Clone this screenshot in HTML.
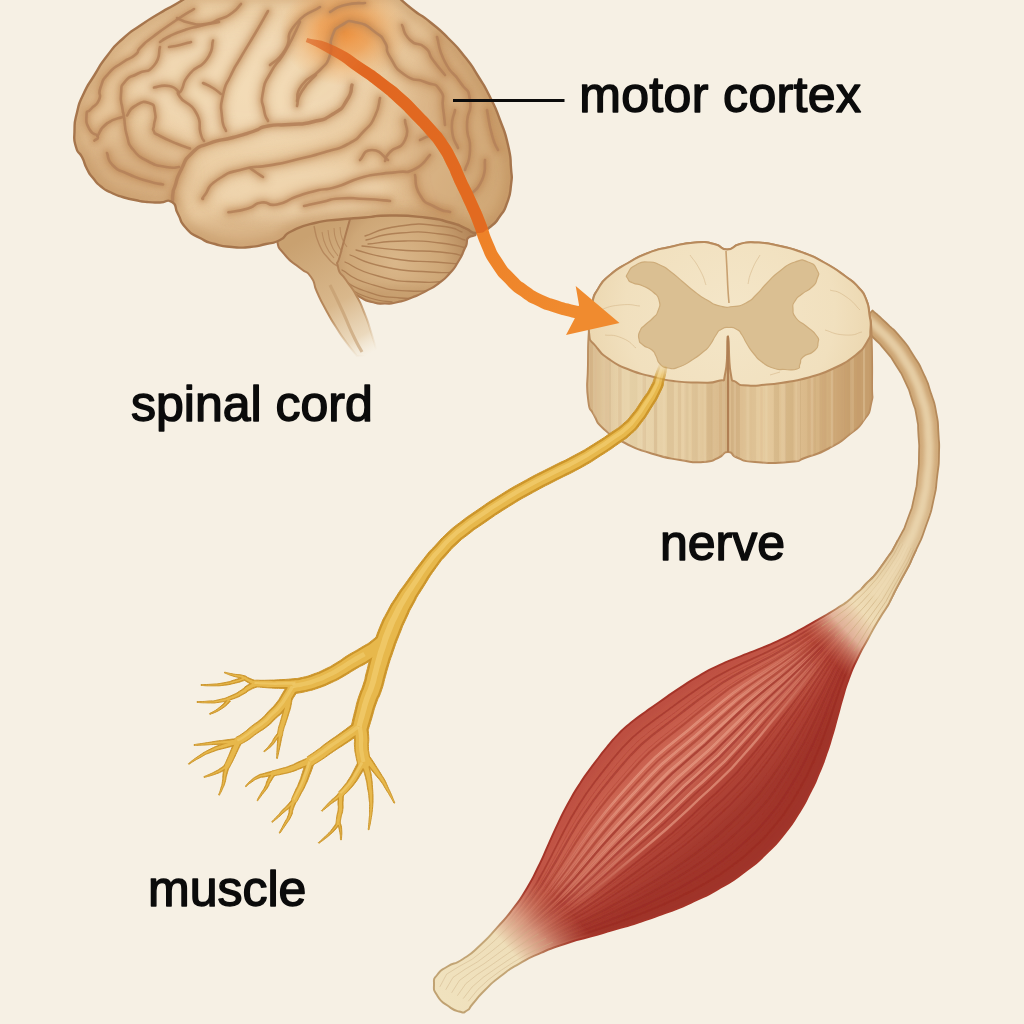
<!DOCTYPE html>
<html><head><meta charset="utf-8"><title>Motor pathway</title>
<style>html,body{margin:0;padding:0;background:#f6f0e4;}svg{display:block;}</style></head>
<body>
<svg width="1024" height="1024" viewBox="0 0 1024 1024">

<defs>
<filter id="b05" filterUnits="userSpaceOnUse" x="0" y="0" width="1024" height="1024"><feGaussianBlur stdDeviation="0.45"/></filter>
<filter id="b1" filterUnits="userSpaceOnUse" x="0" y="0" width="1024" height="1024"><feGaussianBlur stdDeviation="0.7"/></filter>
<filter id="b2" filterUnits="userSpaceOnUse" x="0" y="0" width="1024" height="1024"><feGaussianBlur stdDeviation="2"/></filter>
<filter id="b4" filterUnits="userSpaceOnUse" x="0" y="0" width="1024" height="1024"><feGaussianBlur stdDeviation="4"/></filter>
<filter id="b8" filterUnits="userSpaceOnUse" x="0" y="0" width="1024" height="1024"><feGaussianBlur stdDeviation="8"/></filter>
<filter id="b12" filterUnits="userSpaceOnUse" x="0" y="0" width="1024" height="1024"><feGaussianBlur stdDeviation="12"/></filter>
<radialGradient id="gBrain" gradientUnits="userSpaceOnUse" cx="250" cy="90" r="300">
 <stop offset="0" stop-color="#f0d6ae"/><stop offset=".55" stop-color="#e7c69a"/><stop offset="1" stop-color="#d2a874"/>
</radialGradient>
<radialGradient id="gGlow" cx=".5" cy=".5" r=".5">
 <stop offset="0" stop-color="#ee8c36" stop-opacity=".92"/><stop offset=".4" stop-color="#ef9440" stop-opacity=".68"/><stop offset=".75" stop-color="#f0a050" stop-opacity=".26"/><stop offset="1" stop-color="#f0a050" stop-opacity="0"/>
</radialGradient>
<radialGradient id="gCb" gradientUnits="userSpaceOnUse" cx="395" cy="262" r="80">
 <stop offset="0" stop-color="#dab78a"/><stop offset=".6" stop-color="#cea777"/><stop offset="1" stop-color="#b4875a"/>
</radialGradient>
<linearGradient id="gStem" gradientUnits="userSpaceOnUse" x1="300" y1="240" x2="366" y2="356">
 <stop offset="0" stop-color="#c9a170"/><stop offset=".55" stop-color="#d9b88c"/><stop offset=".85" stop-color="#e6cfac" stop-opacity=".7"/><stop offset="1" stop-color="#f0e2c8" stop-opacity="0"/>
</linearGradient>
<linearGradient id="gStemS" gradientUnits="userSpaceOnUse" x1="300" y1="240" x2="366" y2="356">
 <stop offset="0" stop-color="#a9774f"/><stop offset=".6" stop-color="#b88a5c"/><stop offset="1" stop-color="#d8b88c" stop-opacity="0"/>
</linearGradient>
<linearGradient id="gArrow" gradientUnits="userSpaceOnUse" x1="307" y1="41" x2="575" y2="311">
 <stop offset="0" stop-color="#ee8a3a" stop-opacity=".05"/><stop offset=".1" stop-color="#ec8030" stop-opacity=".8"/><stop offset=".16" stop-color="#ea7a2a"/><stop offset=".7" stop-color="#ee8228"/><stop offset="1" stop-color="#f08b2f"/>
</linearGradient>
<linearGradient id="gWall" gradientUnits="userSpaceOnUse" x1="588" y1="0" x2="872" y2="0">
 <stop offset="0" stop-color="#dfc59a"/><stop offset=".15" stop-color="#e9d5ad"/><stop offset=".45" stop-color="#e3c99d"/><stop offset=".6" stop-color="#e6cca0"/><stop offset=".85" stop-color="#d4b07f"/><stop offset="1" stop-color="#c9a270"/>
</linearGradient>
<radialGradient id="gTop" gradientUnits="userSpaceOnUse" cx="730" cy="312" r="150">
 <stop offset="0" stop-color="#f4e6c8"/><stop offset=".7" stop-color="#f1e0be"/><stop offset="1" stop-color="#ebd6ae"/>
</radialGradient>
<linearGradient id="gNerveR" gradientUnits="userSpaceOnUse" x1="866" y1="316" x2="845" y2="632">
 <stop offset="0" stop-color="#c9a06e"/><stop offset=".45" stop-color="#d0aa7a"/><stop offset=".72" stop-color="#dcc095"/><stop offset="1" stop-color="#e6cfa4"/>
</linearGradient>
<linearGradient id="gMusX" gradientUnits="userSpaceOnUse" x1="600" y1="740" x2="700" y2="850">
 <stop offset="0" stop-color="#c25646"/><stop offset=".35" stop-color="#c95f4d"/><stop offset=".7" stop-color="#b6483a"/><stop offset="1" stop-color="#a3392e"/>
</linearGradient>
<linearGradient id="gTend" gradientUnits="userSpaceOnUse" x1="918" y1="540" x2="436" y2="996">
 <stop offset="0" stop-color="#dcc095"/><stop offset=".08" stop-color="#e8d3a9"/><stop offset=".135" stop-color="#efdcb6"/><stop offset=".172" stop-color="#f0d2b6" stop-opacity=".78"/><stop offset=".22" stop-color="#d98a6e" stop-opacity="0"/>
 <stop offset=".765" stop-color="#d98a6e" stop-opacity="0"/><stop offset=".825" stop-color="#e9bfa0" stop-opacity=".65"/><stop offset=".872" stop-color="#efdfba"/><stop offset="1" stop-color="#f0e2be"/>
</linearGradient>
<linearGradient id="gMusS" gradientUnits="userSpaceOnUse" x1="918" y1="540" x2="436" y2="996">
 <stop offset="0" stop-color="#b58a5b"/><stop offset=".15" stop-color="#c4a070"/><stop offset=".2" stop-color="#a53428"/><stop offset=".788" stop-color="#a53428"/><stop offset=".876" stop-color="#c4a677"/><stop offset="1" stop-color="#c0a272"/>
</linearGradient>
<linearGradient id="gHi" gradientUnits="userSpaceOnUse" x1="918" y1="540" x2="436" y2="996">
 <stop offset=".24" stop-color="#efa78f" stop-opacity="0"/><stop offset=".38" stop-color="#efa78f" stop-opacity=".6"/><stop offset=".6" stop-color="#efa78f" stop-opacity=".6"/><stop offset=".752" stop-color="#efa78f" stop-opacity="0"/>
</linearGradient>
<linearGradient id="gYM" gradientUnits="userSpaceOnUse" x1="0" y1="363" x2="0" y2="384">
 <stop offset="0" stop-color="#000"/><stop offset="1" stop-color="#fff"/>
</linearGradient>
<mask id="mY" maskUnits="userSpaceOnUse" x="0" y="0" width="1024" height="1024"><rect width="1024" height="1024" fill="url(#gYM)"/></mask>
<linearGradient id="gYFade" gradientUnits="userSpaceOnUse" x1="0" y1="358" x2="0" y2="392">
 <stop offset="0" stop-color="#d8bb8c" stop-opacity="1"/><stop offset="1" stop-color="#d8bb8c" stop-opacity="0"/>
</linearGradient>
</defs>

<rect width="1024" height="1024" fill="#f6f0e4"/>
<path d="M340 230C335.8 244 336.7 238.3 335.5 250C334.3 261.7 334.7 255.7 336.5 265C338.3 274.3 336.8 270 341 278C345.2 286 342.7 282.7 349 289C355.3 295.3 352.3 292.7 360 297C367.7 301.3 363.7 299.8 372 302C380.3 304.2 376.3 303.5 385 303.5C393.7 303.5 389 304 398 302C407 300 402.7 301.2 412 297.5C421.3 293.8 417 295.8 426 291C435 286.2 431 289 439 283C447 277 443.7 280 450 273C456.3 266 453.3 269.7 458 262C462.7 254.3 461 257.3 464 250C467 242.7 466.7 247.3 467 240C467.3 232.7 487.3 239.3 465 228C442.7 216.7 439 212.7 400 206C361 199.3 368 200 348 208C328 216 344.2 216 340 230Z" fill="url(#gCb)" stroke="#a9774f" stroke-width="2.2"/>
<clipPath id="cCb"><path d="M340 230C335.8 244 336.7 238.3 335.5 250C334.3 261.7 334.7 255.7 336.5 265C338.3 274.3 336.8 270 341 278C345.2 286 342.7 282.7 349 289C355.3 295.3 352.3 292.7 360 297C367.7 301.3 363.7 299.8 372 302C380.3 304.2 376.3 303.5 385 303.5C393.7 303.5 389 304 398 302C407 300 402.7 301.2 412 297.5C421.3 293.8 417 295.8 426 291C435 286.2 431 289 439 283C447 277 443.7 280 450 273C456.3 266 453.3 269.7 458 262C462.7 254.3 461 257.3 464 250C467 242.7 466.7 247.3 467 240C467.3 232.7 487.3 239.3 465 228C442.7 216.7 439 212.7 400 206C361 199.3 368 200 348 208C328 216 344.2 216 340 230Z"/></clipPath>
<g clip-path="url(#cCb)"><ellipse cx="400" cy="300" rx="70" ry="14" fill="#b58858" opacity=".35" filter="url(#b4)"/></g>
<g fill="none" stroke="#a8784e" stroke-width="1.3" opacity=".85" stroke-linecap="round" clip-path="url(#cCb)">
<path d="M365 236C376.7 232.7 375 229.3 400 226C425 222.7 419.3 224 440 226C460.7 228 454.7 230 462 232"/>
<path d="M366 240C377.3 237.7 375.3 235 400 233C424.7 231 418.3 231.7 440 234C461.7 236.3 456.7 238 465 240"/>
<path d="M368 244C380.3 243 381 241.3 405 241C429 240.7 419.7 240.7 440 243C460.3 245.3 457.3 246.3 466 248"/>
<path d="M362 246C374.7 247.3 374 248 400 250C426 252 418.7 250 440 252C461.3 254 456 254.7 464 256"/>
<path d="M356 250C369 253 368.7 255 395 259C421.3 263 413.3 260.3 435 262C456.7 263.7 451.7 263.3 460 264"/>
<path d="M350 255C361.7 259 358.3 261.3 385 267C411.7 272.7 406.7 270.3 430 272C453.3 273.7 446.7 272 455 272"/>
<path d="M345 262C356 266.7 353 269.3 378 276C403 282.7 396.7 280.7 420 282C443.3 283.3 438.7 280.7 448 280"/>
<path d="M342 270C351.3 274.7 347.3 277 370 284C392.7 291 387.3 289.7 410 291C432.7 292.3 428.7 289 438 288"/>
<path d="M343 279C350.3 283 346 284.7 365 291C384 297.3 380 296.3 400 298C420 299.7 416.7 296.7 425 296"/>
<path d="M350 289C356.7 292 356 293.7 370 298C384 302.3 384.7 300.7 392 302"/>
</g>
<path d="M292 212C287.7 216.7 284 216.7 279 226C274 235.3 275 230.3 277 240C279 249.7 277.3 245.7 285 255C292.7 264.3 291.3 260.7 300 268C308.7 275.3 305.3 269 311 277C316.7 285 312 281 317 292C322 303 319.7 298.3 326 310C332.3 321.7 329.3 316.3 336 327C342.7 337.7 339 332.3 346 342C353 351.7 353.3 351.3 357 356L378 356C375.7 348 375.7 346.7 371 332C366.3 317.3 369 324.3 364 312C359 299.7 362 305.7 356 295C350 284.3 352 289.3 346 280C340 270.7 339.7 276.3 338 267C336.3 257.7 336.3 270.3 341 252C345.7 233.7 348.3 225.3 352 212Z" fill="url(#gStem)" stroke="url(#gStemS)" stroke-width="2"/>
<g fill="none" stroke="#b08156" stroke-width="1.1" opacity=".7">
<path d="M322 232C323.3 236.7 322 237.3 326 246C330 254.7 331.3 254 334 258"/>
<path d="M328 230C329 234.7 327.7 235.3 331 244C334.3 252.7 335.7 252 338 256"/>
<path d="M334 228C334.7 232 333.3 232 336 240C338.7 248 340 248 342 252"/>
<path d="M340 227C340.7 230.7 339.7 231.3 342 238C344.3 244.7 345.3 244 347 247"/>
</g>
<path d="M314 226C315.7 232 314.3 233.3 319 244C323.7 254.7 322 250.7 328 258C334 265.3 334 263.3 337 266" fill="none" stroke="#b08156" stroke-width="1.4" opacity=".8"/>
<path d="M330 285C334 293.3 334.3 293.3 342 310C349.7 326.7 346.3 321 353 335C359.7 349 359 346.3 362 352" fill="none" stroke="#c29a6c" stroke-width="3" opacity=".6"/>
<path d="M192 -6C186.7 -2.7 186.7 -2.3 176 4C165.3 10.3 171.7 6 160 13C148.3 20 153.5 16.3 141 25C128.5 33.7 133.8 28.7 122.5 39C111.2 49.3 116.3 44 107 56C97.7 68 102.3 62.3 94.5 75C86.7 87.7 89.3 81.5 83.5 94C77.7 106.5 80 100.2 77 112.5C74 124.8 74.8 119.5 74.5 131C74.2 142.5 73.5 138.3 76 147C78.5 155.7 78.3 149.7 82 157C85.7 164.3 83.3 162 87 169C90.7 176 88.3 172.2 93 178C97.7 183.8 95 181.7 101 186.5C107 191.3 103.8 189 111 192.5C118.2 196 114.5 194.5 122.5 197C130.5 199.5 126.8 198.3 135 200C143.2 201.7 138.7 201.2 147 202C155.3 202.8 151.7 202.5 160 202.5C168.3 202.5 166 198.2 172 202C178 205.8 173.3 205.3 178 214C182.7 222.7 178.7 220 186 228C193.3 236 190.3 232.7 200 238C209.7 243.3 204.3 241 215 244C225.7 247 220.3 246 232 247C243.7 248 238.7 248 250 247C261.3 246 256 246.3 266 244C276 241.7 271.3 244.3 280 240C288.7 235.7 280.3 236.7 292 231C303.7 225.3 299 226.8 315 223C331 219.2 323.3 221.3 340 219.5C356.7 217.7 348.3 218.8 365 217.5C381.7 216.2 370 215.5 390 215.5C410 215.5 405 215.2 425 217.5C445 219.8 436.7 219 450 222.5C463.3 226 456 224.5 465 228C474 231.5 468.7 233.3 477 233C485.3 232.7 482.3 232.7 490 227C497.7 221.3 494.3 224 500 216C505.7 208 503.3 213.3 507 203C510.7 192.7 509.7 196.7 511 185C512.3 173.3 512 181.3 511 168C510 154.7 511.7 161 508 145C504.3 129 506 136 500 120C494 104 497.3 111.7 490 97C482.7 82.3 486.3 89.3 478 76C469.7 62.7 475 69.7 465 57C455 44.3 459.7 49.7 448 38C436.3 26.3 442 31.7 430 22C418 12.3 423.7 18.3 412 9C400.3 -0.3 400.7 -1 395 -6Z" fill="url(#gBrain)"/>
<clipPath id="cBrain"><path d="M192 -6C186.7 -2.7 186.7 -2.3 176 4C165.3 10.3 171.7 6 160 13C148.3 20 153.5 16.3 141 25C128.5 33.7 133.8 28.7 122.5 39C111.2 49.3 116.3 44 107 56C97.7 68 102.3 62.3 94.5 75C86.7 87.7 89.3 81.5 83.5 94C77.7 106.5 80 100.2 77 112.5C74 124.8 74.8 119.5 74.5 131C74.2 142.5 73.5 138.3 76 147C78.5 155.7 78.3 149.7 82 157C85.7 164.3 83.3 162 87 169C90.7 176 88.3 172.2 93 178C97.7 183.8 95 181.7 101 186.5C107 191.3 103.8 189 111 192.5C118.2 196 114.5 194.5 122.5 197C130.5 199.5 126.8 198.3 135 200C143.2 201.7 138.7 201.2 147 202C155.3 202.8 151.7 202.5 160 202.5C168.3 202.5 166 198.2 172 202C178 205.8 173.3 205.3 178 214C182.7 222.7 178.7 220 186 228C193.3 236 190.3 232.7 200 238C209.7 243.3 204.3 241 215 244C225.7 247 220.3 246 232 247C243.7 248 238.7 248 250 247C261.3 246 256 246.3 266 244C276 241.7 271.3 244.3 280 240C288.7 235.7 280.3 236.7 292 231C303.7 225.3 299 226.8 315 223C331 219.2 323.3 221.3 340 219.5C356.7 217.7 348.3 218.8 365 217.5C381.7 216.2 370 215.5 390 215.5C410 215.5 405 215.2 425 217.5C445 219.8 436.7 219 450 222.5C463.3 226 456 224.5 465 228C474 231.5 468.7 233.3 477 233C485.3 232.7 482.3 232.7 490 227C497.7 221.3 494.3 224 500 216C505.7 208 503.3 213.3 507 203C510.7 192.7 509.7 196.7 511 185C512.3 173.3 512 181.3 511 168C510 154.7 511.7 161 508 145C504.3 129 506 136 500 120C494 104 497.3 111.7 490 97C482.7 82.3 486.3 89.3 478 76C469.7 62.7 475 69.7 465 57C455 44.3 459.7 49.7 448 38C436.3 26.3 442 31.7 430 22C418 12.3 423.7 18.3 412 9C400.3 -0.3 400.7 -1 395 -6Z"/></clipPath>
<g clip-path="url(#cBrain)">
<ellipse cx="470" cy="150" rx="70" ry="120" fill="#c79a6a" opacity=".35" filter="url(#b12)"/>
<ellipse cx="125" cy="175" rx="62" ry="38" fill="#c39362" opacity=".42" filter="url(#b12)"/>
<ellipse cx="330" cy="235" rx="160" ry="22" fill="#b88859" opacity=".30" filter="url(#b8)"/>
<ellipse cx="250" cy="80" rx="120" ry="60" fill="#f6e2c2" opacity=".45" filter="url(#b12)"/>
<ellipse cx="300" cy="190" rx="90" ry="28" fill="#f3dcb8" opacity=".5" filter="url(#b8)"/>
<path d="M192 -6C186.7 -2.7 186.7 -2.3 176 4C165.3 10.3 171.7 6 160 13C148.3 20 153.5 16.3 141 25C128.5 33.7 133.8 28.7 122.5 39C111.2 49.3 116.3 44 107 56C97.7 68 102.3 62.3 94.5 75C86.7 87.7 89.3 81.5 83.5 94C77.7 106.5 80 100.2 77 112.5C74 124.8 74.8 119.5 74.5 131C74.2 142.5 73.5 138.3 76 147C78.5 155.7 78.3 149.7 82 157C85.7 164.3 83.3 162 87 169C90.7 176 88.3 172.2 93 178C97.7 183.8 95 181.7 101 186.5C107 191.3 103.8 189 111 192.5C118.2 196 114.5 194.5 122.5 197C130.5 199.5 126.8 198.3 135 200C143.2 201.7 138.7 201.2 147 202C155.3 202.8 151.7 202.5 160 202.5C168.3 202.5 166 198.2 172 202C178 205.8 173.3 205.3 178 214C182.7 222.7 178.7 220 186 228C193.3 236 190.3 232.7 200 238C209.7 243.3 204.3 241 215 244C225.7 247 220.3 246 232 247C243.7 248 238.7 248 250 247C261.3 246 256 246.3 266 244C276 241.7 271.3 244.3 280 240C288.7 235.7 280.3 236.7 292 231C303.7 225.3 299 226.8 315 223C331 219.2 323.3 221.3 340 219.5C356.7 217.7 348.3 218.8 365 217.5C381.7 216.2 370 215.5 390 215.5C410 215.5 405 215.2 425 217.5C445 219.8 436.7 219 450 222.5C463.3 226 456 224.5 465 228C474 231.5 468.7 233.3 477 233C485.3 232.7 482.3 232.7 490 227C497.7 221.3 494.3 224 500 216C505.7 208 503.3 213.3 507 203C510.7 192.7 509.7 196.7 511 185C512.3 173.3 512 181.3 511 168C510 154.7 511.7 161 508 145C504.3 129 506 136 500 120C494 104 497.3 111.7 490 97C482.7 82.3 486.3 89.3 478 76C469.7 62.7 475 69.7 465 57C455 44.3 459.7 49.7 448 38C436.3 26.3 442 31.7 430 22C418 12.3 423.7 18.3 412 9C400.3 -0.3 400.7 -1 395 -6Z" fill="none" stroke="#b58350" stroke-width="16" opacity=".33" filter="url(#b4)"/>
<ellipse cx="344" cy="32" rx="64" ry="54" fill="url(#gGlow)"/>
</g>
<g clip-path="url(#cBrain)" fill="none" stroke-linecap="round" stroke-linejoin="round">
<g filter="url(#b4)" opacity=".42" stroke="#c08a58" stroke-width="12">
<path d="M172.5 201C172.7 198.3 172.2 198 173 193C173.8 188 172.3 193.7 175 186C177.7 178.3 175.3 181 181 170C186.7 159 182.7 161.8 192 153C201.3 144.2 195.3 148.7 209 143.5C222.7 138.3 218.3 141.5 233 137.5C247.7 133.5 241.3 135.3 253 131.5C264.7 127.7 255.7 128.3 268 126C280.3 123.7 275.3 125.8 290 124.5C304.7 123.2 297.7 125.5 312 122C326.3 118.5 321.3 121.3 333 114C344.7 106.7 340.7 109.7 347 100C353.3 90.3 350.3 90 352 85"/>
<path d="M194 9C187.7 13 188.3 12 175 21C161.7 30 165.3 27.3 154 36C142.7 44.7 147.3 40.7 141 47C134.7 53.3 141.2 49.8 135 55C128.8 60.2 131.3 56.3 122.5 62.5C113.7 68.7 115.8 65.2 108.5 73.5C101.2 81.8 103.7 78.7 100.5 87.5C97.3 96.3 102.2 92.8 99 100C95.8 107.2 95.2 103.8 91 109C86.8 114.2 86.9 108.6 86.5 115.5C86.1 122.4 86 122.9 89.7 129.7C93.4 136.5 95.9 132.4 97.5 136C99.1 139.6 95.4 139.1 94.4 140.6"/>
<path d="M219 22C212.7 23.3 211.3 23.3 200 26C188.7 28.7 195 26.7 185 30C175 33.3 178.3 32 170 36C161.7 40 163.3 40 160 42"/>
<path d="M191 42C187.3 43 187.3 43.3 180 45C172.7 46.7 172.7 46.3 169 47"/>
<path d="M177 18C181.3 19.7 180.7 21 190 23C199.3 25 195 25.3 205 24C215 22.7 211 22.7 220 19C229 15.3 225 18 232 13C239 8 238 7 241 4"/>
<path d="M213 40.6C211 46.7 214.7 48 207 59C199.3 70 198.3 63.5 190 73.5C181.7 83.5 185.3 81.2 182 89C178.7 96.8 175.3 89.2 180 97C184.7 104.8 189.2 100.5 196 112.5C202.8 124.5 197.8 123.5 200.5 133C203.2 142.5 202.8 138.3 204 141"/>
<path d="M268 11C264 18 265 16.7 256 32C247 47.3 249.3 42.7 241 57C232.7 71.3 237 62.3 231 75C225 87.7 226 81 223 95C220 109 221 105 222 117C223 129 224.7 126.3 226 131"/>
<path d="M300 22C295.3 31.3 295.7 33.3 286 50C276.3 66.7 278.7 58 271 72C263.3 86 265.3 79.3 263 92C260.7 104.7 262.3 100.3 264 110C265.7 119.7 266.7 117.3 268 121"/>
<path d="M316 75C311.3 80.3 308.3 80.7 302 91C295.7 101.3 298.7 101 297 106"/>
<path d="M160 47C158 53.2 161.3 56.7 154 65.5C146.7 74.3 147.5 68.3 138 73.5C128.5 78.7 131.2 74.2 125.5 81C119.8 87.8 122 84.7 121 94C120 103.3 121.5 101.3 122.5 109C123.5 116.7 122.5 108 124 117C125.5 126 123.8 125 127 136C130.2 147 126.7 141.7 133.5 150C140.3 158.3 136.7 155.3 147.5 161C158.3 166.7 155.5 165 166 167C176.5 169 174.7 167 179 167"/>
<path d="M154 87.5C159 87 160.7 84.5 169 86C177.3 87.5 175.7 90 179 92"/>
<path d="M97.5 136C100.7 131.8 98.7 129.7 107 123.4C115.3 117.1 117.3 119.1 122.5 117"/>
<path d="M127 115.5C129.7 112.3 127.7 110.2 135 106C142.3 101.8 142.3 100.8 149 103C155.7 105.2 153.3 105.2 155 112.5C156.7 119.8 154.4 118.8 154 125C153.6 131.2 151.8 127.3 153.8 131C155.8 134.7 152.2 131.8 160 136C167.8 140.2 167 139.6 177 143.8C187 147.9 185.7 146.9 190 148.5"/>
<path d="M107 153C109 157.2 106.3 158.7 113 165.5C119.7 172.3 115.5 168.3 127 173.5C138.5 178.7 135.5 177.3 147.5 181C159.5 184.7 157.8 183.3 163 184.5"/>
<path d="M203 199C203.7 197.6 199.8 201.4 205 194.7C210.2 188 205.6 187.6 218.6 179C231.6 170.4 227.1 173.5 244 169C260.9 164.5 251.8 168.6 269.4 165.4C287 162.2 277.8 164.1 296.7 159.5C315.6 154.9 308.9 156.9 326 151.7C343.1 146.5 335.3 150.9 348 144C360.7 137.1 355 140.3 364 131C373 121.7 369.7 127 375 116C380.3 105 378.3 104 380 98"/>
<path d="M250 168C252.3 169.7 252.7 170 257 173C261.3 176 261 175.7 263 177"/>
<path d="M203 83C206.3 84.7 207 84.3 213 88C219 91.7 218.3 92 221 94"/>
<path d="M228.4 212.3C234.9 211 236.9 211.7 248 208.4C259.1 205.1 251.9 203.8 261.6 202.5C271.3 201.2 265.3 206.5 277 204.5C288.7 202.5 283.7 201.2 296.7 196.6C309.7 192 302.9 194 316 190.8C329.1 187.6 321.3 191.3 336 187C350.7 182.7 345.3 182.3 360 178C374.7 173.7 367.3 176 380 174C392.7 172 386.3 173.7 398 172C409.7 170.3 404.3 174.7 415 169C425.7 163.3 425 159.7 430 155"/>
<path d="M304 206C310 204.7 310 204.5 322 202C334 199.5 325.7 199.5 340 198.5C354.3 197.5 348.3 198.2 365 199C381.7 199.8 381.7 200.3 390 201"/>
<path d="M297 101C298.7 95.7 294.3 95.3 302 85C309.7 74.7 310.7 80 320 70C329.3 60 326 66 330 55C334 44 328 47 332 37C336 27 333.7 29.8 342 25C350.3 20.2 346 20.2 357 22.5C368 24.8 365.7 25.3 375 32C384.3 38.7 380 34.2 385 42.5C390 50.8 383.3 46.2 390 57C396.7 67.8 393.3 66.7 405 75C416.7 83.3 413.3 77 425 82C436.7 87 434 81.3 440 90C446 98.7 441.3 96.3 443 108C444.7 119.7 444.3 119.3 445 125"/>
<path d="M270 65C275 60 276.7 63.3 285 50C293.3 36.7 283.3 39.3 295 25C306.7 10.7 311.7 13 320 7"/>
<path d="M402 25C404.7 30 402.3 32.5 410 40C417.7 47.5 417.3 40.8 425 47.5C432.7 54.2 426.3 50.8 433 60C439.7 69.2 441 70 445 75"/>
<path d="M405 120C405 126.7 410 129.3 405 140C400 150.7 396.7 145 390 152C383.3 159 386.7 158 385 161"/>
<path d="M415 175C416.7 181.7 413.3 184.3 420 195C426.7 205.7 425 201.3 435 207C445 212.7 445 210.3 450 212"/>
<path d="M437 37C439.7 45.3 437.3 47 445 62C452.7 77 451.7 69.3 460 82C468.3 94.7 467.7 85.7 470 100C472.3 114.3 467 108.3 467 125C467 141.7 470.7 135 470 150C469.3 165 466.7 163.3 465 170"/>
<path d="M485 160C484 166.7 487 168.3 482 180C477 191.7 474 190 470 195"/>
<path d="M487 110C488.7 118.3 488.3 121.7 492 135C495.7 148.3 496 145 498 150"/>
<path d="M455 110C454 116.7 451 117.3 452 130C453 142.7 456 142 458 148"/>
<path d="M360 160C364 156.7 362.7 150 372 150C381.3 150 382.7 156.7 388 160"/>
<path d="M330 12C335 9.7 333.3 8 345 5C356.7 2 358.3 3.7 365 3"/>
<path d="M420 140C425 138.3 426.7 135 435 135C443.3 135 441.7 138.3 445 140"/>
</g>
<g filter="url(#b2)" opacity=".45" stroke="#b9824f" stroke-width="5">
<path d="M172.5 201C172.7 198.3 172.2 198 173 193C173.8 188 172.3 193.7 175 186C177.7 178.3 175.3 181 181 170C186.7 159 182.7 161.8 192 153C201.3 144.2 195.3 148.7 209 143.5C222.7 138.3 218.3 141.5 233 137.5C247.7 133.5 241.3 135.3 253 131.5C264.7 127.7 255.7 128.3 268 126C280.3 123.7 275.3 125.8 290 124.5C304.7 123.2 297.7 125.5 312 122C326.3 118.5 321.3 121.3 333 114C344.7 106.7 340.7 109.7 347 100C353.3 90.3 350.3 90 352 85"/>
<path d="M194 9C187.7 13 188.3 12 175 21C161.7 30 165.3 27.3 154 36C142.7 44.7 147.3 40.7 141 47C134.7 53.3 141.2 49.8 135 55C128.8 60.2 131.3 56.3 122.5 62.5C113.7 68.7 115.8 65.2 108.5 73.5C101.2 81.8 103.7 78.7 100.5 87.5C97.3 96.3 102.2 92.8 99 100C95.8 107.2 95.2 103.8 91 109C86.8 114.2 86.9 108.6 86.5 115.5C86.1 122.4 86 122.9 89.7 129.7C93.4 136.5 95.9 132.4 97.5 136C99.1 139.6 95.4 139.1 94.4 140.6"/>
<path d="M219 22C212.7 23.3 211.3 23.3 200 26C188.7 28.7 195 26.7 185 30C175 33.3 178.3 32 170 36C161.7 40 163.3 40 160 42"/>
<path d="M191 42C187.3 43 187.3 43.3 180 45C172.7 46.7 172.7 46.3 169 47"/>
<path d="M177 18C181.3 19.7 180.7 21 190 23C199.3 25 195 25.3 205 24C215 22.7 211 22.7 220 19C229 15.3 225 18 232 13C239 8 238 7 241 4"/>
<path d="M213 40.6C211 46.7 214.7 48 207 59C199.3 70 198.3 63.5 190 73.5C181.7 83.5 185.3 81.2 182 89C178.7 96.8 175.3 89.2 180 97C184.7 104.8 189.2 100.5 196 112.5C202.8 124.5 197.8 123.5 200.5 133C203.2 142.5 202.8 138.3 204 141"/>
<path d="M268 11C264 18 265 16.7 256 32C247 47.3 249.3 42.7 241 57C232.7 71.3 237 62.3 231 75C225 87.7 226 81 223 95C220 109 221 105 222 117C223 129 224.7 126.3 226 131"/>
<path d="M300 22C295.3 31.3 295.7 33.3 286 50C276.3 66.7 278.7 58 271 72C263.3 86 265.3 79.3 263 92C260.7 104.7 262.3 100.3 264 110C265.7 119.7 266.7 117.3 268 121"/>
<path d="M316 75C311.3 80.3 308.3 80.7 302 91C295.7 101.3 298.7 101 297 106"/>
<path d="M160 47C158 53.2 161.3 56.7 154 65.5C146.7 74.3 147.5 68.3 138 73.5C128.5 78.7 131.2 74.2 125.5 81C119.8 87.8 122 84.7 121 94C120 103.3 121.5 101.3 122.5 109C123.5 116.7 122.5 108 124 117C125.5 126 123.8 125 127 136C130.2 147 126.7 141.7 133.5 150C140.3 158.3 136.7 155.3 147.5 161C158.3 166.7 155.5 165 166 167C176.5 169 174.7 167 179 167"/>
<path d="M154 87.5C159 87 160.7 84.5 169 86C177.3 87.5 175.7 90 179 92"/>
<path d="M97.5 136C100.7 131.8 98.7 129.7 107 123.4C115.3 117.1 117.3 119.1 122.5 117"/>
<path d="M127 115.5C129.7 112.3 127.7 110.2 135 106C142.3 101.8 142.3 100.8 149 103C155.7 105.2 153.3 105.2 155 112.5C156.7 119.8 154.4 118.8 154 125C153.6 131.2 151.8 127.3 153.8 131C155.8 134.7 152.2 131.8 160 136C167.8 140.2 167 139.6 177 143.8C187 147.9 185.7 146.9 190 148.5"/>
<path d="M107 153C109 157.2 106.3 158.7 113 165.5C119.7 172.3 115.5 168.3 127 173.5C138.5 178.7 135.5 177.3 147.5 181C159.5 184.7 157.8 183.3 163 184.5"/>
<path d="M203 199C203.7 197.6 199.8 201.4 205 194.7C210.2 188 205.6 187.6 218.6 179C231.6 170.4 227.1 173.5 244 169C260.9 164.5 251.8 168.6 269.4 165.4C287 162.2 277.8 164.1 296.7 159.5C315.6 154.9 308.9 156.9 326 151.7C343.1 146.5 335.3 150.9 348 144C360.7 137.1 355 140.3 364 131C373 121.7 369.7 127 375 116C380.3 105 378.3 104 380 98"/>
<path d="M250 168C252.3 169.7 252.7 170 257 173C261.3 176 261 175.7 263 177"/>
<path d="M203 83C206.3 84.7 207 84.3 213 88C219 91.7 218.3 92 221 94"/>
<path d="M228.4 212.3C234.9 211 236.9 211.7 248 208.4C259.1 205.1 251.9 203.8 261.6 202.5C271.3 201.2 265.3 206.5 277 204.5C288.7 202.5 283.7 201.2 296.7 196.6C309.7 192 302.9 194 316 190.8C329.1 187.6 321.3 191.3 336 187C350.7 182.7 345.3 182.3 360 178C374.7 173.7 367.3 176 380 174C392.7 172 386.3 173.7 398 172C409.7 170.3 404.3 174.7 415 169C425.7 163.3 425 159.7 430 155"/>
<path d="M304 206C310 204.7 310 204.5 322 202C334 199.5 325.7 199.5 340 198.5C354.3 197.5 348.3 198.2 365 199C381.7 199.8 381.7 200.3 390 201"/>
<path d="M297 101C298.7 95.7 294.3 95.3 302 85C309.7 74.7 310.7 80 320 70C329.3 60 326 66 330 55C334 44 328 47 332 37C336 27 333.7 29.8 342 25C350.3 20.2 346 20.2 357 22.5C368 24.8 365.7 25.3 375 32C384.3 38.7 380 34.2 385 42.5C390 50.8 383.3 46.2 390 57C396.7 67.8 393.3 66.7 405 75C416.7 83.3 413.3 77 425 82C436.7 87 434 81.3 440 90C446 98.7 441.3 96.3 443 108C444.7 119.7 444.3 119.3 445 125"/>
<path d="M270 65C275 60 276.7 63.3 285 50C293.3 36.7 283.3 39.3 295 25C306.7 10.7 311.7 13 320 7"/>
<path d="M402 25C404.7 30 402.3 32.5 410 40C417.7 47.5 417.3 40.8 425 47.5C432.7 54.2 426.3 50.8 433 60C439.7 69.2 441 70 445 75"/>
<path d="M405 120C405 126.7 410 129.3 405 140C400 150.7 396.7 145 390 152C383.3 159 386.7 158 385 161"/>
<path d="M415 175C416.7 181.7 413.3 184.3 420 195C426.7 205.7 425 201.3 435 207C445 212.7 445 210.3 450 212"/>
<path d="M437 37C439.7 45.3 437.3 47 445 62C452.7 77 451.7 69.3 460 82C468.3 94.7 467.7 85.7 470 100C472.3 114.3 467 108.3 467 125C467 141.7 470.7 135 470 150C469.3 165 466.7 163.3 465 170"/>
<path d="M485 160C484 166.7 487 168.3 482 180C477 191.7 474 190 470 195"/>
<path d="M487 110C488.7 118.3 488.3 121.7 492 135C495.7 148.3 496 145 498 150"/>
<path d="M455 110C454 116.7 451 117.3 452 130C453 142.7 456 142 458 148"/>
<path d="M360 160C364 156.7 362.7 150 372 150C381.3 150 382.7 156.7 388 160"/>
<path d="M330 12C335 9.7 333.3 8 345 5C356.7 2 358.3 3.7 365 3"/>
<path d="M420 140C425 138.3 426.7 135 435 135C443.3 135 441.7 138.3 445 140"/>
</g>
<g filter="url(#b05)">
<path d="M172.5 201C172.7 198.3 172.2 198 173 193C173.8 188 172.3 193.7 175 186C177.7 178.3 175.3 181 181 170C186.7 159 182.7 161.8 192 153C201.3 144.2 195.3 148.7 209 143.5C222.7 138.3 218.3 141.5 233 137.5C247.7 133.5 241.3 135.3 253 131.5C264.7 127.7 255.7 128.3 268 126C280.3 123.7 275.3 125.8 290 124.5C304.7 123.2 297.7 125.5 312 122C326.3 118.5 321.3 121.3 333 114C344.7 106.7 340.7 109.7 347 100C353.3 90.3 350.3 90 352 85" stroke="#b5825a" stroke-width="3.4" opacity=".92"/>
<path d="M194 9C187.7 13 188.3 12 175 21C161.7 30 165.3 27.3 154 36C142.7 44.7 147.3 40.7 141 47C134.7 53.3 141.2 49.8 135 55C128.8 60.2 131.3 56.3 122.5 62.5C113.7 68.7 115.8 65.2 108.5 73.5C101.2 81.8 103.7 78.7 100.5 87.5C97.3 96.3 102.2 92.8 99 100C95.8 107.2 95.2 103.8 91 109C86.8 114.2 86.9 108.6 86.5 115.5C86.1 122.4 86 122.9 89.7 129.7C93.4 136.5 95.9 132.4 97.5 136C99.1 139.6 95.4 139.1 94.4 140.6" stroke="#b5825a" stroke-width="2.6" opacity=".92"/>
<path d="M219 22C212.7 23.3 211.3 23.3 200 26C188.7 28.7 195 26.7 185 30C175 33.3 178.3 32 170 36C161.7 40 163.3 40 160 42" stroke="#b5825a" stroke-width="2.6" opacity=".92"/>
<path d="M191 42C187.3 43 187.3 43.3 180 45C172.7 46.7 172.7 46.3 169 47" stroke="#b5825a" stroke-width="2.6" opacity=".92"/>
<path d="M177 18C181.3 19.7 180.7 21 190 23C199.3 25 195 25.3 205 24C215 22.7 211 22.7 220 19C229 15.3 225 18 232 13C239 8 238 7 241 4" stroke="#b5825a" stroke-width="2.6" opacity=".92"/>
<path d="M213 40.6C211 46.7 214.7 48 207 59C199.3 70 198.3 63.5 190 73.5C181.7 83.5 185.3 81.2 182 89C178.7 96.8 175.3 89.2 180 97C184.7 104.8 189.2 100.5 196 112.5C202.8 124.5 197.8 123.5 200.5 133C203.2 142.5 202.8 138.3 204 141" stroke="#b5825a" stroke-width="2.6" opacity=".92"/>
<path d="M268 11C264 18 265 16.7 256 32C247 47.3 249.3 42.7 241 57C232.7 71.3 237 62.3 231 75C225 87.7 226 81 223 95C220 109 221 105 222 117C223 129 224.7 126.3 226 131" stroke="#b5825a" stroke-width="2.6" opacity=".92"/>
<path d="M300 22C295.3 31.3 295.7 33.3 286 50C276.3 66.7 278.7 58 271 72C263.3 86 265.3 79.3 263 92C260.7 104.7 262.3 100.3 264 110C265.7 119.7 266.7 117.3 268 121" stroke="#b5825a" stroke-width="2.6" opacity=".92"/>
<path d="M316 75C311.3 80.3 308.3 80.7 302 91C295.7 101.3 298.7 101 297 106" stroke="#b5825a" stroke-width="2.6" opacity=".92"/>
<path d="M160 47C158 53.2 161.3 56.7 154 65.5C146.7 74.3 147.5 68.3 138 73.5C128.5 78.7 131.2 74.2 125.5 81C119.8 87.8 122 84.7 121 94C120 103.3 121.5 101.3 122.5 109C123.5 116.7 122.5 108 124 117C125.5 126 123.8 125 127 136C130.2 147 126.7 141.7 133.5 150C140.3 158.3 136.7 155.3 147.5 161C158.3 166.7 155.5 165 166 167C176.5 169 174.7 167 179 167" stroke="#b5825a" stroke-width="2.6" opacity=".92"/>
<path d="M154 87.5C159 87 160.7 84.5 169 86C177.3 87.5 175.7 90 179 92" stroke="#b5825a" stroke-width="2.6" opacity=".92"/>
<path d="M97.5 136C100.7 131.8 98.7 129.7 107 123.4C115.3 117.1 117.3 119.1 122.5 117" stroke="#b5825a" stroke-width="2.6" opacity=".92"/>
<path d="M127 115.5C129.7 112.3 127.7 110.2 135 106C142.3 101.8 142.3 100.8 149 103C155.7 105.2 153.3 105.2 155 112.5C156.7 119.8 154.4 118.8 154 125C153.6 131.2 151.8 127.3 153.8 131C155.8 134.7 152.2 131.8 160 136C167.8 140.2 167 139.6 177 143.8C187 147.9 185.7 146.9 190 148.5" stroke="#b5825a" stroke-width="2.6" opacity=".92"/>
<path d="M107 153C109 157.2 106.3 158.7 113 165.5C119.7 172.3 115.5 168.3 127 173.5C138.5 178.7 135.5 177.3 147.5 181C159.5 184.7 157.8 183.3 163 184.5" stroke="#b5825a" stroke-width="2.6" opacity=".92"/>
<path d="M203 199C203.7 197.6 199.8 201.4 205 194.7C210.2 188 205.6 187.6 218.6 179C231.6 170.4 227.1 173.5 244 169C260.9 164.5 251.8 168.6 269.4 165.4C287 162.2 277.8 164.1 296.7 159.5C315.6 154.9 308.9 156.9 326 151.7C343.1 146.5 335.3 150.9 348 144C360.7 137.1 355 140.3 364 131C373 121.7 369.7 127 375 116C380.3 105 378.3 104 380 98" stroke="#b5825a" stroke-width="2.6" opacity=".92"/>
<path d="M250 168C252.3 169.7 252.7 170 257 173C261.3 176 261 175.7 263 177" stroke="#b5825a" stroke-width="2.6" opacity=".92"/>
<path d="M203 83C206.3 84.7 207 84.3 213 88C219 91.7 218.3 92 221 94" stroke="#b5825a" stroke-width="2.6" opacity=".92"/>
<path d="M228.4 212.3C234.9 211 236.9 211.7 248 208.4C259.1 205.1 251.9 203.8 261.6 202.5C271.3 201.2 265.3 206.5 277 204.5C288.7 202.5 283.7 201.2 296.7 196.6C309.7 192 302.9 194 316 190.8C329.1 187.6 321.3 191.3 336 187C350.7 182.7 345.3 182.3 360 178C374.7 173.7 367.3 176 380 174C392.7 172 386.3 173.7 398 172C409.7 170.3 404.3 174.7 415 169C425.7 163.3 425 159.7 430 155" stroke="#b5825a" stroke-width="2.6" opacity=".92"/>
<path d="M304 206C310 204.7 310 204.5 322 202C334 199.5 325.7 199.5 340 198.5C354.3 197.5 348.3 198.2 365 199C381.7 199.8 381.7 200.3 390 201" stroke="#b5825a" stroke-width="2.6" opacity=".92"/>
<path d="M297 101C298.7 95.7 294.3 95.3 302 85C309.7 74.7 310.7 80 320 70C329.3 60 326 66 330 55C334 44 328 47 332 37C336 27 333.7 29.8 342 25C350.3 20.2 346 20.2 357 22.5C368 24.8 365.7 25.3 375 32C384.3 38.7 380 34.2 385 42.5C390 50.8 383.3 46.2 390 57C396.7 67.8 393.3 66.7 405 75C416.7 83.3 413.3 77 425 82C436.7 87 434 81.3 440 90C446 98.7 441.3 96.3 443 108C444.7 119.7 444.3 119.3 445 125" stroke="#b5825a" stroke-width="2.6" opacity=".92"/>
<path d="M270 65C275 60 276.7 63.3 285 50C293.3 36.7 283.3 39.3 295 25C306.7 10.7 311.7 13 320 7" stroke="#b5825a" stroke-width="2.6" opacity=".92"/>
<path d="M402 25C404.7 30 402.3 32.5 410 40C417.7 47.5 417.3 40.8 425 47.5C432.7 54.2 426.3 50.8 433 60C439.7 69.2 441 70 445 75" stroke="#b5825a" stroke-width="2.6" opacity=".92"/>
<path d="M405 120C405 126.7 410 129.3 405 140C400 150.7 396.7 145 390 152C383.3 159 386.7 158 385 161" stroke="#b5825a" stroke-width="2.6" opacity=".92"/>
<path d="M415 175C416.7 181.7 413.3 184.3 420 195C426.7 205.7 425 201.3 435 207C445 212.7 445 210.3 450 212" stroke="#b5825a" stroke-width="2.6" opacity=".92"/>
<path d="M437 37C439.7 45.3 437.3 47 445 62C452.7 77 451.7 69.3 460 82C468.3 94.7 467.7 85.7 470 100C472.3 114.3 467 108.3 467 125C467 141.7 470.7 135 470 150C469.3 165 466.7 163.3 465 170" stroke="#b5825a" stroke-width="2.6" opacity=".92"/>
<path d="M485 160C484 166.7 487 168.3 482 180C477 191.7 474 190 470 195" stroke="#b5825a" stroke-width="2.6" opacity=".92"/>
<path d="M487 110C488.7 118.3 488.3 121.7 492 135C495.7 148.3 496 145 498 150" stroke="#b5825a" stroke-width="2.6" opacity=".92"/>
<path d="M455 110C454 116.7 451 117.3 452 130C453 142.7 456 142 458 148" stroke="#b5825a" stroke-width="2.6" opacity=".92"/>
<path d="M360 160C364 156.7 362.7 150 372 150C381.3 150 382.7 156.7 388 160" stroke="#b5825a" stroke-width="2.6" opacity=".92"/>
<path d="M330 12C335 9.7 333.3 8 345 5C356.7 2 358.3 3.7 365 3" stroke="#b5825a" stroke-width="2.6" opacity=".92"/>
<path d="M420 140C425 138.3 426.7 135 435 135C443.3 135 441.7 138.3 445 140" stroke="#b5825a" stroke-width="2.6" opacity=".92"/>
</g>
</g>
<path d="M192 -6C186.7 -2.7 186.7 -2.3 176 4C165.3 10.3 171.7 6 160 13C148.3 20 153.5 16.3 141 25C128.5 33.7 133.8 28.7 122.5 39C111.2 49.3 116.3 44 107 56C97.7 68 102.3 62.3 94.5 75C86.7 87.7 89.3 81.5 83.5 94C77.7 106.5 80 100.2 77 112.5C74 124.8 74.8 119.5 74.5 131C74.2 142.5 73.5 138.3 76 147C78.5 155.7 78.3 149.7 82 157C85.7 164.3 83.3 162 87 169C90.7 176 88.3 172.2 93 178C97.7 183.8 95 181.7 101 186.5C107 191.3 103.8 189 111 192.5C118.2 196 114.5 194.5 122.5 197C130.5 199.5 126.8 198.3 135 200C143.2 201.7 138.7 201.2 147 202C155.3 202.8 151.7 202.5 160 202.5C168.3 202.5 166 198.2 172 202C178 205.8 173.3 205.3 178 214C182.7 222.7 178.7 220 186 228C193.3 236 190.3 232.7 200 238C209.7 243.3 204.3 241 215 244C225.7 247 220.3 246 232 247C243.7 248 238.7 248 250 247C261.3 246 256 246.3 266 244C276 241.7 271.3 244.3 280 240C288.7 235.7 280.3 236.7 292 231C303.7 225.3 299 226.8 315 223C331 219.2 323.3 221.3 340 219.5C356.7 217.7 348.3 218.8 365 217.5C381.7 216.2 370 215.5 390 215.5C410 215.5 405 215.2 425 217.5C445 219.8 436.7 219 450 222.5C463.3 226 456 224.5 465 228C474 231.5 468.7 233.3 477 233C485.3 232.7 482.3 232.7 490 227C497.7 221.3 494.3 224 500 216C505.7 208 503.3 213.3 507 203C510.7 192.7 509.7 196.7 511 185C512.3 173.3 512 181.3 511 168C510 154.7 511.7 161 508 145C504.3 129 506 136 500 120C494 104 497.3 111.7 490 97C482.7 82.3 486.3 89.3 478 76C469.7 62.7 475 69.7 465 57C455 44.3 459.7 49.7 448 38C436.3 26.3 442 31.7 430 22C418 12.3 423.7 18.3 412 9C400.3 -0.3 400.7 -1 395 -6" fill="none" stroke="#a6754c" stroke-width="2.4" stroke-linejoin="round"/>
<path d="M859.6 324.5L861.6 326.4L863.2 327.8L864.7 329.2L866.4 330.8L869 333.3L872.7 337L876.3 340.5L878.5 342.6L879.6 343.7L880.5 344.6L882.1 346.6L885.3 350.4L888.6 354.3L890.3 356.4L891 357.3L891.7 358.3L893.2 360.8L896 365.3L898.9 369.8L900.6 372.4L901.4 373.6L902 374.8L903.2 377.5L905.4 382.2L907.6 386.9L908.8 389.4L909.2 390.5L909.6 391.8L910.4 394.6L912 399.6L913.6 404.5L914.6 407.3L915.1 408.5L915.3 409.4L915.8 411.9L916.7 416.8L917.5 421.7L918 424.3L918.1 425.5L918.1 427.1L918.2 430.2L918.5 435.6L918.9 440.9L919.1 443.8L919.2 445.4L919.2 446.7L919.1 449.6L919 454.8L918.9 459.9L918.9 462.6L918.9 463.8L918.8 465.2L918.5 468.3L917.8 473.9L917.2 479.6L916.9 483L916.8 484.8L916.5 486.5L915.8 489.8L914.5 495.9L913.1 502.1L912.4 505.5L912 507.3L911.4 509.1L910.1 512.5L907.8 518.7L905.6 524.7L904.5 527.9L903.9 529.3L903 530.8L901.2 534.1L897.8 540.4L894.5 546.8L892.5 550.4L891.3 552.3L889.8 554.4L887.1 558.1L882.5 564.8L877.5 571.8L873.6 576.4L870.5 579.5L867.8 582.1L864.9 584.9L861.8 588.6L887.2 606.4L889.4 602.4L891.1 599.1L892.9 595.5L895.1 591L898.2 585.1L902.5 577.2L906.4 570.1L908.7 565.8L910.2 562.8L911.5 559.9L913.2 556L916.2 549.6L919.2 543.3L920.9 539.8L922 537.2L922.9 534.7L924.1 531.3L926.2 525.3L928.4 519.2L929.7 515.5L930.6 512.7L931.4 509.9L932.2 506.2L933.5 500.1L934.9 493.9L935.7 490L936.1 487.2L936.3 484.7L936.6 481.5L937.2 476.1L937.9 470.7L938.3 467.6L938.6 465.4L938.8 463.2L938.9 460.3L939 455.2L939.1 450.1L939.2 447L939.2 444.6L939.1 442.4L938.8 439.5L938.5 434.4L938.2 429.3L938.1 426.4L938 424.1L937.8 421.6L937.3 418.3L936.3 413.2L935.4 408.2L934.8 405.1L934.2 402.7L933.5 400.6L932.6 398L931 393.4L929.5 388.7L928.7 386L928.1 383.9L927.1 381.5L925.8 378.5L923.6 373.8L921.4 369L920 366L918.8 363.7L917.4 361.6L915.7 359L913 354.7L910.2 350.3L908.7 347.7L907.4 345.7L905.9 343.8L903.9 341.4L900.7 337.6L897.3 333.6L895.1 331.2L893.4 329.4L891.8 328.1L889.8 326.3L886.3 323L882.4 319.3L879.6 316.7L877.5 314.8L875.8 313.4L874.3 312.2L872.4 310.5Z" fill="url(#gNerveR)" stroke="#b58a5b" stroke-width="1.8" stroke-linejoin="round"/>
<clipPath id="cMus"><path d="M897.8 540.4C896.4 543.2 895.6 544.8 893.4 548.8C891.2 552.8 892.9 549.9 891.3 552.3C889.7 554.7 891.6 551.9 888.6 556C885.7 560.1 887 558.6 882.6 564.7C878.1 570.9 879.4 569.4 875.4 574.4C871.4 579.3 873.5 576.5 870.5 579.6C867.5 582.6 869.2 580.5 866.3 583.5C863.4 586.5 865.6 584.9 861.8 588.6C858.1 592.2 859.6 590.4 855 594.5C850.4 598.6 854.3 596.2 848 601C841.7 605.8 846.4 602.5 836 609C825.6 615.5 829.6 613 816.7 620.4C803.8 627.8 810.2 624.4 797.2 631.3C784.3 638.2 790.8 635 777.7 641.1C764.7 647.1 771.2 644.1 758.1 649.4C745.1 654.7 751.6 651.7 738.5 657.1C725.5 662.4 732.1 659.2 718.9 665.4C705.8 671.7 712.5 668.1 699.1 675.9C685.7 683.6 692.2 679.9 678.8 688.7C665.5 697.5 671.4 693.7 659.1 702.3C646.8 710.9 652.1 707 642 714.4C631.9 721.8 636.7 717.9 628.8 724.5C620.8 731.2 624.9 727.4 618.1 734.4C611.3 741.4 614.8 737.8 608.3 745.5C601.9 753.2 605.1 749.3 598.8 757.5C592.4 765.8 595.7 761.1 589.1 770.3C582.5 779.5 585.9 774.2 579 785.1C572.1 796 575.4 790.3 568.4 803.1C561.4 815.9 564.7 809.5 558.1 823.4C551.4 837.4 555 830.3 548.3 844.8C541.7 859.4 545.5 852.3 538.2 867C530.9 881.7 534.9 874.9 526.5 888.9C518.1 902.9 522.6 896.2 512.8 909C503.1 921.8 508.1 915.4 497.3 927.4C486.5 939.4 491.9 934.5 480.5 945C469.1 955.5 474 951.8 463 959C452 966.2 456 961.3 447.5 966.5C439 971.7 442 968.7 437.5 974.5C433 980.3 434 976.8 434 984C434 991.2 433 988.8 437.5 996C442 1003.2 440.3 1000.3 447.5 1005.5C454.7 1010.7 452.5 1009.8 459 1011.5C465.5 1013.2 462.3 1013.2 467 1010.5C471.7 1007.8 467 1010.3 473 1003.5C479 996.7 475.9 999 485 990C494.1 981 488.8 985.2 500.2 976.5C511.7 967.7 505.7 971.6 519.4 963.6C533.2 955.7 526.2 959.2 541.5 952.6C556.8 945.9 549.1 949.1 565.3 943.8C581.5 938.4 573.5 941.3 590.2 936.5C606.9 931.7 598.6 934.4 615.3 929.4C632.1 924.5 623.5 927.3 640.5 921.7C657.5 916.1 648.8 919.3 666.5 912.6C684.2 905.8 675.6 909.7 693.6 901.4C711.5 893.1 703.2 897.7 720.4 887.7C737.6 877.8 729.8 883 745.1 871.5C760.5 860.1 753.5 865.9 766.5 853.3C779.6 840.7 773.6 847.1 784.3 833.8C795 820.4 790.1 827 798.7 813.3C807.3 799.6 803.3 806 810.1 792.6C816.9 779.3 813.7 785.8 819 773.2C824.3 760.6 821.7 767.2 826 754.9C830.4 742.6 828.2 748.9 832 736.3C835.8 723.7 833.8 729.9 837.4 717C841 704.1 838.9 710.5 842.8 697.5C846.6 684.5 844.2 691 849.1 678C854 665 851.3 671.4 857.5 658.5C863.7 645.6 860.9 651.8 867.8 639.2C874.6 626.8 871.5 631.9 878 621C884.5 610.1 883.1 613.2 887.2 606.4C891.3 599.7 888.4 604.4 890.3 600.7C892.2 597 890.8 599.6 892.9 595.4C895 591.2 893.3 594.2 896.5 588.2C899.7 582.1 898.7 584.1 902.4 577.3C906.2 570.4 905.1 572.5 907.7 567.7C910.3 562.9 908.7 566 910.2 562.8C911.7 559.6 910.2 562.6 912.2 558.2C914.2 553.8 914.8 552.4 916.2 549.6Z"/></clipPath>
<path d="M897.8 540.4C896.4 543.2 895.6 544.8 893.4 548.8C891.2 552.8 892.9 549.9 891.3 552.3C889.7 554.7 891.6 551.9 888.6 556C885.7 560.1 887 558.6 882.6 564.7C878.1 570.9 879.4 569.4 875.4 574.4C871.4 579.3 873.5 576.5 870.5 579.6C867.5 582.6 869.2 580.5 866.3 583.5C863.4 586.5 865.6 584.9 861.8 588.6C858.1 592.2 859.6 590.4 855 594.5C850.4 598.6 854.3 596.2 848 601C841.7 605.8 846.4 602.5 836 609C825.6 615.5 829.6 613 816.7 620.4C803.8 627.8 810.2 624.4 797.2 631.3C784.3 638.2 790.8 635 777.7 641.1C764.7 647.1 771.2 644.1 758.1 649.4C745.1 654.7 751.6 651.7 738.5 657.1C725.5 662.4 732.1 659.2 718.9 665.4C705.8 671.7 712.5 668.1 699.1 675.9C685.7 683.6 692.2 679.9 678.8 688.7C665.5 697.5 671.4 693.7 659.1 702.3C646.8 710.9 652.1 707 642 714.4C631.9 721.8 636.7 717.9 628.8 724.5C620.8 731.2 624.9 727.4 618.1 734.4C611.3 741.4 614.8 737.8 608.3 745.5C601.9 753.2 605.1 749.3 598.8 757.5C592.4 765.8 595.7 761.1 589.1 770.3C582.5 779.5 585.9 774.2 579 785.1C572.1 796 575.4 790.3 568.4 803.1C561.4 815.9 564.7 809.5 558.1 823.4C551.4 837.4 555 830.3 548.3 844.8C541.7 859.4 545.5 852.3 538.2 867C530.9 881.7 534.9 874.9 526.5 888.9C518.1 902.9 522.6 896.2 512.8 909C503.1 921.8 508.1 915.4 497.3 927.4C486.5 939.4 491.9 934.5 480.5 945C469.1 955.5 474 951.8 463 959C452 966.2 456 961.3 447.5 966.5C439 971.7 442 968.7 437.5 974.5C433 980.3 434 976.8 434 984C434 991.2 433 988.8 437.5 996C442 1003.2 440.3 1000.3 447.5 1005.5C454.7 1010.7 452.5 1009.8 459 1011.5C465.5 1013.2 462.3 1013.2 467 1010.5C471.7 1007.8 467 1010.3 473 1003.5C479 996.7 475.9 999 485 990C494.1 981 488.8 985.2 500.2 976.5C511.7 967.7 505.7 971.6 519.4 963.6C533.2 955.7 526.2 959.2 541.5 952.6C556.8 945.9 549.1 949.1 565.3 943.8C581.5 938.4 573.5 941.3 590.2 936.5C606.9 931.7 598.6 934.4 615.3 929.4C632.1 924.5 623.5 927.3 640.5 921.7C657.5 916.1 648.8 919.3 666.5 912.6C684.2 905.8 675.6 909.7 693.6 901.4C711.5 893.1 703.2 897.7 720.4 887.7C737.6 877.8 729.8 883 745.1 871.5C760.5 860.1 753.5 865.9 766.5 853.3C779.6 840.7 773.6 847.1 784.3 833.8C795 820.4 790.1 827 798.7 813.3C807.3 799.6 803.3 806 810.1 792.6C816.9 779.3 813.7 785.8 819 773.2C824.3 760.6 821.7 767.2 826 754.9C830.4 742.6 828.2 748.9 832 736.3C835.8 723.7 833.8 729.9 837.4 717C841 704.1 838.9 710.5 842.8 697.5C846.6 684.5 844.2 691 849.1 678C854 665 851.3 671.4 857.5 658.5C863.7 645.6 860.9 651.8 867.8 639.2C874.6 626.8 871.5 631.9 878 621C884.5 610.1 883.1 613.2 887.2 606.4C891.3 599.7 888.4 604.4 890.3 600.7C892.2 597 890.8 599.6 892.9 595.4C895 591.2 893.3 594.2 896.5 588.2C899.7 582.1 898.7 584.1 902.4 577.3C906.2 570.4 905.1 572.5 907.7 567.7C910.3 562.9 908.7 566 910.2 562.8C911.7 559.6 910.2 562.6 912.2 558.2C914.2 553.8 914.8 552.4 916.2 549.6Z" fill="url(#gMusX)"/>
<g clip-path="url(#cMus)">
<path d="M810.2 652.6L800 661.8L789.9 670.7L779.8 679.4L769.5 688.1L759.1 696.9L748.7 706L738.5 715.8L728.1 725.7L717.7 735.6L707.1 745.7L696.1 755.4L685 765.1L673.8 774.8L663.2 785.2L652.9 795.7L642.6 806.1L632.4 816.5L622.4 826.8L612.6 837.1L603.1 847.5L594 857.9L585 868.2L576 878.5L566.8 888.6L557.5 898.6" fill="none" stroke="#df8d76" stroke-width="36" opacity=".6" filter="url(#b12)"/>
<path d="M863.5 640.1L856 652.9L849 666L843.2 679.6L838.1 693.4L833.5 707.3L828.9 721.1L824 734.9L818.7 748.6L812.9 762.2L806.6 775.6L799.5 788.6L791.9 801.5L783.7 814L774.3 825.6L764.6 837L753.7 847.3L742.6 857.3L730.7 866.5L718.4 875.1L705.7 882.9L692.7 890.1L679.5 896.8L666 903L652.5 908.9L638.9 914.4L625.2 919.7L611.4 924.6L597.5 929.3L583.5 934L569.4 938.6L555.5 943.7L541.7 949.3" fill="none" stroke="#9a2c22" stroke-width="30" opacity=".45" filter="url(#b12)"/>
<path d="M828.6 614.6L816 622L803.3 629.4L790.4 636.5L777.3 643L764 648.9L750.5 654.5L736.9 660.1L723.6 666L710.4 672.6L697.8 680.1L685.5 688.1L673.4 696.4L661.4 705L649.4 713.5L637.5 722.2L626.2 731.6L615.9 742.1L606.5 753.5L597.4 765L588.6 776.9L580.4 789L572.7 801.5L565.5 814.3L559 827.5L552.8 840.7L546.6 854L540.3 867.2L533.7 880.2L526 892.7L517.7 904.8L508.7 916.4L498.8 927.2" fill="none" stroke="#a8362a" stroke-width="10" opacity=".45" filter="url(#b8)"/>
<g fill="none" filter="url(#b1)">
<path d="M891.9 553.9L883.5 566L874.7 577.8L864.7 588.5L854.1 598.7L842.6 607.8L830.4 615.8L818 623.6L805.6 631.3L793.1 638.7L780.4 645.5L767.5 651.9L754.4 657.9L741.3 663.9L728.4 670.2L715.6 677.1L703.3 684.9L691.3 693.2L679.3 701.7L667.6 710.4L655.7 719.1L643.9 727.9L632.6 737.4L622.3 747.9L612.7 759.1L603.5 770.6L594.5 782.2L586 794.1L578.1 806.3L570.6 818.8L563.7 831.6L557.2 844.4L550.6 857.3L543.9 870.1L536.9 882.7L528.9 894.8L520.3 906.5L511.1 917.8L500.9 928.3L491 939.1L480.1 949L468.5 958.1L455.6 965L443 972.4" stroke="#97281f" stroke-width="1.8" opacity="0.54"/>
<path d="M893.1 554.5L884.7 566.7L876 578.6L866.2 589.4L855.8 599.8L844.5 609.1L832.6 617.5L820.6 625.6L808.6 633.7L796.5 641.5L784.3 648.8L772 655.7L759.5 662.2L747 668.7L734.5 675.5L722.2 682.9L710.4 691.1L698.6 699.7L687 708.5L675.5 717.5L663.8 726.4L652.1 735.4L640.9 744.9L630.5 755.4L620.8 766.5L611.3 777.7L602.1 789.1L593.3 800.6L585 812.5L577.1 824.5L569.8 836.8L562.7 849.2L555.7 861.6L548.5 873.8L541 885.9L532.6 897.5L523.7 908.7L514.1 919.5L503.7 929.8L493.5 940.2L482.5 950L470.9 959L458 966.1L445.5 973.7" stroke="#97281f" stroke-width="2.2" opacity="0.48"/>
<path d="M894.2 555.1L886 567.4L877.4 579.3L867.8 590.4L857.5 600.9L846.5 610.5L834.9 619.2L823.2 627.6L811.6 636.1L800 644.3L788.3 652.1L776.5 659.5L764.6 666.6L752.7 673.6L740.7 681L728.9 688.7L717.5 697.3L706.1 706.3L694.8 715.4L683.5 724.6L672 733.7L660.5 742.9L649.2 752.5L638.8 763L628.9 773.9L619.3 784.9L609.8 796L600.7 807.3L592 818.7L583.7 830.3L575.9 842.2L568.4 854L560.8 865.9L553.1 877.5L545.2 889.1L536.4 900.2L527.1 910.9L517.2 921.3L506.5 931.2L496.1 941.3L484.9 950.9L473.2 959.9L460.4 967.1L448 974.9" stroke="#97281f" stroke-width="2.2" opacity="0.41"/>
<path d="M895.5 555.8L887.3 568.1L878.8 580.2L869.4 591.4L859.3 602.1L848.6 611.9L837.4 621L826 629.8L814.8 638.6L803.7 647.3L792.6 655.6L781.4 663.6L770.1 671.3L758.8 678.9L747.4 686.8L736.2 695.1L725.1 704.1L714.1 713.3L703.1 722.8L692.1 732.3L680.8 741.6L669.4 751L658.2 760.6L647.7 771.1L637.7 781.8L627.8 792.7L618 803.5L608.6 814.4L599.5 825.4L590.8 836.6L582.5 847.9L574.4 859.2L566.4 870.5L558.1 881.6L549.7 892.6L540.4 903.1L530.7 913.3L520.4 923.2L509.6 932.8L498.8 942.6L487.5 952L475.8 960.9L463 968.3L450.8 976.3" stroke="#97281f" stroke-width="1.7" opacity="0.42"/>
<path d="M896.4 556.3L888.3 568.6L879.9 580.8L870.7 592.2L860.8 603L850.2 613L839.3 622.4L828.2 631.5L817.3 640.6L806.6 649.7L795.9 658.4L785.2 666.8L774.4 674.9L763.6 683L752.6 691.3L741.8 700L731.1 709.3L720.4 718.8L709.6 728.5L698.8 738.3L687.6 747.7L676.4 757.3L665.2 767L654.6 777.4L644.5 788L634.4 798.7L624.4 809.3L614.7 819.9L605.3 830.6L596.3 841.4L587.6 852.4L579.1 863.2L570.7 874.1L562 884.7L553.2 895.2L543.6 905.3L533.5 915.1L523 924.7L511.9 934L501 943.5L489.5 952.8L477.7 961.7L465.1 969.1L452.9 977.3" stroke="#97281f" stroke-width="2.6" opacity="0.43"/>
<path d="M897.4 556.8L889.4 569.2L881.1 581.4L872.1 593L862.2 603.9L851.9 614.2L841.2 623.8L830.4 633.2L819.8 642.6L809.5 652.1L799.3 661.2L789 670L778.8 678.6L768.4 687.1L757.9 695.8L747.4 704.9L737.1 714.5L726.6 724.4L716.1 734.3L705.5 744.3L694.5 753.9L683.4 763.6L672.2 773.3L661.6 783.7L651.3 794.3L641.1 804.7L630.9 815.1L620.9 825.5L611.2 835.9L601.8 846.3L592.8 856.8L583.9 867.3L575 877.7L565.9 887.9L556.7 898L546.7 907.6L536.4 917L525.6 926.2L514.3 935.2L503.1 944.5L491.6 953.6L479.7 962.4L467.1 970L455 978.4" stroke="#97281f" stroke-width="2.4" opacity="0.61"/>
<path d="M898.6 557.4L890.7 569.9L882.5 582.2L873.7 594L864.1 605.1L854 615.6L843.6 625.6L833.2 635.3L823 645.2L813.2 655.1L803.5 664.7L793.9 674.1L784.2 683.2L774.4 692.3L764.5 701.6L754.5 711.1L744.7 721.2L734.6 731.4L724.4 741.6L714.1 751.9L703.2 761.7L692.2 771.6L681.1 781.4L670.5 791.8L660 802.1L649.5 812.4L639.1 822.5L628.8 832.5L618.7 842.5L608.8 852.5L599.3 862.5L589.9 872.4L580.5 882.3L570.9 891.9L561.1 901.4L550.7 910.5L540 919.3L528.8 928.1L517.3 936.8L505.9 945.7L494.2 954.7L482.2 963.4L469.7 971.2L457.7 979.7" stroke="#97281f" stroke-width="2.1" opacity="0.61"/>
<path d="M899.4 557.8L891.6 570.4L883.4 582.8L874.8 594.6L865.3 605.9L855.4 616.5L845.3 626.7L835 636.8L825.1 646.9L815.6 657.1L806.3 667L797.1 676.8L787.9 686.3L778.5 695.8L768.9 705.4L759.3 715.3L749.7 725.6L739.9 736.1L729.9 746.5L719.8 757L709 767L698.1 776.9L687 786.8L676.3 797.1L665.7 807.4L655.2 817.5L644.5 827.4L634 837.2L623.6 847L613.5 856.6L603.6 866.3L593.9 875.9L584.1 885.3L574.2 894.6L564.1 903.7L553.4 912.4L542.4 920.9L531 929.4L519.3 937.8L507.7 946.5L495.9 955.4L483.9 964.1L471.4 971.9L459.6 980.6" stroke="#97281f" stroke-width="2.6" opacity="0.46"/>
<path d="M900.5 558.4L892.7 571L884.7 583.5L876.3 595.5L866.9 606.9L857.3 617.8L847.5 628.4L837.6 638.7L828 649.2L818.9 659.8L810.2 670.2L801.5 680.4L792.8 690.5L784 700.5L774.9 710.6L765.8 721L756.6 731.7L747.1 742.4L737.4 753.1L727.5 763.8L716.9 774L706.1 784.2L695 794.1L684.3 804.4L673.6 814.5L662.8 824.5L651.9 834.1L641 843.6L630.4 853L619.8 862.2L609.5 871.4L599.3 880.5L589.1 889.5L578.7 898.2L568.1 906.8L557 915L545.7 923L534 931.1L522 939.2L510.2 947.6L498.2 956.3L486.1 964.9L473.7 972.9L462 981.8" stroke="#97281f" stroke-width="1.7" opacity="0.47"/>
<path d="M901.9 559.1L894.2 571.8L886.3 584.4L878.2 596.7L869 608.2L859.6 619.4L850.2 630.3L840.7 641.1L831.6 652.1L823.1 663.1L814.9 674.1L806.9 685L798.9 695.7L790.8 706.4L782.4 717.1L773.8 728L765.1 739.1L756 750.3L746.6 761.3L737 772.3L726.6 782.8L716.1 793.1L705 803.1L694.2 813.4L683.3 823.3L672.2 833.1L661 842.4L649.8 851.5L638.7 860.4L627.7 869.1L616.8 877.8L606 886.3L595.2 894.6L584.2 902.7L573.1 910.6L561.5 918.2L549.7 925.7L537.6 933.3L525.3 940.9L513.2 949L501.1 957.5L489 966L476.6 974.2L465 983.3" stroke="#97281f" stroke-width="1.8" opacity="0.53"/>
<path d="M902.9 559.6L895.3 572.4L887.5 585.1L879.5 597.5L870.5 609.2L861.3 620.6L852.1 631.8L842.9 642.8L834.1 654.1L826 665.5L818.3 677L810.8 688.3L803.3 699.4L795.6 710.6L787.7 721.7L779.5 733L771.1 744.5L762.3 755.9L753.3 767.2L743.8 778.4L733.6 789L723.1 799.5L712.1 809.6L701.3 819.8L690.2 829.6L679 839.2L667.5 848.3L656.1 857.1L644.7 865.7L633.3 874.1L622.1 882.3L610.8 890.4L599.6 898.3L588.2 905.9L576.7 913.3L564.7 920.5L552.6 927.6L540.2 934.8L527.7 942.1L515.4 949.9L503.2 958.3L491 966.8L478.7 975.1L467.2 984.4" stroke="#97281f" stroke-width="2.0" opacity="0.52"/>
<path d="M903.8 560.1L896.2 572.9L888.5 585.7L880.7 598.2L871.8 610L862.8 621.6L853.9 633.1L845 644.4L836.4 656L828.7 667.7L821.4 679.5L814.3 691.2L807.3 702.8L800 714.3L792.5 725.9L784.7 737.5L776.7 749.3L768.1 761L759.3 772.5L750 783.9L739.9 794.7L729.6 805.4L718.6 815.5L707.7 825.6L696.5 835.4L685.1 844.8L673.5 853.7L661.8 862.3L650.1 870.5L638.4 878.6L626.8 886.5L615.2 894.1L603.6 901.6L591.8 908.8L579.9 915.8L567.6 922.6L555.2 929.3L542.6 936.2L529.9 943.3L517.4 950.8L505.1 959.1L492.8 967.5L480.5 975.9L469.2 985.4" stroke="#97281f" stroke-width="1.7" opacity="0.45"/>
<path d="M905.2 560.8L897.8 573.8L890.2 586.6L882.7 599.4L874 611.4L865.3 623.3L856.8 635.2L848.2 646.9L840.2 659L833 671.3L826.4 683.7L820.1 696L813.7 708.3L807.2 720.5L800.3 732.7L793.1 744.9L785.6 757.2L777.5 769.2L769 781.2L760.1 792.9L750.2 803.9L740 814.8L729.1 825L718.1 835.1L706.7 844.7L695.1 853.8L683.1 862.4L671 870.6L658.9 878.4L646.6 885.9L634.5 893.2L622.3 900.2L610 907L597.6 913.5L585.1 919.9L572.4 926L559.4 932L546.5 938.4L533.4 945.1L520.6 952.3L508.1 960.3L495.7 968.7L483.6 977.2L472.4 987" stroke="#97281f" stroke-width="2.1" opacity="0.47"/>
<path d="M906.3 561.4L899 574.4L891.5 587.3L884.2 600.3L875.6 612.5L867.2 624.6L859 636.8L850.8 648.9L843.1 661.3L836.4 674L830.3 686.9L824.5 699.7L818.7 712.5L812.7 725.2L806.4 737.9L799.6 750.6L792.5 763.2L784.7 775.6L776.5 787.8L767.9 799.8L758.1 811.1L748.1 822.1L737.2 832.3L726.1 842.4L714.6 851.8L702.8 860.8L690.5 869.1L678.2 877L665.6 884.4L653 891.5L640.4 898.3L627.7 904.8L615 911.2L602.1 917.1L589.2 923L576 928.6L562.7 934.2L549.4 940.2L536.1 946.5L523.1 953.4L510.5 961.3L498 969.5L485.9 978.3L474.8 988.2" stroke="#97281f" stroke-width="2.1" opacity="0.47"/>
<path d="M907.6 562.1L900.3 575.1L892.9 588.2L885.9 601.3L877.5 613.7L869.3 626.1L861.5 638.6L853.6 651.1L846.4 663.9L840.1 677.1L834.6 690.5L829.4 703.9L824.3 717.3L818.9 730.6L813.1 743.8L806.9 757L800.3 770L792.8 782.8L785 795.3L776.6 807.6L767 819.1L757.2 830.3L746.3 840.6L735.2 850.6L723.5 859.9L711.4 868.7L698.9 876.7L686.2 884.2L673.3 891.2L660.2 897.8L647.1 904.1L633.9 910.1L620.6 915.9L607.2 921.2L593.7 926.5L580.1 931.6L566.4 936.6L552.8 942.1L539.2 948.1L525.9 954.6L513.1 962.4L500.6 970.5L488.6 979.4L477.6 989.6" stroke="#97281f" stroke-width="2.4" opacity="0.45"/>
<path d="M908.7 562.6L901.4 575.8L894.2 588.9L887.3 602.2L879.1 614.7L871.1 627.3L863.6 640.2L856.1 653L849.1 666.1L843.3 679.7L838.3 693.5L833.6 707.4L829 721.3L824.2 735.1L818.9 748.8L813.1 762.3L806.8 775.8L799.7 788.8L792.1 801.7L783.9 814.2L774.5 825.8L764.8 837.2L753.9 847.5L742.8 857.6L730.9 866.7L718.7 875.3L705.9 883.1L692.9 890.3L679.7 896.9L666.2 903.2L652.7 909L639.1 914.5L625.3 919.8L611.5 924.7L597.6 929.4L583.6 934.1L569.5 938.6L555.6 943.7L541.8 949.4L528.3 955.7L515.3 963.3L502.8 971.4L490.8 980.4L479.9 990.7" stroke="#97281f" stroke-width="2.2" opacity="0.59"/>
<path d="M892.6 554.3L884.2 566.4L875.5 578.3L865.6 589L855 599.3L843.7 608.5L831.7 616.8L819.5 624.7L807.3 632.7L795.1 640.3L782.7 647.4L770.1 654.1L757.4 660.4L744.6 666.7L731.9 673.3L719.4 680.4L707.4 688.5L695.5 696.9L683.8 705.6L672.2 714.5L660.4 723.3L648.7 732.2L637.4 741.7L627.1 752.3L617.4 763.4L608.1 774.7L598.9 786.2L590.3 797.9L582.1 809.9L574.4 822.1L567.3 834.6L560.4 847.2L553.5 859.8L546.5 872.2L539.3 884.5L531.1 896.3L522.3 907.8L512.8 918.8L502.6 929.2L492.4 939.7L481.5 949.5L469.9 958.6L457 965.6L444.4 973.1" stroke="#9e3025" stroke-width="1" opacity=".3"/>
<path d="M893.9 554.9L885.6 567.1L876.9 579.1L867.3 590.1L856.9 600.5L845.9 610L834.2 618.6L822.3 626.9L810.6 635.3L798.9 643.4L787 651L775 658.2L763 665.2L750.8 672L738.7 679.2L726.8 686.8L715.2 695.3L703.7 704.1L692.3 713.1L680.9 722.3L669.3 731.3L657.8 740.4L646.5 750L636.1 760.5L626.3 771.5L616.7 782.6L607.3 793.7L598.3 805.1L589.7 816.7L581.6 828.5L573.9 840.4L566.5 852.5L559.2 864.5L551.6 876.3L543.8 888.1L535.2 899.3L526 910.2L516.2 920.7L505.6 930.8L495.2 941L484.1 950.6L472.5 959.6L459.6 966.8L447.2 974.5" stroke="#9e3025" stroke-width="1" opacity=".3"/>
<path d="M895 555.5L886.8 567.8L878.3 579.9L868.8 591L858.7 601.6L847.8 611.4L836.5 620.3L825 629L813.6 637.7L802.3 646.2L791 654.3L779.6 662.1L768.1 669.6L756.6 677L745 684.6L733.5 692.7L722.3 701.6L711.2 710.8L700.1 720L689 729.5L677.5 738.7L666.1 748L654.9 757.6L644.5 768.1L634.5 778.9L624.7 789.8L615 800.7L605.7 811.8L596.8 823L588.2 834.3L580.1 845.8L572.2 857.3L564.3 868.8L556.3 880.1L548 891.3L538.9 902L529.4 912.4L519.2 922.5L508.5 932.2L497.8 942.1L486.5 951.6L474.8 960.5L462.1 967.8L449.8 975.8" stroke="#9e3025" stroke-width="1" opacity=".3"/>
<path d="M896 556L887.9 568.4L879.4 580.5L870.1 591.8L860.1 602.5L849.5 612.5L838.4 621.7L827.2 630.7L816.1 639.7L805.2 648.6L794.4 657.1L783.4 665.3L772.4 673.2L761.3 681.1L750.2 689.2L739.1 697.7L728.3 706.8L717.5 716.3L706.6 725.8L695.7 735.5L684.4 744.9L673.1 754.3L661.9 764L651.4 774.4L641.3 785.1L631.3 795.9L621.4 806.6L611.9 817.3L602.6 828.2L593.7 839.2L585.2 850.3L576.9 861.4L568.7 872.4L560.2 883.3L551.5 894L542.1 904.3L532.2 914.3L521.8 924L510.8 933.4L500 943.1L488.6 952.4L476.8 961.3L464.1 968.7L451.9 976.8" stroke="#9e3025" stroke-width="1" opacity=".3"/>
<path d="M897 556.6L889 569L880.6 581.2L871.6 592.7L861.7 603.6L851.3 613.7L840.5 623.3L829.6 632.5L818.9 641.9L808.4 651.2L798 660.1L787.6 668.8L777.2 677.2L766.6 685.6L756 694.2L745.3 703.1L734.9 712.6L724.3 722.4L713.7 732.2L703.1 742.1L692 751.7L680.8 761.3L669.6 771L659.1 781.4L648.8 792L638.6 802.5L628.5 813L618.7 823.4L609.1 834L599.8 844.5L590.9 855.2L582.1 865.8L573.4 876.4L564.5 886.7L555.4 897L545.6 906.8L535.3 916.3L524.6 925.7L513.4 934.8L502.3 944.1L490.8 953.3L479 962.2L466.3 969.7L454.3 978" stroke="#9e3025" stroke-width="1" opacity=".3"/>
<path d="M898.1 557.1L890.1 569.6L881.9 581.9L873 593.5L863.3 604.6L853.1 615L842.6 624.8L832 634.4L821.6 644.1L811.6 653.8L801.7 663.2L791.8 672.3L781.9 681.3L771.9 690.1L761.7 699.2L751.5 708.5L741.5 718.4L731.2 728.4L720.9 738.5L710.5 748.7L699.5 758.4L688.5 768.2L677.3 778L666.7 788.4L656.3 798.8L646 809.2L635.6 819.4L625.4 829.5L615.5 839.7L605.9 849.9L596.5 860.1L587.3 870.3L578.1 880.3L568.8 890.2L559.3 899.9L549 909.3L538.5 918.4L527.5 927.3L516 936.1L504.7 945.2L493.1 954.2L481.2 963L468.6 970.7L456.6 979.2" stroke="#9e3025" stroke-width="1" opacity=".3"/>
<path d="M899.2 557.7L891.3 570.2L883.1 582.6L874.4 594.4L864.9 605.6L854.9 616.2L844.7 626.3L834.4 636.3L824.4 646.3L814.8 656.4L805.4 666.2L796 675.9L786.7 685.3L777.1 694.7L767.5 704.2L757.7 713.9L748 724.2L738.1 734.5L728.1 744.9L717.9 755.3L707 765.2L696.2 775.1L685 785L674.4 795.3L663.8 805.6L653.3 815.8L642.7 825.8L632.2 835.7L622 845.5L611.9 855.2L602.2 865L592.6 874.7L582.9 884.3L573.1 893.7L563.1 902.9L552.5 911.8L541.6 920.4L530.3 929L518.6 937.4L507.1 946.2L495.3 955.2L483.3 963.8L470.8 971.7L458.9 980.3" stroke="#9e3025" stroke-width="1" opacity=".3"/>
<path d="M900.1 558.2L892.3 570.8L884.2 583.2L875.8 595.2L866.3 606.5L856.6 617.4L846.6 627.8L836.6 638L826.9 648.3L817.7 658.8L808.7 669L799.9 679.1L791 688.9L781.9 698.8L772.7 708.7L763.3 718.8L754 729.4L744.4 740L734.6 750.7L724.6 761.3L713.9 771.4L703.1 781.5L692 791.3L681.3 801.6L670.6 811.8L659.9 821.9L649.1 831.6L638.4 841.2L627.8 850.7L617.5 860.1L607.3 869.5L597.3 878.8L587.2 887.9L577 896.8L566.6 905.6L555.7 914L544.4 922.2L532.9 930.5L521 938.7L509.2 947.2L497.3 956L485.3 964.6L472.8 972.5L461.1 981.4" stroke="#9e3025" stroke-width="1" opacity=".3"/>
<path d="M901.3 558.8L893.5 571.5L885.6 584L877.3 596.1L868 607.6L858.5 618.7L848.9 629.4L839.3 640L829.9 650.7L821.2 661.6L812.7 672.3L804.5 682.9L796.1 693.3L787.6 703.7L779 714.1L770.1 724.7L761.2 735.7L751.9 746.7L742.4 757.6L732.6 768.4L722.1 778.8L711.5 789L700.4 799L689.7 809.2L678.8 819.3L667.9 829.1L656.8 838.6L645.8 847.9L634.9 857L624.1 866L613.5 874.9L603 883.6L592.4 892.3L581.7 900.6L570.8 908.8L559.5 916.7L547.8 924.5L535.9 932.3L523.8 940.1L511.8 948.4L499.8 957L487.7 965.5L475.3 973.6L463.6 982.7" stroke="#9e3025" stroke-width="1" opacity=".3"/>
<path d="M902.3 559.3L894.6 572L886.7 584.6L878.6 596.9L869.5 608.5L860.2 619.8L850.9 630.8L841.5 641.7L832.4 652.8L824.1 664L816.1 675.1L808.3 686.1L800.4 697L792.4 707.8L784.2 718.7L775.7 729.7L767.2 741L758.1 752.2L748.9 763.4L739.4 774.4L729 784.9L718.5 795.3L707.5 805.3L696.6 815.6L685.7 825.5L674.6 835.2L663.3 844.4L652 853.4L640.8 862.2L629.6 870.8L618.6 879.4L607.7 887.7L596.7 895.9L585.6 903.8L574.3 911.5L562.6 919L550.7 926.3L538.5 933.8L526.1 941.3L514 949.3L501.8 957.8L489.6 966.3L477.3 974.5L465.8 983.7" stroke="#9e3025" stroke-width="1" opacity=".3"/>
<path d="M903.4 559.9L895.8 572.7L888.1 585.4L880.2 597.9L871.2 609.7L862.2 621.2L853.2 632.5L844.1 643.7L835.5 655.2L827.5 666.8L820.1 678.4L812.9 690L805.6 701.4L798.2 712.7L790.5 724.1L782.5 735.6L774.3 747.3L765.7 758.8L756.7 770.3L747.4 781.6L737.2 792.3L726.9 802.9L715.9 813L705 823.2L693.8 833L682.5 842.4L671 851.4L659.4 860.1L647.8 868.5L636.2 876.7L624.8 884.7L613.4 892.5L601.9 900.2L590.3 907.6L578.5 914.8L566.4 921.7L554.1 928.6L541.6 935.6L529 942.8L516.6 950.5L504.3 958.8L492 967.2L479.7 975.6L468.3 985" stroke="#9e3025" stroke-width="1" opacity=".3"/>
<path d="M904.6 560.5L897.1 573.4L889.4 586.2L881.8 598.8L873 610.8L864.2 622.5L855.5 634.2L846.7 645.8L838.5 657.6L831 669.7L824.1 681.8L817.4 693.8L810.8 705.8L803.9 717.7L796.7 729.6L789.2 741.5L781.5 753.5L773.2 765.4L764.5 777.2L755.5 788.8L745.5 799.7L735.2 810.5L724.3 820.6L713.3 830.8L702 840.4L690.5 849.7L678.7 858.4L666.8 866.8L654.8 874.8L642.9 882.5L631 890.1L619 897.4L607.1 904.5L595 911.3L582.7 918L570.2 924.5L557.5 930.8L544.7 937.4L531.8 944.2L519.1 951.6L506.7 959.8L494.4 968.1L482.2 976.6L470.9 986.2" stroke="#9e3025" stroke-width="1" opacity=".3"/>
<path d="M905.7 561.1L898.3 574L890.8 586.9L883.3 599.8L874.7 611.9L866.1 623.9L857.8 635.9L849.4 647.8L841.5 660L834.5 672.5L828.1 685.1L822 697.7L815.9 710.2L809.6 722.6L803 735L796 747.4L788.7 759.8L780.7 772.1L772.4 784.1L763.5 796L753.7 807.1L743.6 818L732.7 828.2L721.7 838.4L710.2 847.9L698.5 856.9L686.4 865.4L674.2 873.4L661.9 881.1L649.5 888.4L637.1 895.5L624.7 902.2L612.2 908.9L599.6 915.1L586.9 921.3L574 927.2L560.9 933L547.8 939.2L534.6 945.7L521.7 952.8L509.2 960.8L496.8 969.1L484.6 977.7L473.5 987.5" stroke="#9e3025" stroke-width="1" opacity=".3"/>
<path d="M906.9 561.7L899.5 574.7L892.1 587.7L884.9 600.7L876.4 613L868.1 625.3L860.1 637.6L852 649.9L844.5 662.4L838 675.3L832.1 688.4L826.6 701.5L821.1 714.6L815.4 727.5L809.3 740.5L802.7 753.3L795.8 766.1L788.2 778.7L780.2 791.1L771.6 803.2L761.9 814.5L752 825.6L741.1 835.9L730 846L718.4 855.3L706.5 864.2L694.1 872.4L681.6 880.1L668.9 887.3L656.1 894.2L643.3 900.8L630.4 907.1L617.4 913.2L604.3 918.9L591.1 924.5L577.8 929.9L564.3 935.2L550.9 941L537.5 947.2L524.3 953.9L511.6 961.7L499.1 970L487.1 978.8L476 988.8" stroke="#9e3025" stroke-width="1" opacity=".3"/>
<path d="M908 562.3L900.8 575.4L893.5 588.5L886.5 601.7L878.2 614.1L870.1 626.6L862.4 639.3L854.7 651.9L847.5 664.8L841.4 678.2L836.1 691.7L831.2 705.3L826.3 719L821.1 732.5L815.5 745.9L809.5 759.2L803 772.4L795.7 785.3L788 798L779.7 810.4L770.2 821.9L760.4 833.2L749.5 843.5L738.4 853.6L726.6 862.8L714.5 871.4L701.9 879.4L689 886.7L675.9 893.6L662.7 900.1L649.5 906.2L636.1 912L622.6 917.5L609 922.7L595.4 927.7L581.6 932.6L567.7 937.5L553.9 942.8L540.3 948.6L526.9 955.1L514.1 962.7L501.5 970.9L489.5 979.8L478.6 990" stroke="#9e3025" stroke-width="1" opacity=".3"/>
<path d="M847.8 611.4L836.5 620.3L825 629L813.6 637.7L802.3 646.2L791 654.3L779.6 662.1L768.1 669.6L756.6 677L745 684.6L733.5 692.7L722.3 701.6L711.2 710.8L700.1 720L689 729.5L677.5 738.7L666.1 748L654.9 757.6L644.5 768.1L634.5 778.9L624.7 789.8L615 800.7L605.7 811.8L596.8 823L588.2 834.3L580.1 845.8L572.2 857.3L564.3 868.8L556.3 880.1L548 891.3L538.9 902L529.4 912.4L519.2 922.5L508.5 932.2" stroke="url(#gHi)" stroke-width="2.4"/>
<path d="M849.5 612.5L838.4 621.7L827.2 630.7L816.1 639.7L805.2 648.6L794.4 657.1L783.4 665.3L772.4 673.2L761.3 681.1L750.2 689.2L739.1 697.7L728.3 706.8L717.5 716.3L706.6 725.8L695.7 735.5L684.4 744.9L673.1 754.3L661.9 764L651.4 774.4L641.3 785.1L631.3 795.9L621.4 806.6L611.9 817.3L602.6 828.2L593.7 839.2L585.2 850.3L576.9 861.4L568.7 872.4L560.2 883.3L551.5 894L542.1 904.3L532.2 914.3L521.8 924L510.8 933.4" stroke="url(#gHi)" stroke-width="2.4"/>
<path d="M851.3 613.7L840.5 623.3L829.6 632.5L818.9 641.9L808.4 651.2L798 660.1L787.6 668.8L777.2 677.2L766.6 685.6L756 694.2L745.3 703.1L734.9 712.6L724.3 722.4L713.7 732.2L703.1 742.1L692 751.7L680.8 761.3L669.6 771L659.1 781.4L648.8 792L638.6 802.5L628.5 813L618.7 823.4L609.1 834L599.8 844.5L590.9 855.2L582.1 865.8L573.4 876.4L564.5 886.7L555.4 897L545.6 906.8L535.3 916.3L524.6 925.7L513.4 934.8" stroke="url(#gHi)" stroke-width="2.4"/>
<path d="M853.1 615L842.6 624.8L832 634.4L821.6 644.1L811.6 653.8L801.7 663.2L791.8 672.3L781.9 681.3L771.9 690.1L761.7 699.2L751.5 708.5L741.5 718.4L731.2 728.4L720.9 738.5L710.5 748.7L699.5 758.4L688.5 768.2L677.3 778L666.7 788.4L656.3 798.8L646 809.2L635.6 819.4L625.4 829.5L615.5 839.7L605.9 849.9L596.5 860.1L587.3 870.3L578.1 880.3L568.8 890.2L559.3 899.9L549 909.3L538.5 918.4L527.5 927.3L516 936.1" stroke="url(#gHi)" stroke-width="2.4"/>
<path d="M854.9 616.2L844.7 626.3L834.4 636.3L824.4 646.3L814.8 656.4L805.4 666.2L796 675.9L786.7 685.3L777.1 694.7L767.5 704.2L757.7 713.9L748 724.2L738.1 734.5L728.1 744.9L717.9 755.3L707 765.2L696.2 775.1L685 785L674.4 795.3L663.8 805.6L653.3 815.8L642.7 825.8L632.2 835.7L622 845.5L611.9 855.2L602.2 865L592.6 874.7L582.9 884.3L573.1 893.7L563.1 902.9L552.5 911.8L541.6 920.4L530.3 929L518.6 937.4" stroke="url(#gHi)" stroke-width="2.4"/>
<path d="M856.6 617.4L846.6 627.8L836.6 638L826.9 648.3L817.7 658.8L808.7 669L799.9 679.1L791 688.9L781.9 698.8L772.7 708.7L763.3 718.8L754 729.4L744.4 740L734.6 750.7L724.6 761.3L713.9 771.4L703.1 781.5L692 791.3L681.3 801.6L670.6 811.8L659.9 821.9L649.1 831.6L638.4 841.2L627.8 850.7L617.5 860.1L607.3 869.5L597.3 878.8L587.2 887.9L577 896.8L566.6 905.6L555.7 914L544.4 922.2L532.9 930.5L521 938.7" stroke="url(#gHi)" stroke-width="2.4"/>
<path d="M858.4 618.6L848.8 629.3L839 639.8L829.7 650.5L820.9 661.4L812.4 672.1L804.1 682.6L795.7 693L787.2 703.3L778.4 713.7L769.5 724.3L760.6 735.2L751.3 746.1L741.7 757L732 767.8L721.5 778.2L710.8 788.4L699.7 798.3L689 808.6L678.1 818.7L667.2 828.5L656.2 838L645.2 847.3L634.3 856.5L623.5 865.5L613 874.4L602.5 883.2L592 891.9L581.3 900.3L570.5 908.6L559.1 916.5L547.6 924.3L535.7 932.1L523.6 940" stroke="url(#gHi)" stroke-width="2.4"/>
</g>
<rect x="400" y="480" width="560" height="560" fill="url(#gTend)"/>
<path d="M900.6 541.8L893.6 554.8L885.3 567L876.6 578.9L866.9 589.8L856.5 600.2L845.4 609.7L833.6 618.2L821.7 626.4" fill="none" stroke="#c9a978" stroke-width="1" opacity=".55"/>
<path d="M515.4 920.3L504.9 930.4L494.6 940.7L483.5 950.4L471.9 959.4L459 966.5L446.6 974.2L439.8 986.9" fill="none" stroke="#cdb084" stroke-width="1" opacity=".45"/>
<path d="M903.3 543.2L896.5 556.3L888.4 568.7L880 580.8L870.8 592.2L860.8 603L850.3 613.1L839.4 622.4L828.3 631.5" fill="none" stroke="#c9a978" stroke-width="1" opacity=".55"/>
<path d="M523.1 924.8L512 934L501 943.6L489.6 952.8L477.8 961.7L465.1 969.2L453 977.4L445.7 989.8" fill="none" stroke="#cdb084" stroke-width="1" opacity=".45"/>
<path d="M906.1 544.5L899.4 557.8L891.5 570.3L883.3 582.7L874.7 594.6L865.2 605.8L855.3 616.4L845.1 626.6L834.9 636.6" fill="none" stroke="#c9a978" stroke-width="1" opacity=".55"/>
<path d="M530.8 929.3L519.1 937.7L507.5 946.4L495.7 955.3L483.7 964L471.2 971.8L459.4 980.5L451.6 992.8" fill="none" stroke="#cdb084" stroke-width="1" opacity=".45"/>
<path d="M908.8 545.9L902.3 559.3L894.6 572L886.7 584.6L878.6 596.9L869.5 608.5L860.2 619.8L850.9 630.8L841.5 641.7" fill="none" stroke="#c9a978" stroke-width="1" opacity=".55"/>
<path d="M538.5 933.8L526.1 941.3L514 949.3L501.8 957.8L489.6 966.3L477.3 974.5L465.8 983.7L457.4 995.7" fill="none" stroke="#cdb084" stroke-width="1" opacity=".45"/>
<path d="M911.6 547.3L905.1 560.8L897.7 573.7L890.1 586.6L882.6 599.3L873.8 611.3L865.1 623.2L856.6 635L848.1 646.8" fill="none" stroke="#c9a978" stroke-width="1" opacity=".55"/>
<path d="M546.2 938.3L533.2 945L520.4 952.2L507.9 960.3L495.6 968.6L483.4 977.2L472.2 986.9L463.2 998.6" fill="none" stroke="#cdb084" stroke-width="1" opacity=".45"/>
<path d="M914 548.5L907.7 562.1L900.4 575.2L893 588.2L886 601.3L877.6 613.7L869.4 626.2L861.6 638.7L853.8 651.2" fill="none" stroke="#c9a978" stroke-width="1" opacity=".55"/>
<path d="M552.9 942.2L539.4 948.1L526 954.7L513.2 962.4L500.7 970.6L488.7 979.5L477.7 989.6L468.3 1001.2" fill="none" stroke="#cdb084" stroke-width="1" opacity=".45"/>
</g>
<path d="M897.8 540.4C896.4 543.2 895.6 544.8 893.4 548.8C891.2 552.8 892.9 549.9 891.3 552.3C889.7 554.7 891.6 551.9 888.6 556C885.7 560.1 887 558.6 882.6 564.7C878.1 570.9 879.4 569.4 875.4 574.4C871.4 579.3 873.5 576.5 870.5 579.6C867.5 582.6 869.2 580.5 866.3 583.5C863.4 586.5 865.6 584.9 861.8 588.6C858.1 592.2 859.6 590.4 855 594.5C850.4 598.6 854.3 596.2 848 601C841.7 605.8 846.4 602.5 836 609C825.6 615.5 829.6 613 816.7 620.4C803.8 627.8 810.2 624.4 797.2 631.3C784.3 638.2 790.8 635 777.7 641.1C764.7 647.1 771.2 644.1 758.1 649.4C745.1 654.7 751.6 651.7 738.5 657.1C725.5 662.4 732.1 659.2 718.9 665.4C705.8 671.7 712.5 668.1 699.1 675.9C685.7 683.6 692.2 679.9 678.8 688.7C665.5 697.5 671.4 693.7 659.1 702.3C646.8 710.9 652.1 707 642 714.4C631.9 721.8 636.7 717.9 628.8 724.5C620.8 731.2 624.9 727.4 618.1 734.4C611.3 741.4 614.8 737.8 608.3 745.5C601.9 753.2 605.1 749.3 598.8 757.5C592.4 765.8 595.7 761.1 589.1 770.3C582.5 779.5 585.9 774.2 579 785.1C572.1 796 575.4 790.3 568.4 803.1C561.4 815.9 564.7 809.5 558.1 823.4C551.4 837.4 555 830.3 548.3 844.8C541.7 859.4 545.5 852.3 538.2 867C530.9 881.7 534.9 874.9 526.5 888.9C518.1 902.9 522.6 896.2 512.8 909C503.1 921.8 508.1 915.4 497.3 927.4C486.5 939.4 491.9 934.5 480.5 945C469.1 955.5 474 951.8 463 959C452 966.2 456 961.3 447.5 966.5C439 971.7 442 968.7 437.5 974.5C433 980.3 434 976.8 434 984C434 991.2 433 988.8 437.5 996C442 1003.2 440.3 1000.3 447.5 1005.5C454.7 1010.7 452.5 1009.8 459 1011.5C465.5 1013.2 462.3 1013.2 467 1010.5C471.7 1007.8 467 1010.3 473 1003.5C479 996.7 475.9 999 485 990C494.1 981 488.8 985.2 500.2 976.5C511.7 967.7 505.7 971.6 519.4 963.6C533.2 955.7 526.2 959.2 541.5 952.6C556.8 945.9 549.1 949.1 565.3 943.8C581.5 938.4 573.5 941.3 590.2 936.5C606.9 931.7 598.6 934.4 615.3 929.4C632.1 924.5 623.5 927.3 640.5 921.7C657.5 916.1 648.8 919.3 666.5 912.6C684.2 905.8 675.6 909.7 693.6 901.4C711.5 893.1 703.2 897.7 720.4 887.7C737.6 877.8 729.8 883 745.1 871.5C760.5 860.1 753.5 865.9 766.5 853.3C779.6 840.7 773.6 847.1 784.3 833.8C795 820.4 790.1 827 798.7 813.3C807.3 799.6 803.3 806 810.1 792.6C816.9 779.3 813.7 785.8 819 773.2C824.3 760.6 821.7 767.2 826 754.9C830.4 742.6 828.2 748.9 832 736.3C835.8 723.7 833.8 729.9 837.4 717C841 704.1 838.9 710.5 842.8 697.5C846.6 684.5 844.2 691 849.1 678C854 665 851.3 671.4 857.5 658.5C863.7 645.6 860.9 651.8 867.8 639.2C874.6 626.8 871.5 631.9 878 621C884.5 610.1 883.1 613.2 887.2 606.4C891.3 599.7 888.4 604.4 890.3 600.7C892.2 597 890.8 599.6 892.9 595.4C895 591.2 893.3 594.2 896.5 588.2C899.7 582.1 898.7 584.1 902.4 577.3C906.2 570.4 905.1 572.5 907.7 567.7C910.3 562.9 908.7 566 910.2 562.8C911.7 559.6 910.2 562.6 912.2 558.2C914.2 553.8 914.8 552.4 916.2 549.6" fill="none" stroke="url(#gMusS)" stroke-width="2" stroke-linejoin="round"/>
<line x1="899.3" y1="541.1" x2="914.7" y2="548.9" stroke="#dcc095" stroke-width="1.8"/>
<path d="M863.1 320.7L865.1 322.5L866.7 323.9L868.2 325.2L870 326.9L872.7 329.4L876.5 333.2L880 336.6L882.2 338.6L883.4 339.8L884.5 340.9L886.3 343L889.6 346.9L892.8 350.8L894.6 352.9L895.5 354.1L896.4 355.4L897.9 357.9L900.7 362.4L903.6 366.9L905.2 369.4L906.2 370.9L906.9 372.4L908.2 375.1L910.4 379.9L912.6 384.6L913.8 387.2L914.4 388.7L914.9 390.2L915.7 393L917.2 397.9L918.8 402.7L919.8 405.4L920.3 406.9L920.7 408.2L921.2 410.9L922.1 415.8L923 420.8L923.4 423.5L923.6 425.1L923.6 426.9L923.7 430L924 435.3L924.4 440.5L924.6 443.5L924.7 445.2L924.7 446.8L924.6 449.7L924.5 454.9L924.4 460L924.4 462.8L924.3 464.3L924.2 465.9L923.8 468.9L923.1 474.5L922.5 480.2L922.3 483.5L922.1 485.5L921.8 487.5L921.1 490.9L919.7 497.1L918.4 503.2L917.6 506.7L917.1 508.8L916.4 510.8L915.1 514.4L912.9 520.5L910.7 526.5L909.5 529.8L908.9 531.5L907.9 533.2L906.1 536.6L902.9 542.9L899.6 549.4L897.8 553.1L896.6 555.3L895.1 557.6L892.5 561.4L888.1 568.1L883.1 575.3L879.4 580.2L876.5 583.6L874 586.4L871.4 589.4L868.4 593.1L878.6 600.9L881.3 597.1L883.5 594.1L885.8 590.9L888.6 586.9L892.2 581.4L896.9 573.9L901.2 567L903.7 562.8L905.2 559.9L906.4 557.2L908.1 553.4L911.1 547.1L914.2 540.8L916 537.3L917 535L917.9 532.8L919 529.5L921.1 523.5L923.4 517.4L924.7 513.7L925.5 511.2L926.2 508.7L926.9 505.1L928.3 498.9L929.6 492.8L930.4 489.1L930.8 486.5L931 484.2L931.3 481L931.9 475.5L932.5 470L932.9 466.9L933.2 465L933.3 463.1L933.4 460.2L933.5 455.1L933.6 449.9L933.7 446.9L933.7 444.8L933.6 442.8L933.3 439.9L933 434.7L932.7 429.6L932.6 426.6L932.6 424.5L932.3 422.3L931.8 419.2L930.9 414.2L930 409.2L929.5 406.3L928.9 404.3L928.3 402.4L927.4 399.8L925.8 395.1L924.3 390.4L923.5 387.6L922.9 385.7L922.1 383.7L920.8 380.9L918.6 376.1L916.4 371.3L915 368.5L914 366.5L912.8 364.6L911.1 362L908.3 357.6L905.6 353.2L904 350.6L902.9 348.9L901.6 347.2L899.7 345L896.4 341.1L893.1 337.2L891.1 334.9L889.6 333.4L888.1 332.1L886.1 330.2L882.5 326.8L878.7 323.1L876 320.6L873.9 318.8L872.3 317.4L870.8 316.1L868.9 314.3Z" fill="#efdcb6" opacity=".75" filter="url(#b2)"/>
<path d="M589 330C587.7 350 588.3 342.3 588 365C587.7 387.7 586 381.3 588 398C590 414.7 588.3 404.3 594 415C599.7 425.7 594.7 420.7 605 430C615.3 439.3 610 435.3 625 443C640 450.7 631.7 447.3 650 453C668.3 458.7 662.3 457 680 460C697.7 463 690.3 462.7 703 462C715.7 461.3 709.7 461.3 718 458C726.3 454.7 721.3 452 728 452C734.7 452 729 454.7 738 458C747 461.3 738 460.7 755 462C772 463.3 772 463.5 789 462C806 460.5 792.5 462.2 806 457.5C819.5 452.8 814.8 455.8 829.5 448C844.2 440.2 838.5 443.3 850 434C861.5 424.7 857 430 864 420C871 410 868.3 416.7 871 404C873.7 391.3 871.8 405 872 382C872.2 359 872.3 357.3 871.5 335C870.7 312.7 871.3 327 869.5 315C867.7 303 869.8 308.3 866 299C862.2 289.7 865 294.7 858 287C851 279.3 856 284 845 276C834 268 838.7 270.7 825 263C811.3 255.3 819 258.7 804 253C789 247.3 795.7 249.5 780 246C764.3 242.5 770.3 243.2 757 242.5C743.7 241.8 750 241.7 740 244C730 246.3 735.7 249.5 727 249.5C718.3 249.5 724.7 246.3 714 244C703.3 241.7 709.7 241.5 695 242.5C680.3 243.5 685.7 243.5 670 247C654.3 250.5 662 247.7 648 253C634 258.3 640.7 255.7 628 263C615.3 270.3 620 266.3 610 275C600 283.7 604 279 598 289C592 299 595 291.3 592 305C589 318.7 590.3 310 589 330Z" fill="url(#gWall)" stroke="#b88a5c" stroke-width="2"/>
<clipPath id="cCord"><path d="M589 330C587.7 350 588.3 342.3 588 365C587.7 387.7 586 381.3 588 398C590 414.7 588.3 404.3 594 415C599.7 425.7 594.7 420.7 605 430C615.3 439.3 610 435.3 625 443C640 450.7 631.7 447.3 650 453C668.3 458.7 662.3 457 680 460C697.7 463 690.3 462.7 703 462C715.7 461.3 709.7 461.3 718 458C726.3 454.7 721.3 452 728 452C734.7 452 729 454.7 738 458C747 461.3 738 460.7 755 462C772 463.3 772 463.5 789 462C806 460.5 792.5 462.2 806 457.5C819.5 452.8 814.8 455.8 829.5 448C844.2 440.2 838.5 443.3 850 434C861.5 424.7 857 430 864 420C871 410 868.3 416.7 871 404C873.7 391.3 871.8 405 872 382C872.2 359 872.3 357.3 871.5 335C870.7 312.7 871.3 327 869.5 315C867.7 303 869.8 308.3 866 299C862.2 289.7 865 294.7 858 287C851 279.3 856 284 845 276C834 268 838.7 270.7 825 263C811.3 255.3 819 258.7 804 253C789 247.3 795.7 249.5 780 246C764.3 242.5 770.3 243.2 757 242.5C743.7 241.8 750 241.7 740 244C730 246.3 735.7 249.5 727 249.5C718.3 249.5 724.7 246.3 714 244C703.3 241.7 709.7 241.5 695 242.5C680.3 243.5 685.7 243.5 670 247C654.3 250.5 662 247.7 648 253C634 258.3 640.7 255.7 628 263C615.3 270.3 620 266.3 610 275C600 283.7 604 279 598 289C592 299 595 291.3 592 305C589 318.7 590.3 310 589 330Z"/></clipPath>
<g clip-path="url(#cCord)">
<rect x="578" y="330" width="22" height="140" fill="#c9a171" opacity=".35" filter="url(#b8)"/>
<rect x="835" y="330" width="45" height="140" fill="#c39a69" opacity=".55" filter="url(#b8)"/>
<rect x="708" y="370" width="40" height="100" fill="#c9a171" opacity=".35" filter="url(#b8)"/>
<g filter="url(#b1)">
<rect x="590" y="335" width="5.7" height="135" fill="#b8905f" opacity="0.17"/>
<rect x="605.2" y="335" width="5.8" height="135" fill="#b8905f" opacity="0.16"/>
<rect x="618.1" y="335" width="4.1" height="135" fill="#b8905f" opacity="0.16"/>
<rect x="629.6" y="335" width="7.8" height="135" fill="#b8905f" opacity="0.10"/>
<rect x="642.5" y="335" width="3.5" height="135" fill="#b8905f" opacity="0.21"/>
<rect x="653.9" y="335" width="3.3" height="135" fill="#b8905f" opacity="0.24"/>
<rect x="666.9" y="335" width="6.9" height="135" fill="#b8905f" opacity="0.18"/>
<rect x="677.9" y="335" width="3.1" height="135" fill="#b8905f" opacity="0.16"/>
<rect x="684.4" y="335" width="4.1" height="135" fill="#b8905f" opacity="0.12"/>
<rect x="691.8" y="335" width="5.8" height="135" fill="#b8905f" opacity="0.15"/>
<rect x="706.5" y="335" width="6.1" height="135" fill="#b8905f" opacity="0.18"/>
<rect x="719.1" y="335" width="7" height="135" fill="#b8905f" opacity="0.15"/>
<rect x="731" y="335" width="9" height="135" fill="#b8905f" opacity="0.24"/>
<rect x="748.9" y="335" width="7.2" height="135" fill="#b8905f" opacity="0.13"/>
<rect x="760.7" y="335" width="4.7" height="135" fill="#b8905f" opacity="0.09"/>
<rect x="773.8" y="335" width="5.4" height="135" fill="#b8905f" opacity="0.22"/>
<rect x="784.9" y="335" width="8.7" height="135" fill="#b8905f" opacity="0.22"/>
<rect x="796.7" y="335" width="4.3" height="135" fill="#b8905f" opacity="0.23"/>
<rect x="807.2" y="335" width="8.9" height="135" fill="#b8905f" opacity="0.14"/>
<rect x="819.6" y="335" width="6.8" height="135" fill="#b8905f" opacity="0.20"/>
<rect x="831.3" y="335" width="3.5" height="135" fill="#b8905f" opacity="0.13"/>
<rect x="844.5" y="335" width="7.5" height="135" fill="#b8905f" opacity="0.10"/>
<rect x="856.8" y="335" width="3.6" height="135" fill="#b8905f" opacity="0.09"/>
<rect x="869" y="335" width="4.1" height="135" fill="#b8905f" opacity="0.17"/>
<rect x="593" y="335" width="2.6" height="135" fill="#f3e2c0" opacity="0.23"/>
<rect x="604.9" y="335" width="3.9" height="135" fill="#f3e2c0" opacity="0.12"/>
<rect x="621" y="335" width="2.6" height="135" fill="#f3e2c0" opacity="0.15"/>
<rect x="641.4" y="335" width="4.4" height="135" fill="#f3e2c0" opacity="0.15"/>
<rect x="662.6" y="335" width="2.6" height="135" fill="#f3e2c0" opacity="0.17"/>
<rect x="681.8" y="335" width="3.9" height="135" fill="#f3e2c0" opacity="0.12"/>
<rect x="703.6" y="335" width="2.6" height="135" fill="#f3e2c0" opacity="0.15"/>
<rect x="722" y="335" width="3" height="135" fill="#f3e2c0" opacity="0.15"/>
<rect x="733.7" y="335" width="2.3" height="135" fill="#f3e2c0" opacity="0.20"/>
<rect x="746.4" y="335" width="3.8" height="135" fill="#f3e2c0" opacity="0.17"/>
<rect x="762.7" y="335" width="4.9" height="135" fill="#f3e2c0" opacity="0.19"/>
<rect x="781.4" y="335" width="4.6" height="135" fill="#f3e2c0" opacity="0.13"/>
<rect x="795.5" y="335" width="4.7" height="135" fill="#f3e2c0" opacity="0.25"/>
<rect x="810.7" y="335" width="2.6" height="135" fill="#f3e2c0" opacity="0.23"/>
<rect x="830.7" y="335" width="2.6" height="135" fill="#f3e2c0" opacity="0.27"/>
<rect x="850.1" y="335" width="3.8" height="135" fill="#f3e2c0" opacity="0.18"/>
<rect x="863" y="335" width="2.1" height="135" fill="#f3e2c0" opacity="0.27"/>
</g>
</g>
<path d="M589 332C587.8 319.6 589.3 317.9 592 305C594.7 292.1 592.6 298 598 289C603.4 280 601 282.8 610 275C619 267.2 616.6 269.6 628 263C639.4 256.4 635.4 257.8 648 253C660.6 248.2 655.9 250.2 670 247C684.1 243.8 681.8 243.4 695 242.5C708.2 241.6 704.4 241.9 714 244C723.6 246.1 719.2 249.5 727 249.5C734.8 249.5 731 246.1 740 244C749 241.9 745 241.9 757 242.5C769 243.1 765.9 242.8 780 246C794.1 249.2 790.5 247.9 804 253C817.5 258.1 812.7 256.1 825 263C837.3 269.9 835.1 268.8 845 276C854.9 283.2 851.7 280.1 858 287C864.3 293.9 862.5 290.6 866 299C869.5 307.4 868.1 306 869.5 315C870.9 324 871.2 320.9 870.5 329C869.8 337.1 871.8 333.9 867 342C862.2 350.1 864 348.4 854.5 356C845 363.6 847.8 361.5 835.5 367.5C823.2 373.5 827.1 371.8 813.5 376C799.9 380.2 804 378.9 790 381.5C776 384.1 779.6 383.3 767 384.5C754.4 385.7 757.3 386.2 748 385.5C738.7 384.8 741.2 386.1 736 382C730.8 377.9 732.9 385.8 730.5 372C728.1 358.2 729.5 336 728 336C726.5 336 728.5 358.5 725.5 372C722.5 385.5 726.5 377.9 718 381C709.5 384.1 710.4 382.5 697 382.5C683.6 382.5 687.6 382.9 673.5 381C659.4 379.1 663 379.3 650 376C637 372.7 641.7 374.6 630 370C618.3 365.4 621.2 367.6 611 360.5C600.8 353.4 602.6 355.1 596 346.5C589.4 337.9 590.2 344.4 589 332Z" fill="url(#gTop)" stroke="#b88a5c" stroke-width="2" stroke-linejoin="round"/>
<path d="M727.8 336 L728 376 L728 452" fill="none" stroke="#b07f54" stroke-width="2.2"/>
<path d="M726 251C726.3 257.3 726.3 257 727 270C727.7 283 727.3 279 728 290C728.7 301 728.7 298.7 729 303" fill="none" stroke="#c8a070" stroke-width="1.6"/>
<path d="M628 273C630.7 268.3 629.3 268.7 636 265C642.7 261.3 640 262 648 262C656 262 652.3 261.7 660 265C667.7 268.3 663.3 266.3 671 272C678.7 277.7 675 275.3 683 282C691 288.7 687 286 695 292C703 298 698.7 295.3 707 300C715.3 304.7 711.3 303.8 720 306C728.7 308.2 724.3 307.5 733 306.5C741.7 305.5 738 307.2 746 303C754 298.8 750 300.7 757 294C764 287.3 759.3 290.7 767 283C774.7 275.3 770.7 278 780 271C789.3 264 785.7 265 795 262C804.3 259 800.7 259.3 808 262C815.3 264.7 814 264.3 817 270C820 275.7 818.7 273.3 817 279C815.3 284.7 817 282 812 287C807 292 807.7 289.3 802 294C796.3 298.7 798 296 795 301C792 306 792.7 303.3 793 309C793.3 314.7 791.7 312.3 796 318C800.3 323.7 799.3 320.3 806 326C812.7 331.7 812 329.3 816 335C820 340.7 818.7 337.7 818 343C817.3 348.3 819 346.3 814 351C809 355.7 807.7 352.7 803 357C798.3 361.3 802 360 800 364C798 368 802 367.2 797 369C792 370.8 793 369.8 785 369.5C777 369.2 780.7 370.5 773 368C765.3 365.5 768.3 366.7 762 362C755.7 357.3 759 360 754 354C749 348 751 350.3 747 344C743 337.7 745.3 339.8 742 335C738.7 330.2 741.3 332 737 329.5C732.7 327 734.3 327.5 729 327.5C723.7 327.5 725.3 327 721 329.5C716.7 332 719.7 329.8 716 335C712.3 340.2 714.3 339.3 710 345C705.7 350.7 709 347 703 352C697 357 700 355 692 360C684 365 687 364.3 679 367C671 369.7 674.3 369 668 368C661.7 367 664 368 660 364C656 360 658.7 360.7 656 356C653.3 351.3 656.3 353.7 652 350C647.7 346.3 647.3 348.7 643 345C638.7 341.3 640 343.7 639 339C638 334.3 638 335.7 640 331C642 326.3 640.7 329.3 645 325C649.3 320.7 648.7 322.7 653 318C657.3 313.3 656 317 658 311C660 305 660.7 306.3 659 300C657.3 293.7 658.3 296.7 653 292C647.7 287.3 649.7 289 643 286C636.3 283 638 285.3 633 283C628 280.7 629.7 282.3 628 279C626.3 275.7 625.3 277.7 628 273Z" fill="#dabf92" stroke="#cdab79" stroke-width="1.2"/>
<path d="M600 310C606.7 308.3 606.7 306.3 620 305C633.3 303.7 633.3 305.7 640 306" fill="none" stroke="#d6b88a" stroke-width="1" opacity=".6"/>
<path d="M605 335C610.7 336 611.7 333.7 622 338C632.3 342.3 631.3 344.7 636 348" fill="none" stroke="#d6b88a" stroke-width="1" opacity=".6"/>
<path d="M690 255C693.3 260 694.7 260 700 270C705.3 280 704 280 706 285" fill="none" stroke="#d6b88a" stroke-width="1" opacity=".6"/>
<path d="M760 255C757.3 260 756 260.3 752 270C748 279.7 749.3 279.3 748 284" fill="none" stroke="#d6b88a" stroke-width="1" opacity=".6"/>
<path d="M830 290C835 292 835 289.3 845 296C855 302.7 855 305.3 860 310" fill="none" stroke="#d6b88a" stroke-width="1" opacity=".6"/>
<path d="M825 330C831.7 331.7 832.7 334.3 845 335C857.3 335.7 856.3 333 862 332" fill="none" stroke="#d6b88a" stroke-width="1" opacity=".6"/>
<path d="M770 375C773.3 374 776.7 373 780 372" fill="none" stroke="#d6b88a" stroke-width="1" opacity=".6"/>
<g mask="url(#mY)">
<g fill="#cc952a" stroke="#cc952a" stroke-width="1" stroke-linejoin="round">
<path d="M659.2 364.9L658.5 366.6L658 368.1L657.4 369.4L656.8 371L655.9 373.3L654.7 376.5L653.7 379.6L653.2 381.5L653.1 382.1L653 382.1L652.3 383.5L650.6 386.8L648.7 390.3L647.5 392.4L646.6 393.7L645.4 395.3L643.6 397.8L641 401.7L638.4 405.6L637 407.9L636.2 409.1L635.5 410L634.2 411.7L631.7 414.7L629.2 417.9L627.9 419.5L627.4 420.1L626.9 420.5L625.5 421.7L622.7 424.2L620 426.6L618.7 427.6L618.3 427.9L617.4 428.4L615.2 429.9L611.2 432.5L607.2 435.3L604.8 437L603.2 438.1L601.3 439.3L598.3 441.2L593.4 444.3L588.6 447.3L585.9 449L584.4 449.9L582.9 450.7L579.9 452.4L574.4 455.3L568.8 458.3L565.6 460L563.4 461L561 462.1L557.1 464L550.8 467.2L544.6 470.3L541.2 472L539 473.1L536.6 474.3L532.9 476.2L526.6 479.7L520.2 483.2L516.5 485.2L514.1 486.5L511.5 488L507.7 490.3L501.2 494.4L494.5 498.6L490.2 501.2L487.3 503.1L484.7 504.9L481.3 507.3L475.9 511L470.6 514.6L467.8 516.5L466.1 517.7L464.8 518.7L463 520.1L459.6 522.7L456 525.4L454.1 526.9L452.8 527.9L451.5 529L449.9 530.5L447 533.2L444.1 536L442.3 537.7L441 539L439.9 540.2L438.4 542L435.6 545.1L432.9 548L431.6 549.2L430.6 550.2L429.3 551.6L427.4 554L423.9 558.4L420.2 563.2L417.6 566.6L415.6 569.2L413.6 571.9L411.2 575.3L407.6 580.3L404.3 584.9L402.5 587.3L401.4 588.7L400.5 589.9L399.3 591.7L397 595.3L394.7 599L393.3 601L392.3 602.5L391.3 604L390.1 606.2L388.1 610.1L386 614L384.7 616.4L383.7 618.1L382.7 620.1L381.6 622.7L379.8 627.1L378 631.6L376.9 634.5L376.2 636.7L375.6 638.6L375 640.9L373.8 644.8L372.5 648.6L371.9 650.7L371.5 652.1L371.3 653.3L370.9 655L370 658.3L369.1 661.7L368.5 663.7L368.2 665.1L367.9 666.3L367.5 668.2L366.6 671.5L365.7 675L365.2 677.2L365 678.4L364.9 679.2L364.4 680.8L363.4 684L362.4 687.1L361.8 688.5L361.5 689.3L360.8 690.8L359.9 693.3L358.6 697L357.4 700.7L356.8 703L356.3 704.7L356 706.2L355.6 708.1L354.7 711.6L353.7 715.4L353.1 718.1L352.6 720L352.3 721.5L352 722.9L351.5 724.7L368.5 729.3L369 727.4L369.4 725.9L369.9 724.5L370.4 722.7L371.2 720.2L372.3 716.4L373.3 712.8L373.9 710.6L374.3 709.3L374.6 708.3L375.2 706.4L376.4 703L377.6 699.8L378.2 698.3L378.7 697.5L379.4 696L380.4 693.6L381.6 690L382.8 686.5L383.4 684.2L383.9 682.6L384.1 681.4L384.5 679.7L385.4 676.5L386.3 673.1L386.8 671.1L387.2 669.9L387.5 668.9L388 667.1L389 663.7L390 660.4L390.6 658.7L390.8 657.9L391.2 657L391.9 655.1L393.2 651.2L394.6 647.2L395.4 644.7L396 643.2L396.5 641.8L397.5 639.3L399.2 634.9L401 630.6L401.9 628.1L402.3 626.9L402.9 625.6L404 623.2L405.9 619.1L407.8 615L408.8 612.8L409.2 611.8L409.6 610.8L410.8 608.6L413 604.7L415 600.9L416 599L416.3 598.2L416.9 597.1L418.5 594.5L421.6 589.7L424.9 584.5L427.1 580.9L428.7 578.3L430.3 575.7L432.6 572.4L436.1 567.6L439.3 563.1L441 560.9L441.5 560.2L442 559.6L443.6 558L446.4 554.9L449.3 551.6L450.9 549.7L451.7 548.8L452.4 548L454 546.6L457 543.8L459.9 541L461.3 539.7L462 539.1L462.8 538.5L464.8 537L468.4 534.3L471.9 531.5L473.7 530.1L474.6 529.4L475.9 528.5L478.8 526.6L484.1 523L489.6 519.2L493 516.8L495.4 515.1L498.1 513.4L502.1 510.8L508.8 506.6L515.3 502.6L519 500.3L521.2 499L523.4 497.8L527.1 495.8L533.4 492.3L539.8 488.8L543.3 486.9L545.4 485.8L547.5 484.8L551 483L557.2 479.8L563.4 476.7L567.1 474.9L569.5 473.8L571.9 472.6L575.4 470.7L581 467.7L586.6 464.6L589.7 462.8L591.7 461.6L593.4 460.5L595.9 458.8L600.6 455.7L605.6 452.6L608.6 450.6L610.7 449.3L612.5 448L614.9 446.2L618.8 443.5L622.6 440.8L624.5 439.5L625.8 438.7L627.1 437.7L628.7 436.3L631.3 433.8L634.1 431.4L635.6 429.9L636.9 428.6L637.9 427.3L639.2 425.5L641.5 422.5L643.9 419.3L645.4 417.4L646.4 415.8L647.4 414.3L648.7 412.1L651 408.3L653.5 404.4L655.1 401.9L656.3 400L657.4 398L658.6 395.5L660.4 391.8L662.1 388.2L663 386.1L663.4 384.3L663.5 383.3L663.6 382.2L664.3 379.5L665.2 376.1L665.7 373.6L666.1 371.8L666.3 370.3L666.5 368.8L666.8 367.1Z"/>
<path d="M388.2 621.4L387 623.2L386.1 624.8L385.3 626L384.4 627.4L383 629.3L380.7 632.3L378.5 635L377.3 636.5L376.8 636.8L376.4 637L374.9 638.1L372.1 640.4L369.3 642.6L367.9 643.7L367.2 644L366.3 644.5L364.2 645.7L360.8 647.7L357.5 649.7L355.9 650.7L354.9 651.2L353.5 652L351.3 653.2L347.9 655.2L344.6 657.3L342.6 658.7L341.4 659.6L340.6 660.2L339.1 661.2L336.1 663L333 664.9L331.3 665.9L330.4 666.5L329.6 666.9L327.9 667.7L324.8 669.2L321.6 670.8L319.9 671.6L319.1 672L318.4 672.3L316.7 672.9L313.5 674L310.4 675.2L308.7 675.8L307.9 676.1L307.1 676.3L305.4 676.7L302.4 677.4L299.2 678.1L297.2 678.5L295.9 678.7L294.9 678.9L293.5 679.1L291.8 679.3L294.2 693.7L295.6 693.4L296.7 693.3L298.1 693.1L299.9 692.8L302.3 692.4L305.6 691.6L308.6 690.9L310.4 690.5L311.9 690.2L313.4 689.7L315.3 689.1L318.5 688L321.6 686.9L323.4 686.3L324.9 685.7L326.3 685.1L328.1 684.2L331.2 682.8L334.3 681.3L336.2 680.5L337.6 679.8L339 679L340.8 678L343.9 676.2L347.1 674.3L349.1 673.1L350.3 672.3L351.3 671.7L353 670.6L356.1 668.8L359.2 666.9L360.9 666L362.1 665.5L363.7 664.7L365.9 663.4L369.2 661.3L372.4 659.2L374.3 658.1L375.8 657.1L377.4 655.8L379.2 654.2L381.9 651.6L384.6 649.2L386.1 647.6L387.4 646.1L388.4 644.5L389.4 642.7L391.3 639.7L393.5 636.4L394.9 633.6L395.9 631.5L396.5 629.7L397 628.3L397.8 626.6Z"/>
<path d="M295.8 678.6L293.8 678.8L292.2 678.9L290.6 679L288.6 679.2L285.9 679.4L281.9 679.6L278.3 679.8L276.1 679.9L274.9 680L273.6 680.1L271.6 680.1L268.1 680.2L264.3 680.3L261.8 680.3L260 680.3L258.5 680.2L257 680.2L255.2 680.2L254.8 686.6L256.6 686.8L258.1 687L259.5 687.1L261.4 687.3L264.1 687.5L267.9 687.8L271.4 688L273.5 688.2L274.9 688.2L276.3 688.3L278.4 688.3L282.1 688.4L286 688.5L288.9 688.6L290.9 688.6L292.6 688.6L294.2 688.6L296.2 688.6Z"/>
<path d="M256.2 680.9L255.1 680.5L254.2 680.1L253.3 679.8L252.2 679.4L250.8 678.8L249 678.1L247.6 677.4L247.2 677.1L246.9 676.9L246.2 676.3L245 675.9L243 675.4L240.9 674.9L239.4 674.6L238.3 674.5L237.2 674.5L235.7 674.4L233.2 674L230.7 673.5L229 673.2L227.8 672.9L226.8 672.7L225.8 672.4L224.6 672.1L224.4 672.9L225.5 673.3L226.5 673.7L227.4 674.1L228.6 674.6L230.3 675.2L232.8 676L235.2 676.7L236.8 677.1L238 677.3L238.9 677.5L240.1 677.9L242 678.6L243.7 679.4L244.3 679.7L244.2 679.7L244.5 680.1L245.4 680.9L247 681.9L248.8 683L250.1 683.8L251.1 684.4L252 684.8L252.8 685.3L253.8 685.9Z"/>
<path d="M243.3 676.6L242.1 677.1L241.1 677.5L240.2 677.9L239.1 678.4L237.3 679L234.5 679.9L232 680.7L230.5 681.3L229.5 681.6L228.5 681.8L226.8 682.2L223.8 682.8L220.8 683.3L219.1 683.6L217.9 683.8L216.8 683.9L215 684L212 684.2L208.8 684.4L206.6 684.5L205 684.6L203.8 684.6L202.6 684.6L201 684.6L201 685.4L202.5 685.5L203.8 685.6L205 685.7L206.6 685.8L208.8 685.8L212 685.8L215 685.8L216.8 685.8L218.1 685.8L219.3 685.8L221.1 685.6L224.2 685.2L227.2 684.9L229 684.6L230.2 684.4L231.3 684.1L232.8 683.7L235.5 683.1L238.3 682.4L240.2 681.9L241.5 681.4L242.5 681.1L243.4 680.8L244.7 680.4Z"/>
<path d="M254.7 681.3L253.6 681.9L252.6 682.4L251.5 682.9L250.2 683.6L248.7 684.5L246.6 685.7L245 686.9L244 687.8L243.5 688.4L243.7 688.3L243.2 688.7L241.3 690L239.2 691.4L237.8 692.3L236.9 692.9L235.8 693.6L233.9 694.4L230.8 695.8L227.8 697.1L226 697.9L224.8 698.3L223.7 698.6L221.8 699L218.8 699.7L215.8 700.4L214.1 700.8L213.3 700.9L212.4 700.9L210.8 700.9L208 701.1L204.9 701.4L202.7 701.5L201.1 701.6L199.9 701.6L198.6 701.6L197 701.6L197 702.4L198.6 702.5L199.8 702.6L201.1 702.7L202.7 702.8L204.9 702.8L208 702.9L210.8 702.9L212.4 703L213.4 703L214.4 703L216.2 702.7L219.2 702.3L222.4 701.8L224.3 701.6L225.7 701.3L227.1 700.9L229 700.3L232.2 699.2L235.4 698.1L237.5 697.3L238.9 696.7L240.1 696L241.5 695.2L243.7 694L245.8 692.8L247 692L247.7 691.2L247.6 691.3L247.9 691.1L249.4 690.3L251.3 689.3L252.7 688.6L253.9 688.1L254.9 687.7L256 687.3L257.3 686.7Z"/>
<path d="M227.6 698.6L226.4 699.9L225.6 701.1L224.9 702.1L223.9 703.3L222.4 704.8L219.9 707L217.3 709.1L215.3 710.5L213.8 711.3L212.5 712L211.1 712.7L209.5 713.6L209.9 714.4L211.5 713.7L213 713.2L214.4 712.7L216.1 711.9L218.4 710.8L221.3 709L224.2 707.1L226.1 705.6L227.4 704.4L228.4 703.4L229.3 702.5L230.4 701.4Z"/>
<path d="M287.8 684L287 685.5L286.3 686.7L285.8 687.8L285 689.2L283.9 691.1L282.2 693.9L280.6 696.7L279.6 698.3L279.1 699.2L278.7 699.9L277.7 701.2L275.9 703.5L274 705.8L273.1 706.9L272.6 707.3L271.9 708L270.5 709.2L268.4 711.4L266.4 713.6L265.3 714.9L264.7 715.6L264.4 715.9L263.5 716.9L261.3 718.8L259 720.7L257.7 721.8L256.8 722.4L255.6 723.2L253.9 724.4L251.3 726.4L248.9 728.4L247.4 729.6L246.6 730.4L246.1 730.8L245.2 731.6L243.2 733L241.1 734.5L239.7 735.4L238.8 735.9L238 736.3L237.1 736.8L235.9 737.5L239.7 744.5L240.8 744L241.5 743.6L242.5 743.2L243.8 742.5L245.6 741.5L248 740L250.2 738.6L251.5 737.6L252.4 736.9L253.1 736.3L254.3 735.3L256.7 733.6L259.2 731.9L260.7 731L261.8 730.3L263.2 729.5L264.9 728.2L267.5 726.2L269.9 724.3L271.3 723L272.3 722.1L272.8 721.4L273.7 720.5L275.6 718.6L277.6 716.8L278.6 715.9L279.5 715.3L280.6 714.3L282 712.8L284.1 710.5L286.2 708.1L287.5 706.5L288.4 705.3L289.1 704.1L290.1 702.6L291.8 700.1L293.7 697.3L295 695.2L296 693.7L296.7 692.5L297.3 691.4L298.2 690Z"/>
<path d="M237.7 738.3L236.2 738.5L234.9 738.7L233.6 738.9L232.1 739.1L229.9 739.4L226.8 739.8L224 740.2L222.4 740.4L221.4 740.5L220.4 740.6L218.7 740.8L215.9 741.2L213 741.7L211.4 741.9L210.3 742.1L209.3 742.3L207.7 742.6L204.9 743L201.8 743.5L199.6 743.8L198.1 744L196.8 744.2L195.5 744.4L194 744.6L194 745.4L195.6 745.3L196.9 745.3L198.2 745.3L199.8 745.2L202 745.1L205.1 745L208 744.8L209.6 744.7L210.7 744.6L211.7 744.6L213.3 744.5L216.1 744.4L219 744.3L220.6 744.2L221.6 744.2L222.6 744.2L224.3 744.2L227.2 744.2L230.3 744.1L232.5 744L234.1 743.9L235.4 743.9L236.7 743.8L238.3 743.7Z"/>
<path d="M237.2 739.1L235.2 739.8L233.6 740.3L231.9 740.8L229.9 741.5L227.1 742.4L223.3 743.8L219.9 745L217.9 745.7L216.7 746.1L215.4 746.6L213.5 747.5L210.3 749.1L207.1 750.7L205.3 751.7L204 752.4L202.9 753.1L201.3 754.2L198.5 756.1L195.4 758.2L193.4 759.7L191.9 760.8L190.8 761.7L189.8 762.6L188.4 763.7L188.8 764.3L190.3 763.4L191.5 762.6L192.7 761.8L194.1 760.9L196.3 759.6L199.5 757.9L202.5 756.2L204.2 755.2L205.3 754.6L206.4 754.1L208.3 753.4L211.7 752.1L214.9 750.9L216.8 750.2L217.8 749.9L219 749.6L221.1 749.1L224.7 748.2L228.6 747.2L231.3 746.5L233.3 746.1L235 745.7L236.7 745.4L238.8 744.9Z"/>
<path d="M235.3 739.6L234.7 741L234.2 742.3L233.7 743.5L233 745L232.2 746.9L231.1 749.7L230 752.3L229.4 753.8L229 754.8L228.7 755.6L228.2 756.8L227.3 758.8L226.4 760.8L225.9 762.1L225.5 762.8L225.3 763.3L225 763.9L224.6 764.7L229.4 767.3L229.9 766.5L230.2 766L230.5 765.4L230.9 764.6L231.6 763.3L232.7 761.2L233.6 759.3L234.2 758.1L234.6 757.2L235.1 756.3L235.7 754.8L236.9 752.3L238.2 749.6L239.1 747.7L239.8 746.3L240.4 745.1L241 743.9L241.7 742.4Z"/>
<path d="M225.7 764.1L224.9 764.8L224.1 765.4L223.5 766L222.7 766.7L221.6 767.5L220.1 768.5L218.8 769.4L218.1 769.9L217.9 770.1L217.6 770.2L216.8 770.6L215.5 771.3L214.1 772.1L213.2 772.5L212.7 772.8L212.1 773.1L211.2 773.5L209.7 774.2L208.1 774.9L206.9 775.4L206.1 775.8L205.4 776L204.7 776.3L203.9 776.6L204.1 777.4L205 777.2L205.7 777L206.4 776.9L207.3 776.6L208.6 776.3L210.3 775.8L211.9 775.3L212.9 775L213.6 774.8L214.2 774.6L215.1 774.3L216.5 773.7L218 773.2L218.7 773L219.1 772.8L219.6 772.6L220.4 772.2L221.9 771.5L223.6 770.6L224.8 769.9L225.8 769.4L226.6 768.9L227.4 768.4L228.3 767.9Z"/>
<path d="M224.6 765.4L224.4 766.5L224.2 767.4L224 768.4L223.7 769.6L223.4 771.3L223.1 773.6L222.9 775.8L222.8 777.2L222.8 778L222.8 778.7L222.7 779.8L222.4 781.7L222.1 783.7L221.9 784.8L221.8 785.4L221.6 786L221.2 787L220.7 788.7L220.2 790.6L219.8 791.8L219.5 792.6L219.2 793.3L218.9 794L218.6 794.8L219.4 795.2L219.8 794.4L220.1 793.7L220.5 793.1L220.9 792.3L221.5 791.1L222.3 789.3L223 787.7L223.5 786.8L223.8 786.1L224.1 785.4L224.5 784.2L225.1 782.3L225.6 780.3L225.9 779.1L226 778.2L226.1 777.5L226.4 776.4L226.9 774.4L227.5 772.2L228 770.7L228.4 769.6L228.7 768.7L229 767.8L229.4 766.6Z"/>
<path d="M285.5 694.6L285.4 696.2L285.3 697.4L285.3 698.6L285.2 699.9L285 701.8L284.6 704.4L284.2 706.8L284 708.1L283.8 708.8L283.6 709.5L283.2 710.9L282.6 713.2L282 715.5L281.7 716.9L281.4 717.7L281.2 718.5L280.9 719.7L280.3 721.7L279.8 723.6L279.5 724.6L279.3 725.1L279 725.8L278.8 726.7L278.4 728.4L278.1 730.2L277.8 731.5L277.7 732.5L277.7 733.2L277.6 733.8L277.5 734.6L282.5 735.4L282.6 734.5L282.7 733.7L282.8 733.1L282.9 732.4L283.1 731.3L283.6 729.6L284 728.1L284.2 727.4L284.4 727L284.6 726.4L285 725.3L285.7 723.3L286.3 721.4L286.7 720.2L287 719.4L287.3 718.5L287.7 717.1L288.4 714.8L289.1 712.6L289.5 711.4L289.8 710.6L290.1 709.6L290.5 708.1L291 705.6L291.5 702.8L291.9 700.7L292.1 699.2L292.2 697.9L292.3 696.8L292.5 695.4Z"/>
<path d="M277.8 734.7L277.7 736.5L277.6 737.9L277.6 739.3L277.5 741.1L277.4 743.5L277.2 746.8L277 750.2L276.9 752.5L276.8 754.1L276.8 755.4L276.7 756.7L276.6 758.3L277.4 758.5L277.7 756.8L278 755.6L278.3 754.3L278.6 752.7L279.1 750.4L279.8 747.2L280.5 743.9L281 741.5L281.3 739.8L281.6 738.4L281.9 737L282.2 735.3Z"/>
<path d="M279 731.6L278.5 732.3L278.1 732.8L277.6 733.3L276.9 734.1L276 735.3L274.8 737L273.6 738.8L273 739.9L272.7 740.7L272.3 741.4L271.6 742.5L270.2 744.3L268.6 746.3L267.4 747.7L266.5 748.6L265.6 749.4L264.7 750.2L263.7 751.2L264.3 751.8L265.4 751L266.3 750.3L267.3 749.6L268.4 748.7L269.9 747.5L271.8 745.7L273.4 743.9L274.4 742.8L275 741.9L275.4 741.3L276 740.4L277.2 739L278.6 737.4L279.6 736.5L280.2 735.9L280.7 735.5L281.2 735L282 734.4Z"/>
<path d="M355.3 721.9L353.4 723.4L351.8 724.6L350.2 725.8L348.3 727.2L345.6 729.3L341.6 732.2L337.9 734.9L335.6 736.5L334.1 737.6L332.5 738.6L330.4 740.1L327.1 742.5L323.9 744.8L322.2 746.2L321.2 747L320.6 747.5L319.5 748.4L317 750.2L314.2 752.2L312.3 753.5L311 754.4L309.9 755.1L308.8 755.8L307.3 756.8L312.7 765.2L314.1 764.4L315.2 763.7L316.4 763L317.9 762.1L320 760.7L323 758.8L325.6 757.1L327.1 756L327.9 755.4L328.7 754.8L330.3 753.7L333.5 751.5L336.8 749.3L338.8 748L340.3 747.1L342 746L344.4 744.4L348.4 741.8L352.5 739.1L355.4 737.1L357.4 735.7L359.1 734.6L360.6 733.5L362.7 732.1Z"/>
<path d="M308.6 757.5L307.2 758.1L306 758.7L304.8 759.2L303.3 759.8L301.4 760.7L298.7 761.8L296.2 763L294.8 763.7L294.1 764.1L293.5 764.4L292.3 764.9L290 765.8L287.5 766.7L286.1 767.2L285.2 767.5L284.3 767.7L282.8 768.1L280.3 768.8L277.8 769.5L276.1 770L275 770.3L274.1 770.5L273.2 770.7L272 771L273 775.8L274.2 775.6L275.1 775.5L276 775.3L277.3 775.1L279.1 774.8L281.7 774.2L284.1 773.7L285.6 773.4L286.6 773.2L287.8 772.9L289.4 772.5L292 771.7L294.5 770.9L296 770.4L296.9 769.9L297.7 769.6L298.9 769.1L301.3 768.2L304 767.1L306 766.4L307.5 765.9L308.7 765.5L309.9 765L311.4 764.5Z"/>
<path d="M272.1 771.2L271 771.5L270.1 771.7L269.2 771.9L268.1 772.2L266.6 772.6L264.6 773.3L262.8 773.8L261.9 774L261.2 774.1L260.3 774.3L259.2 774.8L257.4 775.8L255.6 776.8L254.5 777.4L253.7 778L253 778.6L252 779.5L250.5 780.8L248.8 782.3L247.7 783.4L247 784.2L246.5 784.8L246 785.5L245.3 786.2L245.9 786.8L246.7 786.1L247.3 785.5L247.8 785L248.6 784.3L249.7 783.4L251.5 782.2L253.2 781L254.3 780.2L254.9 779.8L255.6 779.4L256.7 779L258.6 778.2L260.4 777.5L261.3 777.2L261.7 777.2L262.3 777.2L263.4 777.1L265.4 776.7L267.5 776.4L269 776.1L270 776L270.9 775.9L271.8 775.8L272.9 775.6Z"/>
<path d="M271.1 772.9L270.5 773.9L270.1 774.7L269.6 775.6L269 776.7L268.3 778.2L267.4 780.2L266.6 782L266.2 783.2L266.1 783.8L266 784.3L265.6 785.2L264.8 786.8L264 788.5L263.4 789.5L263 790L262.6 790.7L261.9 791.7L260.8 793.5L259.7 795.5L258.9 796.8L258.3 797.8L257.9 798.6L257.5 799.4L257 800.4L257.6 800.8L258.3 799.9L258.8 799.2L259.3 798.4L260 797.5L260.9 796.3L262.2 794.5L263.5 792.9L264.2 792L264.8 791.4L265.3 790.8L266 789.8L267.2 788.2L268.2 786.5L268.8 785.5L269 784.8L269.2 784.3L269.6 783.4L270.6 781.8L271.7 780L272.5 778.7L273.1 777.7L273.7 777L274.3 776.1L274.9 775.1Z"/>
<path d="M306 760.7L305.4 762.5L305 764L304.6 765.4L304.1 767.2L303.4 769.5L302.4 772.7L301.4 775.7L300.9 777.4L300.6 778.4L300.3 779.2L299.7 780.6L298.8 783L297.8 785.4L297.3 786.6L297 787.2L296.6 787.8L296 789L295.1 791.1L294.1 793.3L293.4 794.8L292.9 795.9L292.5 796.8L292.2 797.6L291.7 798.7L297.1 801.3L297.6 800.2L298.1 799.4L298.5 798.6L299 797.6L299.8 796.1L300.9 793.9L301.9 792L302.5 791.1L302.9 790.5L303.4 789.6L304.1 788.2L305.2 785.8L306.3 783.4L307 782L307.4 781L307.9 779.9L308.5 778.2L309.6 775.3L310.9 772.1L311.8 769.7L312.4 768L312.9 766.5L313.4 765L314 763.3Z"/>
<path d="M292.7 798.5L292 799.5L291.4 800.3L290.8 801L290.1 801.9L289.2 803.1L287.7 804.7L286.4 806.2L285.7 806.9L285.3 807.3L284.7 807.8L283.9 808.6L282.5 810L281.1 811.5L280.4 812.4L279.9 812.9L279.5 813.5L278.8 814.4L277.4 815.9L275.9 817.5L274.8 818.7L273.9 819.5L273.3 820.2L272.6 820.9L271.7 821.7L272.3 822.3L273.2 821.6L273.9 821L274.7 820.4L275.6 819.6L276.9 818.6L278.6 817.1L280.2 815.8L281.1 815L281.6 814.4L282.1 814L282.8 813.2L284.3 812L285.8 810.7L286.6 810.1L287.1 809.8L287.8 809.4L288.7 808.6L290.3 807.3L291.9 805.7L293.1 804.6L294 803.7L294.7 803L295.3 802.3L296.1 801.5Z"/>
<path d="M292.1 799.1L291.7 800.3L291.4 801.2L291 802.2L290.6 803.4L290.2 805.1L289.6 807.4L289.1 809.6L289 810.9L289 811.7L289.1 812.1L288.9 813L288.3 815L287.5 817.1L287.1 818.2L286.7 818.9L286.2 819.7L285.4 821.1L284.1 823.5L282.8 826L281.9 827.9L281.1 829.2L280.5 830.3L279.9 831.4L279.2 832.8L279.8 833.2L280.7 832L281.5 830.9L282.2 829.9L283.1 828.6L284.3 826.9L285.9 824.5L287.4 822.4L288.3 821.1L288.9 820.3L289.5 819.5L290.1 818.2L291.1 816.2L292.1 814.1L292.5 812.7L292.6 811.8L292.6 811.3L292.8 810.4L293.4 808.6L294.2 806.5L294.8 805L295.3 803.9L295.8 803L296.2 802.1L296.7 800.9Z"/>
<path d="M352.6 728.3L352.9 729.8L353.2 731.2L353.5 732.2L353.7 733.2L354 734.9L354.3 737.5L354.5 739.9L354.6 741L354.5 741.6L354.4 742.8L354.4 744.7L354.6 747.3L354.8 749.7L354.9 751.2L355.1 752.4L355.3 753.3L355.5 754.2L355.9 756.1L356.3 758.3L356.7 760L357 761.2L357.2 762.1L357.4 762.9L357.6 763.9L370.4 761.1L370.1 760L370 759.1L369.8 758.3L369.6 757.4L369.4 756L369.1 753.9L368.8 751.8L368.6 750.6L368.5 750.2L368.5 750L368.5 748.9L368.4 746.7L368.4 744.6L368.5 743.6L368.6 742.9L368.7 741.5L368.8 739.4L368.7 736.5L368.5 733.4L368.3 731.1L368 729.3L367.8 728L367.6 727L367.4 725.7Z"/>
<path d="M358.6 760.8L357.9 762.2L357.4 763.3L356.9 764.3L356.2 765.6L355.3 767.4L354 770L352.7 772.4L351.9 773.9L351.5 774.8L351 775.6L350.3 776.8L349 778.9L347.6 781L346.9 782.2L346.6 782.7L346.2 783.2L345.4 784.1L344 785.8L342.5 787.6L341.6 788.8L340.9 789.5L340.3 790.1L339.7 790.8L338.9 791.6L343.1 795.9L343.9 795.1L344.5 794.6L345.2 794L346.1 793.1L347.3 791.9L349 790.2L350.5 788.6L351.3 787.8L351.9 787.1L352.6 786.3L353.5 785.1L355 783.1L356.6 781L357.5 779.7L358.2 778.7L358.8 777.7L359.6 776.3L361 774L362.6 771.5L363.7 769.8L364.5 768.4L365.1 767.4L365.7 766.4L366.4 765.2Z"/>
<path d="M339.4 792.1L338.8 792.8L338.3 793.4L337.8 794L337.3 794.6L336.5 795.4L335.3 796.6L334.3 797.7L333.7 798.1L333.4 798.4L333 798.7L332.3 799.3L331.1 800.4L329.9 801.6L329.3 802.2L328.8 802.7L328.3 803.2L327.6 804L326.4 805.3L325 806.8L324 807.8L323.3 808.6L322.7 809.3L322.1 809.9L321.4 810.7L322 811.3L322.8 810.6L323.5 810.1L324.1 809.5L325 808.8L326.1 807.9L327.6 806.7L329.1 805.5L329.9 804.8L330.4 804.4L330.9 804.1L331.6 803.5L332.9 802.6L334.2 801.7L334.8 801.3L335.2 801.1L335.7 800.8L336.4 800.3L337.7 799.4L339.1 798.3L340 797.5L340.8 796.9L341.4 796.4L341.9 795.9L342.6 795.4Z"/>
<path d="M338.3 793.8L338.2 794.9L338.1 795.9L338.1 796.9L338 798.1L338 799.7L338 801.9L338 804L338.1 805.3L338.2 806.1L338.3 806.5L338.3 807.4L338.2 809.2L338 810.9L337.8 811.8L337.7 812.3L337.5 813L337.2 814.2L336.9 816.1L336.6 818.1L336.4 819.5L336.3 820.6L336.2 821.4L336.1 822.2L336 823.1L340 823.7L340.1 822.7L340.3 821.9L340.4 821.1L340.5 820.2L340.8 818.8L341.1 816.9L341.5 815.2L341.8 814.3L342 813.7L342.3 812.9L342.6 811.6L342.8 809.6L343.1 807.7L343.1 806.4L343.1 805.5L343 804.9L343 804L343 802.1L343.2 799.9L343.3 798.4L343.4 797.3L343.5 796.4L343.6 795.4L343.7 794.2Z"/>
<path d="M336.6 822.4L336 823.3L335.5 824.2L335 824.9L334.5 825.8L333.6 827L332.4 828.6L331.3 830.1L330.7 830.9L330.4 831.3L330 831.7L329.3 832.4L328 833.6L326.8 834.9L326 835.7L325.6 836.1L325.1 836.6L324.3 837.3L323 838.5L321.7 839.7L320.7 840.6L320.1 841.2L319.5 841.6L319 842.1L318.3 842.7L318.9 843.3L319.6 842.8L320.1 842.4L320.7 842L321.4 841.4L322.5 840.7L324 839.5L325.3 838.5L326.2 837.9L326.7 837.5L327.3 837L328.1 836.3L329.5 835.2L330.8 834L331.6 833.4L332.1 833L332.6 832.5L333.3 831.8L334.6 830.4L336 828.8L337 827.7L337.7 826.7L338.2 826L338.8 825.3L339.4 824.4Z"/>
<path d="M336.9 823.6L337.3 824.5L337.7 825.2L338 825.7L338.3 826.4L338.8 827.7L339.3 829.9L339.8 832.3L340.1 834.1L340.3 835.6L340.4 836.9L340.4 838.3L340.6 839.8L341.4 839.8L341.5 838.3L341.6 836.9L341.7 835.6L341.8 834L341.8 832.1L341.7 829.5L341.5 827.1L341.2 825.6L340.9 824.5L340.6 823.7L340.4 823.2L340.1 822.4Z"/>
<path d="M361.3 762.7L361.4 763.2L361.5 763.4L361.5 763.8L361.7 764.6L362 765.8L362.6 767.8L363.2 769.9L363.7 771.3L364 772.2L364.4 773.3L364.9 774.9L365.6 777.6L366.2 780.2L366.5 781.7L366.7 782.5L366.9 783.4L367.1 785L367.5 787.8L368 790.5L368.3 792L368.5 792.9L368.6 793.7L368.8 795.3L369 798.1L369.3 801L369.5 802.6L369.6 803.7L369.6 804.7L369.6 806.4L369.6 809.3L369.6 812.2L369.6 813.8L369.6 814.8L369.5 815.7L369.3 817.2L369.1 819.9L368.9 822.7L368.7 824.7L368.6 826.1L368.5 827.2L368.3 828.3L368.2 829.6L369 829.8L369.3 828.4L369.5 827.3L369.7 826.3L370 824.9L370.4 822.9L370.9 820.1L371.3 817.5L371.6 816L371.8 815L371.9 814L372.1 812.3L372.4 809.5L372.7 806.6L372.8 804.9L372.9 803.7L373 802.5L373 800.8L373 797.9L373 795.1L372.9 793.4L372.9 792.4L372.8 791.4L372.7 789.9L372.5 787.2L372.3 784.5L372.2 782.9L372.2 781.9L372 780.7L371.8 779.1L371.4 776.4L371 773.6L370.6 771.7L370.3 770.4L370.1 769.3L369.8 768.1L369.4 766.2L369.1 764.2L368.9 763.1L368.8 762.7L368.8 762.5L368.8 762L368.7 761.3Z"/>
<path d="M364 761.3L365 762.4L365.7 763.2L366.5 764.1L367.4 765.2L368.7 766.7L370.5 768.8L372.2 770.9L373.2 772.1L373.8 772.9L374.4 773.6L375.3 774.7L376.7 776.4L378.2 778.2L379 779.1L379.4 779.6L379.7 779.9L380.2 780.6L381.3 782.1L382.4 783.6L382.9 784.4L383.2 784.8L383.5 785.4L384.1 786.4L385.2 788.2L386.3 790L386.9 791L387.3 791.7L387.8 792.4L388.5 793.5L389.6 795.4L390.9 797.6L391.8 799.1L392.4 800.2L392.9 801.1L393.4 802L394 803.2L394.8 802.8L394.3 801.6L393.9 800.7L393.5 799.7L393 798.5L392.3 796.8L391.4 794.6L390.5 792.5L389.9 791.2L389.6 790.5L389.2 789.7L388.7 788.7L387.8 786.8L387 784.9L386.6 783.9L386.4 783.3L386.1 782.6L385.6 781.6L384.7 779.9L383.8 778.3L383.3 777.4L382.9 776.8L382.5 776.3L381.9 775.4L380.8 773.6L379.6 771.6L378.9 770.5L378.3 769.6L377.8 768.7L376.9 767.4L375.5 765.2L374 762.8L372.9 761.1L372.1 759.9L371.4 758.9L370.8 757.9L370 756.7Z"/>
</g>
<g fill="#e7b84c">
<path d="M661.1 365.5L660.5 367.2L659.9 368.6L659.4 369.9L658.7 371.6L657.8 373.8L656.6 377.1L655.6 380.1L655.2 381.8L655 382.5L654.9 382.9L654.1 384.4L652.4 387.7L650.5 391.3L649.2 393.4L648.3 394.8L647.1 396.4L645.3 398.9L642.6 402.8L640.1 406.7L638.7 408.9L637.9 410.2L637.1 411.2L635.7 412.9L633.3 416L630.8 419.1L629.5 420.8L628.9 421.4L628.3 422L626.8 423.2L624 425.6L621.3 428L620 429.1L619.5 429.5L618.5 430.1L616.3 431.5L612.3 434.2L608.4 437L606 438.6L604.3 439.8L602.4 441L599.4 442.8L594.4 445.9L589.6 449L587 450.6L585.5 451.6L583.9 452.5L580.9 454.1L575.3 457.1L569.7 460.1L566.5 461.8L564.3 462.8L561.8 463.9L558 465.8L551.7 469L545.5 472.1L542.1 473.8L539.9 474.9L537.5 476L533.9 478L527.5 481.5L521.2 485L517.5 486.9L515.1 488.3L512.6 489.7L508.8 492L502.3 496.1L495.5 500.2L491.3 502.9L488.5 504.8L485.9 506.6L482.5 508.9L477 512.7L471.8 516.3L468.9 518.2L467.3 519.3L466 520.3L464.3 521.7L460.8 524.3L457.2 527L455.3 528.5L454.1 529.4L452.9 530.4L451.3 531.9L448.4 534.7L445.4 537.4L443.7 539.1L442.5 540.3L441.4 541.5L439.9 543.3L437.1 546.4L434.4 549.3L433.1 550.6L432.1 551.5L430.9 552.9L429 555.2L425.5 559.6L421.8 564.4L419.2 567.7L417.2 570.4L415.3 573L412.8 576.4L409.3 581.4L406 586L404.2 588.4L403.1 589.7L402.2 590.9L401 592.7L398.8 596.3L396.4 600L395 602L394 603.4L393.1 604.9L391.9 607.1L389.8 611L387.7 615L386.4 617.3L385.5 619L384.6 620.8L383.4 623.5L381.6 627.8L379.8 632.3L378.7 635.2L378.1 637.3L377.5 639.1L376.9 641.5L375.7 645.4L374.4 649.2L373.8 651.4L373.5 652.7L373.2 653.9L372.8 655.6L371.9 658.8L371 662.2L370.5 664.3L370.1 665.6L369.9 666.8L369.4 668.7L368.6 672L367.7 675.5L367.2 677.6L367 678.8L366.8 679.7L366.3 681.4L365.3 684.6L364.2 687.8L363.7 689.3L363.3 690.1L362.6 691.6L361.7 693.9L360.5 697.6L359.3 701.3L358.7 703.6L358.3 705.2L358 706.6L357.5 708.6L356.7 712.1L355.7 715.9L355 718.6L354.6 720.5L354.2 722L353.9 723.4L353.5 725.3L366.5 728.7L367.1 726.9L367.5 725.4L367.9 724L368.5 722.2L369.2 719.7L370.3 715.9L371.4 712.3L372 710.1L372.3 708.8L372.7 707.7L373.3 705.8L374.5 702.4L375.7 699.1L376.4 697.5L376.8 696.6L377.6 695.2L378.5 692.9L379.7 689.4L380.9 685.9L381.5 683.7L381.9 682.2L382.2 680.9L382.6 679.2L383.4 676L384.4 672.6L384.9 670.6L385.2 669.4L385.5 668.3L386.1 666.5L387.1 663.2L388.1 659.9L388.6 658.1L388.9 657.3L389.3 656.4L390 654.4L391.3 650.6L392.7 646.6L393.5 644.1L394.1 642.6L394.6 641.1L395.6 638.6L397.4 634.2L399.1 629.8L400 627.4L400.5 626L401.1 624.7L402.2 622.3L404.2 618.2L406 614.1L407 611.9L407.4 610.8L407.9 609.7L409.1 607.6L411.2 603.7L413.3 599.9L414.3 598L414.6 597.1L415.2 595.9L416.8 593.4L419.9 588.6L423.2 583.4L425.4 579.8L427 577.1L428.7 574.5L431 571.2L434.5 566.4L437.8 561.9L439.4 559.7L440 558.9L440.6 558.2L442.1 556.6L444.9 553.6L447.8 550.3L449.4 548.4L450.2 547.4L451 546.6L452.6 545.1L455.6 542.3L458.5 539.6L460 538.2L460.7 537.6L461.6 536.9L463.6 535.4L467.2 532.7L470.7 530L472.5 528.6L473.4 527.8L474.8 526.9L477.7 524.9L483 521.3L488.4 517.6L491.8 515.2L494.3 513.5L497 511.7L501.1 509.1L507.7 504.9L514.2 500.9L517.9 498.6L520.2 497.2L522.4 496L526.1 494L532.5 490.5L538.8 487L542.4 485.1L544.5 484L546.6 483L550.1 481.2L556.3 478L562.6 474.9L566.2 473.1L568.6 471.9L571 470.8L574.4 469L580.1 465.9L585.6 462.8L588.7 461.1L590.6 459.9L592.3 458.8L594.9 457.1L599.6 454.1L604.5 450.9L607.5 449L609.6 447.6L611.4 446.3L613.8 444.6L617.7 441.8L621.4 439.2L623.4 437.9L624.6 437.1L625.8 436.2L627.3 434.8L630 432.4L632.7 429.9L634.3 428.5L635.4 427.3L636.3 426.1L637.6 424.3L639.9 421.2L642.4 418.1L643.8 416.2L644.8 414.7L645.7 413.2L647 411L649.4 407.2L651.9 403.2L653.5 400.7L654.6 398.9L655.6 397L656.9 394.6L658.6 390.9L660.3 387.4L661.1 385.3L661.5 383.9L661.5 382.9L661.7 381.7L662.4 378.9L663.3 375.5L663.8 373.1L664.1 371.2L664.3 369.7L664.5 368.3L664.9 366.5Z"/>
<path d="M389.7 622.2L388.7 624L387.8 625.6L386.9 626.9L385.9 628.3L384.4 630.3L382.2 633.3L380 636.1L378.7 637.5L378.2 638L377.6 638.3L376.1 639.4L373.3 641.7L370.5 644L369 645.1L368.2 645.5L367.2 646L365.1 647.2L361.7 649.2L358.5 651.3L356.7 652.3L355.7 652.8L354.3 653.6L352.2 654.7L348.9 656.8L345.5 658.9L343.6 660.2L342.4 661L341.6 661.7L340 662.7L337 664.6L333.9 666.4L332.2 667.5L331.3 668.1L330.4 668.5L328.7 669.4L325.5 670.9L322.4 672.4L320.7 673.2L319.8 673.7L319 674L317.3 674.6L314.1 675.7L311 676.9L309.3 677.5L308.4 677.8L307.5 678L305.8 678.4L302.8 679.1L299.6 679.9L297.6 680.3L296.2 680.5L295.1 680.7L293.8 680.9L292.1 681.1L293.9 691.9L295.3 691.6L296.5 691.5L297.8 691.3L299.6 691.1L301.9 690.6L305.2 689.9L308.2 689.2L310 688.8L311.4 688.5L312.8 688L314.7 687.4L317.9 686.3L321 685.2L322.8 684.6L324.2 684.1L325.5 683.5L327.4 682.6L330.5 681.1L333.6 679.7L335.4 678.9L336.7 678.2L338 677.5L339.8 676.4L343 674.6L346.1 672.8L348.1 671.6L349.3 670.8L350.3 670.2L352 669.1L355.1 667.2L358.3 665.4L360.1 664.5L361.3 663.9L362.8 663.1L365 661.9L368.3 659.8L371.5 657.7L373.3 656.6L374.8 655.6L376.3 654.4L378.1 652.8L380.7 650.3L383.4 647.8L384.9 646.3L386.1 644.9L387 643.4L388 641.7L389.8 638.7L392 635.4L393.4 632.7L394.3 630.6L394.9 629L395.4 627.5L396.3 625.8Z"/>
<path d="M295.9 680.4L293.9 680.5L292.2 680.6L290.6 680.7L288.7 680.7L285.9 680.8L281.9 681L278.3 681.1L276.2 681.1L274.9 681.2L273.6 681.2L271.6 681.1L268.1 681.1L264.3 681.1L261.7 681L259.9 680.9L258.5 680.8L257 680.7L255.1 680.7L254.9 686.1L256.7 686.3L258.1 686.4L259.6 686.5L261.5 686.6L264.1 686.7L267.9 686.9L271.5 687L273.5 687.1L274.9 687.1L276.3 687.1L278.4 687.1L282.1 687L286 687L288.8 687L290.9 686.9L292.5 686.9L294.1 686.8L296.1 686.8Z"/>
<path d="M255.7 681.9L254.6 681.5L253.7 681.1L252.8 680.7L251.8 680.3L250.4 679.7L248.6 678.9L247.1 678.1L246.6 677.8L246.4 677.5L245.8 677.1L244.7 676.7L242.8 676.1L240.7 675.5L239.3 675.3L238.2 675.2L237.1 675.1L235.6 674.9L233.1 674.5L230.6 674L228.8 673.6L227.6 673.3L226.7 673L225.7 672.7L224.5 672.4L224.5 672.6L225.6 673L226.6 673.4L227.5 673.7L228.7 674.2L230.4 674.7L232.9 675.5L235.3 676.2L236.9 676.5L238 676.7L239 676.9L240.2 677.2L242.2 677.9L244 678.7L244.7 679L244.8 679.1L245.1 679.5L245.9 680.2L247.4 681.1L249.2 682.1L250.5 682.9L251.5 683.4L252.4 683.9L253.3 684.3L254.3 684.9Z"/>
<path d="M243.7 677.7L242.4 678.1L241.5 678.5L240.6 678.9L239.4 679.4L237.6 680L234.8 680.8L232.2 681.6L230.7 682.1L229.7 682.4L228.7 682.6L226.9 683L223.9 683.5L220.9 684L219.1 684.3L218 684.4L216.8 684.5L215 684.5L212 684.7L208.8 684.9L206.6 684.9L205 685L203.8 684.9L202.6 684.9L201 684.9L201 685.1L202.6 685.2L203.8 685.2L205 685.3L206.6 685.3L208.8 685.4L212 685.3L215 685.2L216.8 685.2L218 685.2L219.2 685.1L221 684.9L224.1 684.5L227.1 684.1L228.9 683.8L230 683.6L231.1 683.3L232.6 682.9L235.2 682.2L238 681.5L239.9 680.9L241.2 680.5L242.1 680.1L243.1 679.8L244.3 679.3Z"/>
<path d="M255.2 682.3L254 682.9L253 683.4L251.9 683.9L250.7 684.5L249.1 685.4L247.2 686.6L245.5 687.7L244.7 688.4L244.3 688.9L244.4 689L243.7 689.5L241.8 690.8L239.6 692.1L238.2 693L237.3 693.7L236.1 694.3L234.2 695.2L231.1 696.5L228 697.8L226.2 698.5L225 698.9L223.8 699.2L222 699.6L218.9 700.3L215.9 700.9L214.2 701.3L213.3 701.4L212.4 701.4L210.8 701.4L208 701.6L204.9 701.8L202.7 701.9L201.1 701.9L199.9 701.9L198.6 701.9L197 701.9L197 702.1L198.6 702.2L199.8 702.3L201.1 702.3L202.7 702.4L204.9 702.4L208 702.4L210.8 702.4L212.4 702.5L213.3 702.5L214.4 702.4L216.1 702.2L219.1 701.7L222.2 701.2L224.1 700.9L225.5 700.7L226.8 700.3L228.8 699.6L231.9 698.5L235.1 697.4L237.1 696.6L238.5 695.9L239.6 695.3L241 694.5L243.2 693.2L245.3 692.1L246.4 691.3L246.9 690.7L246.9 690.6L247.3 690.3L248.8 689.4L250.8 688.4L252.3 687.6L253.4 687.1L254.5 686.7L255.6 686.3L256.8 685.7Z"/>
<path d="M228.4 699.4L227.2 700.6L226.4 701.7L225.6 702.7L224.5 703.9L222.9 705.5L220.3 707.6L217.6 709.6L215.6 710.9L214 711.8L212.6 712.4L211.3 713L209.7 713.9L209.7 714.1L211.4 713.3L212.8 712.8L214.2 712.2L215.9 711.5L218 710.3L220.9 708.4L223.7 706.5L225.5 705L226.7 703.8L227.6 702.7L228.5 701.8L229.6 700.6Z"/>
<path d="M289.4 684.9L288.5 686.4L287.9 687.6L287.3 688.7L286.5 690L285.3 692L283.5 694.8L281.9 697.5L280.9 699.1L280.4 700.1L279.9 700.8L278.8 702.1L276.9 704.4L275.1 706.7L274 707.8L273.5 708.3L272.7 709L271.4 710.2L269.3 712.2L267.2 714.4L266.1 715.6L265.6 716.3L265.2 716.7L264.2 717.7L262 719.6L259.7 721.5L258.3 722.6L257.3 723.2L256.1 724L254.4 725.1L251.8 727L249.3 729L247.9 730.2L247.1 730.9L246.5 731.4L245.6 732.1L243.6 733.5L241.4 735L240 735.9L239 736.4L238.3 736.8L237.3 737.3L236.1 737.9L239.5 744.1L240.5 743.5L241.3 743.2L242.3 742.7L243.5 742L245.2 741L247.6 739.5L249.8 738L251 737L251.9 736.3L252.6 735.7L253.8 734.7L256.2 733L258.7 731.2L260.2 730.2L261.3 729.5L262.6 728.7L264.3 727.4L266.8 725.4L269.2 723.5L270.5 722.2L271.4 721.3L272 720.6L272.9 719.6L274.7 717.8L276.7 715.9L277.8 715L278.6 714.3L279.7 713.4L281 711.9L283.1 709.6L285.1 707.2L286.3 705.6L287.1 704.4L287.8 703.3L288.8 701.8L290.5 699.2L292.3 696.4L293.6 694.3L294.5 692.8L295.2 691.6L295.8 690.5L296.6 689.1Z"/>
<path d="M237.8 739.4L236.3 739.6L235 739.7L233.7 739.9L232.2 740.1L230 740.4L226.9 740.7L224.1 741.1L222.5 741.2L221.4 741.3L220.4 741.4L218.8 741.6L215.9 741.9L213.1 742.3L211.4 742.5L210.4 742.7L209.4 742.9L207.8 743.1L205 743.5L201.9 743.9L199.7 744.2L198.1 744.4L196.8 744.6L195.6 744.7L194 744.9L194 745.1L195.6 745L196.9 745L198.1 744.9L199.7 744.8L201.9 744.7L205 744.5L207.9 744.3L209.6 744.2L210.6 744.1L211.6 744L213.2 743.8L216.1 743.7L218.9 743.5L220.5 743.5L221.6 743.4L222.6 743.4L224.2 743.4L227.1 743.3L230.2 743.1L232.4 743L234 742.9L235.3 742.8L236.6 742.7L238.2 742.6Z"/>
<path d="M237.5 740.2L235.5 740.8L233.9 741.3L232.2 741.8L230.1 742.4L227.4 743.3L223.6 744.6L220.1 745.8L218.1 746.5L216.9 746.9L215.7 747.3L213.8 748.2L210.6 749.7L207.4 751.3L205.5 752.2L204.3 752.9L203.2 753.6L201.6 754.7L198.7 756.6L195.7 758.6L193.6 760L192.2 761.1L191.1 762L190 762.9L188.5 763.9L188.7 764.1L190.1 763.1L191.3 762.3L192.4 761.5L193.9 760.5L196.1 759.2L199.3 757.4L202.2 755.8L203.9 754.8L205 754.1L206.2 753.6L208.1 752.8L211.4 751.5L214.7 750.2L216.5 749.5L217.6 749.1L218.8 748.8L220.9 748.3L224.4 747.4L228.3 746.3L231 745.6L233.1 745.1L234.7 744.7L236.4 744.3L238.5 743.8Z"/>
<path d="M236.3 740L235.7 741.5L235.1 742.7L234.6 743.9L233.9 745.4L233.1 747.3L231.9 750L230.8 752.6L230.1 754.1L229.7 755.1L229.3 755.9L228.8 757.1L227.9 759L227 761.1L226.4 762.3L226 763.1L225.7 763.6L225.4 764.2L225 765L229 767L229.4 766.3L229.7 765.8L230 765.2L230.4 764.3L231.1 763L232.1 761L233 759L233.6 757.8L233.9 756.9L234.3 756L235 754.5L236.1 752L237.4 749.3L238.3 747.3L238.9 745.9L239.5 744.6L240 743.4L240.7 742Z"/>
<path d="M226.3 765.1L225.5 765.7L224.7 766.3L224 766.8L223.2 767.5L222.1 768.3L220.6 769.3L219.2 770.1L218.5 770.6L218.2 770.8L217.8 770.9L217.1 771.3L215.7 771.9L214.3 772.7L213.5 773.1L212.9 773.4L212.3 773.6L211.4 774L209.9 774.7L208.2 775.4L207 775.8L206.2 776.1L205.5 776.4L204.8 776.6L204 776.9L204 777.1L204.9 776.9L205.6 776.7L206.3 776.5L207.2 776.3L208.4 775.9L210.1 775.3L211.7 774.8L212.7 774.5L213.3 774.3L213.9 774L214.8 773.7L216.3 773.1L217.7 772.5L218.4 772.3L218.8 772.1L219.3 771.9L220 771.5L221.4 770.7L223.1 769.8L224.3 769.1L225.2 768.5L226 768L226.8 767.5L227.7 766.9Z"/>
<path d="M225.6 765.6L225.4 766.8L225.2 767.7L224.9 768.7L224.7 769.9L224.4 771.5L224 773.8L223.7 775.9L223.6 777.2L223.5 778.1L223.5 778.8L223.4 779.9L223.1 781.8L222.7 783.8L222.5 784.9L222.3 785.6L222.1 786.2L221.7 787.2L221.1 788.9L220.5 790.7L220.1 791.9L219.8 792.8L219.5 793.4L219.2 794.1L218.9 795L219.1 795L219.5 794.2L219.8 793.6L220.2 793L220.6 792.1L221.1 790.9L221.9 789.1L222.6 787.5L223 786.6L223.3 785.9L223.5 785.2L223.9 784.1L224.4 782.2L224.9 780.2L225.2 779L225.3 778.2L225.3 777.4L225.6 776.3L226 774.2L226.6 772L227 770.4L227.4 769.3L227.7 768.4L228 767.5L228.4 766.4Z"/>
<path d="M286.6 694.8L286.5 696.3L286.4 697.5L286.3 698.7L286.2 700L286 701.9L285.5 704.6L285.1 707L284.8 708.3L284.7 709L284.4 709.8L284 711.1L283.4 713.4L282.8 715.7L282.4 717.1L282.1 717.9L281.9 718.7L281.5 719.9L281 721.9L280.4 723.8L280.1 724.8L279.9 725.3L279.6 726L279.4 726.9L279 728.5L278.6 730.3L278.4 731.6L278.2 732.6L278.2 733.3L278.1 733.9L278 734.7L282 735.3L282.1 734.4L282.2 733.7L282.3 733.1L282.4 732.3L282.6 731.2L283 729.5L283.4 727.9L283.6 727.2L283.8 726.8L284 726.2L284.4 725.1L285 723.1L285.6 721.2L286 720L286.3 719.2L286.6 718.3L287 716.9L287.6 714.6L288.3 712.4L288.7 711.2L289 710.3L289.2 709.4L289.6 707.9L290.1 705.4L290.6 702.7L290.9 700.6L291 699.1L291.1 697.8L291.2 696.7L291.4 695.2Z"/>
<path d="M278.9 734.9L278.7 736.6L278.6 738L278.5 739.5L278.4 741.2L278.2 743.6L277.9 746.9L277.6 750.2L277.4 752.5L277.3 754.2L277.2 755.5L277 756.8L276.9 758.4L277.1 758.4L277.4 756.8L277.6 755.5L277.8 754.2L278.1 752.6L278.5 750.3L279.1 747.1L279.7 743.8L280.1 741.4L280.4 739.7L280.6 738.3L280.8 736.9L281.1 735.1Z"/>
<path d="M279.8 732.4L279.2 733.1L278.8 733.5L278.3 734L277.6 734.8L276.7 735.9L275.5 737.6L274.3 739.2L273.7 740.3L273.3 741L272.9 741.8L272.2 742.9L270.7 744.7L269 746.7L267.7 748L266.7 749L265.8 749.7L265 750.5L263.9 751.4L264.1 751.6L265.1 750.7L266.1 750L267 749.3L268.1 748.4L269.5 747.1L271.3 745.3L272.9 743.5L273.8 742.4L274.3 741.6L274.7 740.9L275.3 740L276.5 738.4L277.9 736.8L278.8 735.8L279.5 735.2L280 734.8L280.5 734.3L281.2 733.6Z"/>
<path d="M356.4 723.4L354.4 724.8L352.8 726L351.2 727.1L349.3 728.6L346.5 730.5L342.4 733.3L338.6 736L336.3 737.5L334.7 738.6L333.2 739.6L331.1 741L327.7 743.3L324.5 745.6L322.7 746.9L321.8 747.7L321.1 748.2L319.9 749.1L317.4 750.8L314.6 752.7L312.7 754L311.3 754.9L310.2 755.6L309 756.3L307.6 757.2L312.4 764.8L313.8 763.9L314.9 763.2L316.1 762.5L317.6 761.5L319.7 760.2L322.6 758.2L325.1 756.4L326.5 755.3L327.4 754.7L328.1 754.1L329.7 752.9L332.9 750.7L336.2 748.4L338.2 747L339.6 746.1L341.3 745L343.7 743.3L347.6 740.7L351.6 737.8L354.4 735.8L356.5 734.4L358 733.2L359.6 732L361.6 730.6Z"/>
<path d="M309 758.5L307.6 759.1L306.4 759.6L305.2 760.1L303.7 760.7L301.8 761.6L299.1 762.7L296.6 763.8L295.2 764.5L294.4 764.9L293.8 765.2L292.6 765.7L290.2 766.6L287.8 767.4L286.3 767.9L285.4 768.2L284.4 768.4L282.9 768.8L280.5 769.4L277.9 770.1L276.2 770.5L275.1 770.8L274.2 771L273.3 771.2L272.1 771.4L272.9 775.4L274.1 775.1L275 775L275.9 774.8L277.1 774.6L278.9 774.2L281.5 773.6L283.9 773L285.4 772.7L286.5 772.5L287.6 772.2L289.2 771.8L291.8 770.9L294.2 770.1L295.7 769.6L296.6 769.2L297.3 768.8L298.5 768.3L300.9 767.3L303.7 766.2L305.6 765.5L307.1 764.9L308.3 764.5L309.5 764L311 763.5Z"/>
<path d="M272.3 772.3L271.2 772.5L270.3 772.7L269.4 772.9L268.3 773.2L266.8 773.6L264.8 774.1L263 774.6L262 774.8L261.3 774.9L260.6 775.1L259.5 775.5L257.7 776.4L255.9 777.4L254.8 778L254 778.5L253.3 779L252.4 779.9L250.8 781.2L249.1 782.6L248 783.7L247.3 784.4L246.8 785.1L246.2 785.7L245.5 786.4L245.7 786.6L246.4 785.9L247 785.3L247.6 784.7L248.3 784L249.5 783.1L251.2 781.8L252.9 780.5L253.9 779.8L254.6 779.3L255.3 778.9L256.4 778.4L258.3 777.6L260.1 776.8L261 776.5L261.6 776.4L262.2 776.3L263.3 776.2L265.2 775.9L267.3 775.4L268.7 775.2L269.8 775L270.7 774.8L271.6 774.7L272.7 774.5Z"/>
<path d="M272 773.4L271.5 774.4L271 775.3L270.5 776.2L269.9 777.2L269.2 778.6L268.2 780.6L267.4 782.4L267 783.5L266.8 784.1L266.7 784.6L266.3 785.5L265.5 787.2L264.5 788.9L263.9 789.8L263.5 790.4L263 791L262.3 792.1L261.2 793.8L260 795.7L259.2 797L258.7 798L258.2 798.8L257.8 799.6L257.2 800.5L257.4 800.7L258 799.7L258.5 799L259 798.2L259.6 797.3L260.5 796L261.8 794.2L263 792.6L263.8 791.6L264.3 791.1L264.8 790.4L265.5 789.5L266.5 787.8L267.5 786.2L268 785.2L268.3 784.5L268.5 784L268.9 783.1L269.8 781.4L270.9 779.5L271.7 778.2L272.3 777.2L272.8 776.4L273.4 775.6L274 774.6Z"/>
<path d="M307.7 761.2L307.1 763L306.6 764.5L306.2 765.9L305.6 767.7L304.8 770L303.7 773.2L302.6 776.1L302 777.8L301.7 778.8L301.3 779.7L300.8 781L299.7 783.4L298.7 785.8L298.1 787L297.8 787.6L297.4 788.2L296.8 789.4L295.8 791.4L294.7 793.6L294 795.1L293.4 796.2L293 797L292.7 797.9L292.1 798.9L296.7 801.1L297.2 800L297.6 799.2L298 798.3L298.5 797.3L299.2 795.8L300.2 793.6L301.2 791.7L301.7 790.7L302.1 790L302.6 789.2L303.2 787.8L304.3 785.4L305.3 783L305.9 781.6L306.3 780.6L306.7 779.5L307.3 777.8L308.3 774.8L309.5 771.6L310.3 769.2L310.8 767.5L311.3 766L311.8 764.5L312.3 762.8Z"/>
<path d="M293.5 799.2L292.8 800.2L292.2 800.9L291.6 801.7L290.9 802.6L289.9 803.8L288.4 805.4L287 806.8L286.2 807.6L285.7 808L285.2 808.4L284.4 809.2L283 810.5L281.6 812L280.8 812.8L280.4 813.4L279.9 813.9L279.2 814.8L277.7 816.2L276.2 817.8L275 819L274.2 819.8L273.5 820.4L272.8 821.1L271.9 821.9L272.1 822.1L273 821.3L273.7 820.7L274.5 820.1L275.4 819.3L276.6 818.3L278.3 816.8L279.8 815.4L280.6 814.5L281.1 814L281.6 813.5L282.4 812.8L283.8 811.5L285.3 810.2L286.1 809.5L286.7 809.2L287.2 808.7L288.1 808L289.6 806.6L291.2 805.1L292.4 803.9L293.2 803.1L293.8 802.3L294.5 801.6L295.3 800.8Z"/>
<path d="M293.1 799.5L292.7 800.7L292.3 801.6L292 802.6L291.6 803.8L291.1 805.4L290.4 807.7L290 809.8L289.8 811L289.9 811.7L289.9 812.2L289.6 813.3L288.9 815.3L288.2 817.4L287.7 818.5L287.3 819.3L286.7 820.1L285.9 821.4L284.6 823.8L283.2 826.3L282.2 828.1L281.5 829.4L280.8 830.5L280.2 831.6L279.4 832.9L279.6 833.1L280.4 831.8L281.2 830.7L281.9 829.7L282.7 828.4L283.9 826.7L285.4 824.2L286.9 822L287.8 820.8L288.4 820L288.9 819.2L289.5 818L290.5 815.9L291.3 813.8L291.7 812.6L291.8 811.8L291.8 811.2L292 810.2L292.6 808.3L293.3 806.2L293.9 804.6L294.4 803.5L294.8 802.6L295.2 801.7L295.7 800.5Z"/>
<path d="M354.4 728L354.6 729.5L354.9 730.8L355.1 731.8L355.3 733L355.5 734.8L355.7 737.4L355.8 739.8L355.8 741L355.8 741.7L355.6 742.9L355.6 744.7L355.6 747.3L355.8 749.7L355.8 751.1L356 752.3L356.2 753.1L356.3 754.1L356.6 756L357 758.2L357.3 759.8L357.5 761.1L357.8 762L357.9 762.7L358.1 763.8L369.9 761.2L369.6 760.1L369.4 759.2L369.2 758.4L369 757.5L368.7 756.1L368.4 754L368 752L367.7 750.8L367.6 750.4L367.6 750.1L367.5 749L367.4 746.7L367.3 744.6L367.3 743.6L367.4 742.8L367.5 741.4L367.5 739.4L367.3 736.6L367 733.6L366.7 731.4L366.4 729.7L366.1 728.4L365.9 727.4L365.6 726Z"/>
<path d="M360.1 761.7L359.4 763L358.9 764.1L358.3 765.1L357.6 766.4L356.7 768.1L355.2 770.7L353.8 773.1L353 774.5L352.6 775.4L352.1 776.2L351.3 777.4L349.9 779.5L348.5 781.6L347.7 782.7L347.3 783.3L346.8 783.8L346 784.7L344.6 786.3L343.1 788.1L342 789.2L341.3 790L340.7 790.5L340 791.2L339.2 792L342.8 795.5L343.5 794.7L344.2 794.2L344.8 793.5L345.7 792.7L346.8 791.5L348.4 789.7L349.8 788.1L350.6 787.2L351.2 786.5L351.8 785.7L352.7 784.5L354.1 782.5L355.6 780.4L356.5 779L357.1 778.1L357.6 777.1L358.4 775.7L359.8 773.3L361.3 770.8L362.3 769L363 767.6L363.6 766.6L364.2 765.6L364.9 764.3Z"/>
<path d="M340.2 792.9L339.6 793.6L339.1 794.1L338.6 794.7L338 795.3L337.1 796.2L335.9 797.3L334.8 798.3L334.2 798.8L333.9 799.1L333.5 799.4L332.8 799.9L331.6 801L330.4 802.1L329.7 802.7L329.2 803.2L328.8 803.6L328 804.4L326.7 805.7L325.3 807.1L324.3 808.1L323.6 808.9L323 809.5L322.4 810.2L321.6 810.9L321.8 811.1L322.6 810.4L323.2 809.8L323.9 809.2L324.7 808.5L325.8 807.6L327.3 806.3L328.7 805.1L329.5 804.4L330 804L330.4 803.6L331.2 803L332.4 802L333.7 801.1L334.4 800.6L334.7 800.4L335.2 800.1L335.9 799.6L337.1 798.7L338.4 797.6L339.4 796.8L340.1 796.2L340.6 795.7L341.1 795.2L341.8 794.6Z"/>
<path d="M339.4 793.9L339.3 795L339.2 796L339.1 796.9L339 798.1L339 799.7L338.9 802L338.9 804L338.9 805.3L339 806L339.1 806.5L339.1 807.4L338.9 809.2L338.7 811.1L338.6 812L338.4 812.5L338.2 813.2L337.9 814.3L337.5 816.2L337.2 818.2L336.9 819.6L336.8 820.6L336.7 821.5L336.6 822.2L336.5 823.2L339.5 823.6L339.6 822.6L339.7 821.8L339.8 821L339.9 820.1L340.2 818.7L340.5 816.8L340.9 815L341.1 814.1L341.4 813.5L341.6 812.7L341.8 811.5L342.1 809.6L342.2 807.6L342.3 806.4L342.2 805.6L342.1 805L342.1 804L342.1 802L342.2 799.9L342.3 798.3L342.4 797.2L342.5 796.3L342.6 795.3L342.6 794.1Z"/>
<path d="M337.5 823L336.8 823.9L336.3 824.7L335.9 825.5L335.2 826.4L334.4 827.6L333.1 829.2L332 830.6L331.3 831.4L330.9 831.8L330.5 832.2L329.8 832.9L328.5 834.1L327.2 835.4L326.5 836.1L326 836.6L325.4 837L324.7 837.7L323.4 838.8L322 840.1L321 840.9L320.3 841.5L319.8 841.9L319.2 842.3L318.5 842.9L318.7 843.1L319.4 842.5L319.9 842.1L320.5 841.7L321.2 841.1L322.2 840.3L323.6 839.2L325 838.1L325.8 837.5L326.3 837L326.9 836.6L327.7 835.9L329 834.7L330.3 833.5L331.1 832.8L331.5 832.4L332 832L332.7 831.2L333.9 829.8L335.2 828.3L336.2 827.1L336.8 826.2L337.4 825.4L337.9 824.7L338.5 823.8Z"/>
<path d="M337.9 823.2L338.3 824.1L338.6 824.8L338.9 825.3L339.2 826.1L339.6 827.5L340.1 829.8L340.5 832.2L340.7 834.1L340.8 835.6L340.8 836.9L340.8 838.3L340.9 839.8L341.1 839.8L341.1 838.3L341.2 836.9L341.2 835.6L341.2 834L341.2 832.1L340.9 829.6L340.6 827.3L340.3 825.8L340 824.9L339.7 824.2L339.4 823.6L339.1 822.8Z"/>
<path d="M362.4 762.5L362.5 763L362.6 763.2L362.6 763.7L362.8 764.4L363.1 765.6L363.6 767.6L364.2 769.6L364.6 771L365 772L365.3 773L365.8 774.7L366.5 777.4L367.1 780L367.4 781.5L367.6 782.4L367.7 783.4L367.9 785L368.3 787.7L368.8 790.4L369 791.9L369.2 792.8L369.3 793.7L369.5 795.2L369.7 798.1L370 800.9L370.1 802.6L370.2 803.7L370.2 804.8L370.2 806.5L370.1 809.4L370.1 812.2L370.1 813.9L370 814.8L369.9 815.8L369.8 817.3L369.5 819.9L369.3 822.8L369.1 824.8L368.9 826.1L368.8 827.2L368.7 828.3L368.5 829.7L368.7 829.7L369 828.4L369.2 827.3L369.4 826.2L369.7 824.8L370 822.9L370.5 820.1L370.9 817.4L371.2 816L371.3 815L371.5 814L371.6 812.3L371.9 809.4L372.1 806.6L372.3 804.8L372.3 803.7L372.3 802.5L372.3 800.8L372.3 797.9L372.3 795.1L372.2 793.5L372.2 792.5L372.1 791.5L371.9 790L371.7 787.3L371.5 784.6L371.4 783L371.3 782L371.2 780.9L371 779.3L370.5 776.6L370.1 773.8L369.7 771.9L369.4 770.7L369.1 769.6L368.8 768.4L368.4 766.4L368 764.5L367.8 763.3L367.8 762.8L367.7 762.6L367.7 762.2L367.6 761.5Z"/>
<path d="M364.9 760.6L365.8 761.7L366.6 762.6L367.3 763.5L368.2 764.6L369.5 766.1L371.3 768.3L372.9 770.3L373.9 771.6L374.5 772.4L375.1 773.1L376 774.2L377.4 776L378.8 777.7L379.6 778.6L380 779.1L380.3 779.5L380.8 780.2L381.9 781.7L382.9 783.2L383.5 784.1L383.8 784.6L384.1 785.1L384.6 786.2L385.7 787.9L386.7 789.7L387.4 790.8L387.8 791.4L388.2 792.1L388.9 793.3L390 795.2L391.2 797.4L392.1 798.9L392.7 800.1L393.2 801L393.7 801.9L394.3 803L394.5 803L394 801.8L393.6 800.8L393.2 799.8L392.7 798.6L392 797L391 794.8L390 792.7L389.5 791.5L389.1 790.7L388.8 790L388.2 788.9L387.3 787.1L386.5 785.2L386.1 784.2L385.8 783.6L385.5 782.9L385 782L384.1 780.3L383.2 778.7L382.7 777.8L382.3 777.3L381.9 776.8L381.3 775.8L380.1 774L378.9 772.1L378.2 771L377.6 770.1L377.1 769.3L376.2 767.9L374.7 765.7L373.2 763.4L372.1 761.7L371.2 760.5L370.6 759.5L369.9 758.6L369.1 757.4Z"/>
<circle cx="293" cy="686.5" r="5.5"/>
<circle cx="296" cy="683.6" r="3.2"/>
<circle cx="255" cy="683.4" r="2.8"/>
<circle cx="255" cy="683.4" r="1.6"/>
<circle cx="244" cy="678.5" r="0.9"/>
<circle cx="256" cy="684" r="1.9"/>
<circle cx="229" cy="700" r="0.9"/>
<circle cx="293" cy="687" r="4.2"/>
<circle cx="237.8" cy="741" r="3.5"/>
<circle cx="238" cy="741" r="1.6"/>
<circle cx="238" cy="742" r="1.9"/>
<circle cx="238.5" cy="741" r="2.4"/>
<circle cx="227" cy="766" r="2.2"/>
<circle cx="227" cy="766" r="1.1"/>
<circle cx="227" cy="766" r="1.4"/>
<circle cx="289" cy="695" r="2.4"/>
<circle cx="280" cy="735" r="2"/>
<circle cx="280" cy="735" r="1.1"/>
<circle cx="280.5" cy="733" r="0.9"/>
<circle cx="359" cy="727" r="4.5"/>
<circle cx="310" cy="761" r="4.5"/>
<circle cx="310" cy="761" r="2.6"/>
<circle cx="272.5" cy="773.4" r="2"/>
<circle cx="272.5" cy="773.4" r="1.1"/>
<circle cx="273" cy="774" r="1.1"/>
<circle cx="310" cy="762" r="2.5"/>
<circle cx="294.4" cy="800" r="2.5"/>
<circle cx="294.4" cy="800" r="1.1"/>
<circle cx="294.4" cy="800" r="1.4"/>
<circle cx="360" cy="727" r="5.7"/>
<circle cx="364" cy="762.5" r="6"/>
<circle cx="362.5" cy="763" r="2.7"/>
<circle cx="341" cy="793.8" r="2.5"/>
<circle cx="341" cy="793.8" r="1.1"/>
<circle cx="341" cy="794" r="1.6"/>
<circle cx="338" cy="823.4" r="1.5"/>
<circle cx="338" cy="823.4" r="0.6"/>
<circle cx="338.5" cy="823" r="0.6"/>
<circle cx="365" cy="762" r="2.6"/>
<circle cx="367" cy="759" r="2.6"/>

<circle cx="360" cy="727" r="6.7"/>
</g>
<path d="M661 364.9L660.5 366.6L660.1 368L659.7 369.4L659.1 371.1L658.4 373.5L657.3 376.8L656.4 379.7L656 381.3L655.9 382.1L655.7 382.7L654.9 384.4L653.2 387.8L651.4 391.3L650.2 393.6L649.2 395.1L648 396.8L646.3 399.3L643.7 403.2L641.2 407.1L639.8 409.3L639 410.6L638.2 411.8L636.8 413.5L634.3 416.6L631.9 419.7L630.6 421.5L629.9 422.3L629.2 423L627.7 424.3L624.9 426.7L622.2 429.2L620.9 430.3L620.1 430.9L619.1 431.5L617 432.9L613.1 435.6L609.1 438.3L606.7 440L605 441.2L603.1 442.5L600.1 444.4L595.1 447.5L590.3 450.5L587.7 452.2L586.2 453.2L584.5 454.2L581.4 455.8L575.9 458.9L570.3 461.9L567 463.6L564.7 464.7L562.3 465.8L558.5 467.6L552.2 470.8L546.1 473.9L542.6 475.7L540.4 476.7L538.1 477.9L534.5 479.8L528.2 483.3L521.8 486.8L518.1 488.8L515.8 490.1L513.3 491.5L509.6 493.8L503.1 497.9L496.4 502L492.2 504.7L489.4 506.5L486.8 508.3L483.4 510.7L478 514.4L472.7 518L469.8 519.9L468.3 521L467.1 521.9L465.3 523.3L461.9 526L458.3 528.7L456.3 530.1L455.2 531L454.2 531.9L452.6 533.4L449.7 536.1L446.7 538.9L445 540.5L444 541.6L443 542.8L441.4 544.6L438.6 547.7L435.9 550.7L434.5 552L433.6 552.9L432.6 554.1L430.8 556.4L427.4 560.8L423.7 565.6L421.2 569L419.4 571.6L417.5 574.3L415.2 577.7L411.7 582.8L408.5 587.5L406.8 589.9L405.8 591.2L405.1 592.3L404 594.1L401.8 597.8L399.5 601.5L398.2 603.6L397.4 604.9L396.6 606.3L395.5 608.5L393.5 612.5L391.5 616.5L390.2 618.8L389.4 620.4L388.6 622.1L387.5 624.7L385.8 629L384 633.5L382.9 636.2L382.3 638.1L381.8 639.9L381 642.3L379.8 646.2L378.5 650.1L377.8 652.1L377.5 653.3L377.2 654.4L376.8 656.1L375.8 659.4L374.9 662.8L374.4 664.7L374 666L373.8 667.2L373.3 669.1L372.4 672.5L371.5 675.9L371.1 677.9L370.8 679.1L370.6 680.1L370 682L369 685.3L367.9 688.6L367.2 690.3L366.7 691.3L366.1 692.6L365.3 694.7L364 698.3L362.9 701.9L362.2 704L361.8 705.5L361.5 706.9L361 709L360.1 712.5L359 716.3L358.3 718.9L357.9 720.8L357.5 722.2L357.1 723.7L356.7 725.5L361.7 726.9L362.2 725L362.6 723.6L363 722.1L363.5 720.3L364.3 717.7L365.3 713.9L366.3 710.4L366.9 708.2L367.2 706.9L367.6 705.6L368.2 703.6L369.4 700.1L370.6 696.7L371.3 694.9L371.8 693.8L372.4 692.5L373.3 690.5L374.4 687.1L375.5 683.7L376.1 681.7L376.5 680.3L376.7 679.1L377.1 677.3L378 673.9L378.9 670.6L379.4 668.6L379.7 667.4L380 666.3L380.6 664.4L381.6 661L382.5 657.7L383 656L383.3 655.1L383.6 654L384.3 652L385.6 648.2L386.9 644.2L387.7 641.7L388.2 640.1L388.8 638.4L389.9 635.8L391.6 631.4L393.4 627L394.4 624.5L395 623L395.7 621.6L396.9 619.2L398.9 615.1L400.8 611.1L401.9 608.9L402.5 607.7L403.1 606.5L404.3 604.4L406.6 600.6L408.7 596.9L409.8 595L410.3 594.1L411.1 592.8L412.7 590.4L415.9 585.6L419.3 580.5L421.6 577L423.3 574.3L425.1 571.7L427.4 568.4L431 563.6L434.4 559.1L436.1 556.9L436.9 555.9L437.6 555.2L439 553.7L441.8 550.7L444.7 547.5L446.3 545.6L447.2 544.6L448.1 543.6L449.7 542.1L452.7 539.3L455.6 536.6L457.1 535.1L457.9 534.4L458.9 533.6L460.9 532.2L464.5 529.4L468 526.7L469.8 525.3L470.8 524.5L472.3 523.5L475.1 521.6L480.4 518L485.9 514.2L489.3 511.9L491.8 510.1L494.5 508.3L498.7 505.7L505.3 501.5L511.8 497.5L515.6 495.2L517.9 493.8L520.2 492.6L523.9 490.6L530.2 487.1L536.6 483.6L540.1 481.7L542.3 480.5L544.5 479.5L548 477.7L554.2 474.6L560.4 471.4L564.1 469.6L566.5 468.5L568.9 467.4L572.3 465.6L577.9 462.5L583.4 459.5L586.5 457.8L588.3 456.7L590 455.6L592.6 454L597.3 450.9L602.2 447.8L605.3 445.9L607.2 444.6L609 443.3L611.4 441.6L615.3 438.8L619.2 436.2L621.2 434.9L622.4 434.1L623.4 433.4L624.8 432.1L627.5 429.7L630.3 427.2L631.8 425.8L632.7 424.9L633.6 423.8L634.9 422.1L637.3 419L639.7 415.8L641.1 414L642 412.7L642.9 411.3L644.3 409L646.7 405.2L649.3 401.3L650.9 398.8L652.1 397L653.1 395.2L654.4 392.9L656.2 389.2L657.9 385.8L658.7 383.9L659 382.7L659.1 381.9L659.3 380.5L660.1 377.6L661.1 374.3L661.8 371.9L662.2 370.1L662.6 368.7L662.9 367.3L663.4 365.5Z" fill="#f2cd70" opacity=".7"/>
<path d="M363.3 651.9L361.4 653L359.9 653.8L358.3 654.7L356.4 655.8L353.8 657.3L350.3 659.5L347 661.5L345.2 662.7L344 663.5L343 664.2L341.4 665.3L338.3 667.1L335.2 669L333.5 670L332.4 670.6L331.4 671.2L329.6 672L326.5 673.5L323.4 675L321.7 675.8L320.6 676.3L319.6 676.7L317.9 677.3L314.8 678.4L311.6 679.5L309.8 680.2L308.8 680.5L307.7 680.8L306 681.2L303 681.9L299.8 682.6L297.7 683L296.2 683.3L295 683.4L293.7 683.6L292.2 683.9L292.8 688.1L294.4 687.9L295.6 687.8L296.8 687.6L298.5 687.3L300.7 686.9L304 686.1L307 685.4L308.7 685L310 684.7L311.2 684.4L313.1 683.7L316.2 682.6L319.3 681.5L321.1 680.9L322.4 680.4L323.6 679.9L325.4 679L328.5 677.5L331.6 676.1L333.4 675.2L334.6 674.6L335.8 674L337.6 672.9L340.7 671.1L343.8 669.2L345.6 668.1L346.7 667.3L347.8 666.6L349.5 665.5L352.7 663.5L356.3 661.4L358.8 659.9L360.7 658.9L362.2 658L363.8 657.2L365.7 656.1Z" fill="#f2cd70" opacity=".6"/>
<path d="M295.5 681.6L293.4 681.7L291.8 681.8L290.2 681.9L288.2 682L285.4 682.1L281.5 682.2L277.8 682.3L275.7 682.4L274.4 682.4L273.1 682.4L271 682.4L267.5 682.4L263.7 682.3L261.1 682.2L259.3 682.2L257.9 682.1L256.4 682L254.6 681.9L254.4 683.9L256.3 684L257.7 684.1L259.2 684.2L261 684.4L263.7 684.5L267.5 684.6L271 684.8L273 684.8L274.4 684.9L275.7 684.9L277.9 684.8L281.5 684.8L285.5 684.8L288.3 684.8L290.3 684.7L291.9 684.7L293.5 684.6L295.5 684.6Z" fill="#f2cd70" opacity=".6"/>
<path d="M290.9 685.6L290.1 687L289.5 688.2L288.8 689.4L288 690.8L286.8 692.7L285.1 695.6L283.4 698.2L282.4 699.9L281.9 700.8L281.3 701.7L280.2 703.1L278.3 705.5L276.3 707.8L275.2 709L274.5 709.6L273.8 710.3L272.5 711.4L270.4 713.4L268.4 715.5L267.4 716.7L266.9 717.3L266.4 717.9L265.2 719L263 720.9L260.6 722.8L259.1 724L258 724.7L256.9 725.4L255.2 726.5L252.7 728.4L250.3 730.3L248.9 731.4L248.1 732.1L247.5 732.7L246.4 733.5L244.4 734.9L242.2 736.5L240.6 737.4L239.6 738L238.8 738.4L237.9 738.8L236.7 739.4L237.9 741.6L239 741L239.8 740.6L240.7 740.2L241.9 739.5L243.5 738.6L245.8 737.1L247.9 735.6L249.1 734.7L249.8 734.1L250.6 733.4L251.9 732.4L254.3 730.6L256.8 728.8L258.4 727.8L259.6 727.1L260.7 726.3L262.4 725.1L264.8 723.1L267.1 721.2L268.4 720L269.1 719.3L269.7 718.6L270.6 717.5L272.6 715.6L274.6 713.7L275.8 712.7L276.6 712L277.5 711.2L278.7 709.9L280.7 707.5L282.7 705.2L283.9 703.7L284.6 702.7L285.3 701.6L286.3 700L287.9 697.4L289.8 694.6L291 692.6L291.9 691.1L292.6 690L293.2 688.8L294.1 687.4Z" fill="#f2cd70" opacity=".6"/>
<path d="M357.4 725L355.4 726.4L353.8 727.6L352.3 728.8L350.3 730.2L347.5 732.2L343.5 735L339.7 737.7L337.3 739.3L335.7 740.4L334.2 741.4L332.2 742.8L328.8 745.1L325.7 747.4L324 748.7L323.1 749.4L322.4 750L321.1 750.9L318.6 752.7L315.8 754.7L313.8 756L312.4 756.9L311.3 757.6L310.1 758.3L308.7 759.2L310.3 761.8L311.7 760.9L312.9 760.2L314 759.5L315.5 758.6L317.5 757.2L320.4 755.3L323 753.5L324.3 752.6L325.1 751.9L325.9 751.3L327.6 750.1L330.8 747.9L334.1 745.6L336.1 744.2L337.6 743.2L339.2 742.2L341.7 740.6L345.5 738L349.6 735.1L352.4 733.2L354.4 731.7L356 730.6L357.6 729.4L359.6 728Z" fill="#f2cd70" opacity=".6"/>
<path d="M308.3 761.1L307.7 762.9L307.3 764.4L306.8 765.8L306.3 767.6L305.5 769.9L304.4 773.1L303.4 776.1L302.8 777.8L302.5 778.8L302.1 779.7L301.5 781.1L300.5 783.5L299.5 785.9L298.9 787.1L298.6 787.8L298.2 788.5L297.6 789.6L296.6 791.6L295.6 793.8L294.9 795.3L294.4 796.4L294 797.2L293.6 798L293.1 799.1L294.7 799.9L295.2 798.8L295.6 798L296 797.2L296.6 796.1L297.3 794.6L298.4 792.4L299.4 790.5L299.9 789.5L300.3 788.8L300.8 788L301.4 786.7L302.5 784.3L303.5 781.9L304.1 780.5L304.5 779.6L304.9 778.5L305.5 776.8L306.6 773.9L307.8 770.7L308.6 768.3L309.2 766.6L309.6 765.1L310.1 763.6L310.7 761.9Z" fill="#f2cd70" opacity=".6"/>
<path d="M357.3 726.9L357.6 728.4L357.8 729.6L358.1 730.7L358.3 732L358.6 733.9L358.8 736.7L359 739.2L359 740.7L359 741.6L358.9 742.6L358.8 744.2L358.9 746.6L359.1 748.9L359.2 750.3L359.3 751.1L359.4 751.9L359.7 752.9L360 754.8L360.4 757L360.7 758.6L360.9 759.7L361.2 760.5L361.4 761.4L361.6 762.4L365.4 761.6L365.2 760.5L365 759.6L364.8 758.8L364.6 757.8L364.3 756.3L364 754.2L363.7 752.2L363.4 751.1L363.3 750.5L363.3 749.9L363.2 748.7L363.1 746.4L363 744.1L363.1 742.8L363.2 741.9L363.3 740.8L363.3 739.1L363.2 736.3L362.9 733.4L362.7 731.4L362.4 729.8L362.2 728.6L361.9 727.5L361.7 726.1Z" fill="#f2cd70" opacity=".6"/>
<path d="M360.8 761.9L360.1 763.2L359.6 764.2L359 765.3L358.4 766.5L357.4 768.3L355.9 770.9L354.6 773.3L353.8 774.7L353.3 775.7L352.8 776.5L352 777.8L350.6 779.9L349.2 782L348.4 783.1L347.9 783.7L347.5 784.3L346.7 785.2L345.3 786.8L343.7 788.6L342.7 789.8L341.9 790.6L341.3 791.2L340.6 791.8L339.9 792.6L341.1 793.9L341.9 793.1L342.6 792.5L343.2 791.9L344 791.1L345.2 789.9L346.7 788.2L348.2 786.6L349 785.7L349.6 785.1L350.1 784.4L351 783.2L352.4 781.1L353.9 779L354.7 777.7L355.3 776.8L355.9 775.9L356.7 774.5L358.1 772.1L359.6 769.6L360.6 767.8L361.3 766.5L361.9 765.5L362.5 764.4L363.2 763.1Z" fill="#f2cd70" opacity=".6"/>
</g>
<path d="M305.8 41.9L309.6 43.6L312.6 44.9L315.4 46.2L318.7 48L323.6 50.7L330.8 54.7L337.7 58.7L341.6 61.2L344.1 63L346.6 65L350.5 68L356.9 72.5L363.1 76.8L366.5 79.1L368.2 80.3L369.7 81.5L372.4 83.6L377.5 87.6L382.7 91.6L385.7 93.9L387.4 95.3L388.9 96.7L391.5 99L396 103.2L400.5 107.2L402.9 109.5L404.2 110.8L405.5 112.2L407.7 114.6L411.7 118.7L415.7 122.8L418.1 125.2L419.5 126.6L420.7 127.9L422.6 130L426 134L429.4 137.8L431.3 139.9L432.2 140.9L432.9 141.7L434.3 143.8L437 147.8L439.8 152L441.4 154.4L442.2 155.7L443 157.2L444.3 160L446.6 164.7L448.9 169.2L450 171.6L450.5 173L451.2 174.7L452.4 177.6L454.5 182.5L456.8 187.3L458.1 190L458.9 191.6L459.7 193.2L461.1 196.1L463.5 201.5L466.1 207L467.6 210.4L468.6 212.6L469.6 214.8L471 218.3L473.3 224.2L475.5 230L476.5 233.2L477 235.2L477.7 237.5L479 241L481.3 246.5L483.5 251.8L484.8 254.9L485.8 257.1L487 259.2L488.8 261.9L491.8 266.4L494.8 271L496.7 273.8L498.2 275.9L499.9 277.7L502 279.8L505.5 283.3L508.9 286.9L511 289.1L512.6 290.6L514.3 291.9L516.5 293.4L520.4 296.1L524.3 298.9L526.7 300.6L528.6 301.9L530.6 302.9L533.1 304.1L537.3 306.1L541.6 308.2L544.3 309.4L546.3 310.1L548.1 310.6L550.3 311.2L554.1 312.4L558 313.7L560.4 314.5L562 315L563.4 315.3L565.3 315.8L568.5 316.6L571.9 317.4L574.3 318L576 318.4L577.2 318.6L578.2 318.8L579.7 319.1L582.3 306.9L580.7 306.6L579.5 306.3L578.5 306.1L577.1 305.8L575 305.3L571.5 304.4L568.3 303.6L566.3 303.2L565.2 302.9L564.1 302.6L561.9 301.9L557.9 300.6L553.9 299.3L551.5 298.6L550.2 298.2L549.1 297.8L546.8 296.8L542.7 294.9L538.5 292.9L536.1 291.7L534.9 291.1L533.8 290.4L531.6 288.8L527.6 285.9L523.7 283.1L521.5 281.7L520.6 281L519.8 280.3L518 278.3L514.5 274.7L510.9 271L508.8 268.9L507.8 267.9L506.9 266.7L505.2 264.2L502.2 259.6L499.2 255L497.6 252.6L497 251.4L496.3 250L495.1 246.9L492.7 241.5L490.5 236.3L489.5 233.6L489 231.8L488.3 229.5L487 225.8L484.7 219.8L482.3 213.8L480.7 210.1L479.6 207.7L478.5 205.3L477 202L474.5 196.5L472 191.1L470.5 188L469.6 186.2L468.8 184.6L467.6 182.2L465.5 177.5L463.4 172.8L462.3 170.3L461.7 168.7L461 166.8L459.7 164L457.4 159.3L455.1 154.7L453.7 151.9L452.7 149.9L451.5 147.9L449.8 145.3L447 141.2L444.2 137.1L442.6 134.7L441.4 133.1L440.1 131.8L438.3 129.8L435 126L431.6 122.2L429.6 119.9L428.1 118.3L426.6 116.7L424.3 114.4L420.3 110.3L416.4 106.3L414.3 104L412.9 102.4L411.2 100.8L408.6 98.3L404 94.2L399.5 90.2L396.8 87.8L394.9 86.2L392.8 84.7L389.7 82.4L384.5 78.4L379.4 74.6L376.6 72.4L374.8 71.1L372.7 69.8L369.3 67.5L363.1 63.5L356.8 59.2L353.1 56.4L350.3 54.4L347.1 52.4L342.5 49.9L335.2 46.3L327.3 42.8L321.6 40.8L317.4 39.9L314.1 39.5L311 39.1L307.2 38.1Z" fill="url(#gArrow)"/>
<g clip-path="url(#cBrain)"><path d="M305.8 41.9L309.6 43.6L312.6 44.9L315.4 46.2L318.7 48L323.6 50.7L330.8 54.7L337.7 58.7L341.6 61.2L344.1 63L346.6 65L350.5 68L356.9 72.5L363.1 76.8L366.5 79.1L368.2 80.3L369.7 81.5L372.4 83.6L377.5 87.6L382.7 91.6L385.7 93.9L387.4 95.3L388.9 96.7L391.5 99L396 103.2L400.5 107.2L402.9 109.5L404.2 110.8L405.5 112.2L407.7 114.6L411.7 118.7L415.7 122.8L418.1 125.2L419.5 126.6L420.7 127.9L422.6 130L426 134L429.4 137.8L431.3 139.9L432.2 140.9L432.9 141.7L434.3 143.8L437 147.8L439.8 152L441.4 154.4L442.2 155.7L443 157.2L444.3 160L446.6 164.7L448.9 169.2L450 171.6L450.5 173L451.2 174.7L452.4 177.6L454.5 182.5L456.8 187.3L458.1 190L458.9 191.6L459.7 193.2L461.1 196.1L463.5 201.5L466.1 207L467.6 210.4L468.6 212.6L469.6 214.8L471 218.3L473.3 224.2L475.5 230L476.5 233.2L477 235.2L477.7 237.5L479 241L481.3 246.5L483.5 251.8L484.8 254.9L485.8 257.1L487 259.2L488.8 261.9L491.8 266.4L494.8 271L496.7 273.8L498.2 275.9L499.9 277.7L502 279.8L505.5 283.3L508.9 286.9L511 289.1L512.6 290.6L514.3 291.9L516.5 293.4L520.4 296.1L524.3 298.9L526.7 300.6L528.6 301.9L530.6 302.9L533.1 304.1L537.3 306.1L541.6 308.2L544.3 309.4L546.3 310.1L548.1 310.6L550.3 311.2L554.1 312.4L558 313.7L560.4 314.5L562 315L563.4 315.3L565.3 315.8L568.5 316.6L571.9 317.4L574.3 318L576 318.4L577.2 318.6L578.2 318.8L579.7 319.1L582.3 306.9L580.7 306.6L579.5 306.3L578.5 306.1L577.1 305.8L575 305.3L571.5 304.4L568.3 303.6L566.3 303.2L565.2 302.9L564.1 302.6L561.9 301.9L557.9 300.6L553.9 299.3L551.5 298.6L550.2 298.2L549.1 297.8L546.8 296.8L542.7 294.9L538.5 292.9L536.1 291.7L534.9 291.1L533.8 290.4L531.6 288.8L527.6 285.9L523.7 283.1L521.5 281.7L520.6 281L519.8 280.3L518 278.3L514.5 274.7L510.9 271L508.8 268.9L507.8 267.9L506.9 266.7L505.2 264.2L502.2 259.6L499.2 255L497.6 252.6L497 251.4L496.3 250L495.1 246.9L492.7 241.5L490.5 236.3L489.5 233.6L489 231.8L488.3 229.5L487 225.8L484.7 219.8L482.3 213.8L480.7 210.1L479.6 207.7L478.5 205.3L477 202L474.5 196.5L472 191.1L470.5 188L469.6 186.2L468.8 184.6L467.6 182.2L465.5 177.5L463.4 172.8L462.3 170.3L461.7 168.7L461 166.8L459.7 164L457.4 159.3L455.1 154.7L453.7 151.9L452.7 149.9L451.5 147.9L449.8 145.3L447 141.2L444.2 137.1L442.6 134.7L441.4 133.1L440.1 131.8L438.3 129.8L435 126L431.6 122.2L429.6 119.9L428.1 118.3L426.6 116.7L424.3 114.4L420.3 110.3L416.4 106.3L414.3 104L412.9 102.4L411.2 100.8L408.6 98.3L404 94.2L399.5 90.2L396.8 87.8L394.9 86.2L392.8 84.7L389.7 82.4L384.5 78.4L379.4 74.6L376.6 72.4L374.8 71.1L372.7 69.8L369.3 67.5L363.1 63.5L356.8 59.2L353.1 56.4L350.3 54.4L347.1 52.4L342.5 49.9L335.2 46.3L327.3 42.8L321.6 40.8L317.4 39.9L314.1 39.5L311 39.1L307.2 38.1Z" fill="#d9581a" opacity=".55"/></g>
<path d="M575.7 286 L619.5 323 L566 335 L575.5 317 L579 305 Z" fill="#f08b2f"/>

<g font-family="'Liberation Sans', sans-serif" font-size="50" fill="#0b0b0b" stroke="#0b0b0b" stroke-width="1.5" stroke-linejoin="round">
<text x="579.2" y="112.2" letter-spacing="0.36">motor cortex</text>
<text x="131" y="420.5">spinal cord</text>
<text x="660" y="560">nerve</text>
<text x="148" y="905.7">muscle</text>
</g>
<rect x="453" y="99" width="111.5" height="3" fill="#0b0b0b"/>

</svg>
</body></html>
